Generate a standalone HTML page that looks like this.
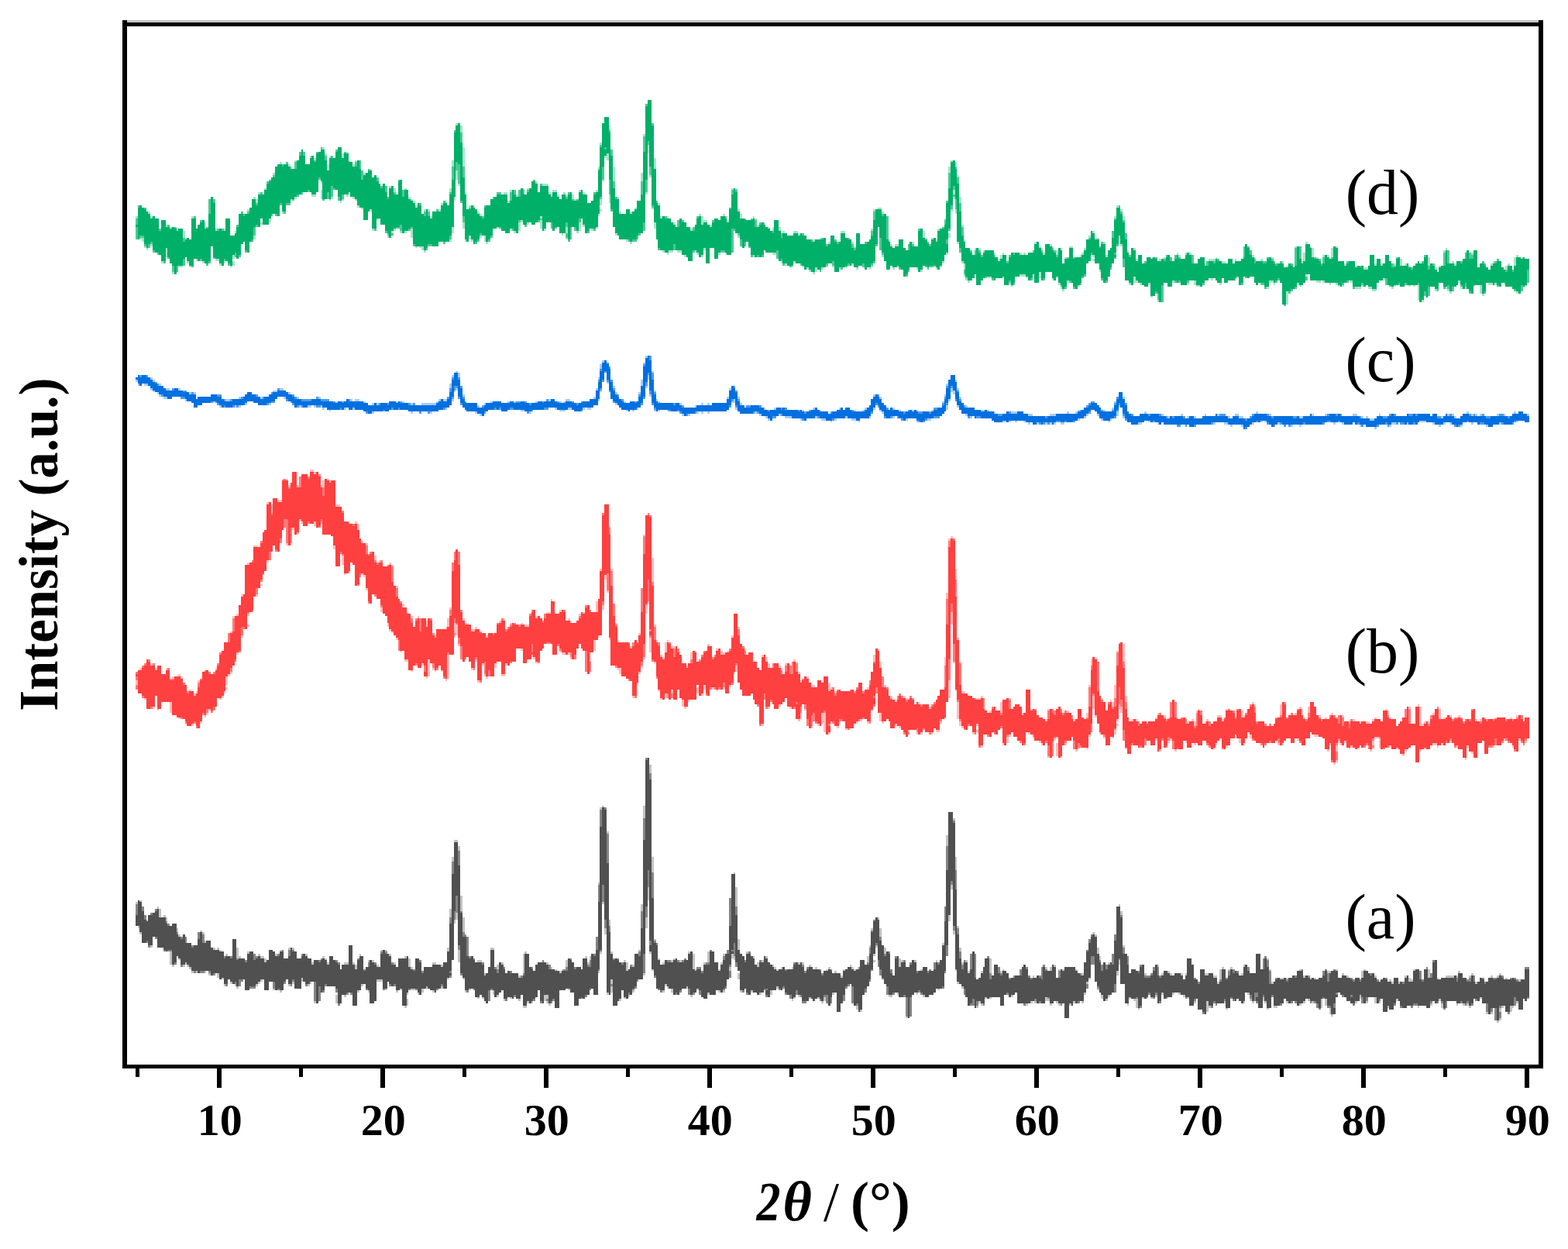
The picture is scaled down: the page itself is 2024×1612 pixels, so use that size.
<!DOCTYPE html>
<html lang="en">
<head>
<meta charset="utf-8">
<title>XRD patterns</title>
<style>
html,body{margin:0;padding:0;background:#fff;}
body{width:2024px;height:1612px;overflow:hidden;}
svg{display:block;}
text{font-family:"Liberation Serif","DejaVu Serif",serif;fill:#000;}
.tl{font-size:58px;font-weight:bold;}
.lab{font-size:82px;}
.yl{font-size:72px;font-weight:bold;}
.xl{font-size:72px;font-weight:bold;}
</style>
</head>
<body>
<svg width="2024" height="1612" viewBox="0 0 2024 1612">
<rect x="0" y="0" width="2024" height="1612" fill="#fff"/>
<g id="curves" shape-rendering="crispEdges">
<g id="curve-a">
<path fill="#C2C2C2" d="M174.79 1164.46h2.78v2.78h-2.78zM177.56 1195h2.78v2.78h-2.78zM180.34 1161.69h2.78v2.78h-2.78zM180.34 1203.33h2.78v2.78h-2.78zM188.67 1186.68h2.78v2.78h-2.78zM194.22 1219.99h2.78v2.78h-2.78zM202.55 1170.02h2.78v2.78h-2.78zM205.33 1172.79h2.78v11.11h-2.78zM210.88 1181.12h2.78v2.78h-2.78zM213.66 1183.9h2.78v5.55h-2.78zM219.21 1228.32h2.78v16.66h-2.78zM221.99 1244.98h2.78v2.78h-2.78zM227.54 1197.78h2.78v5.55h-2.78zM230.32 1206.11h2.78v2.78h-2.78zM230.32 1236.65h2.78v2.78h-2.78zM235.87 1244.98h2.78v2.78h-2.78zM238.65 1242.2h2.78v2.78h-2.78zM241.42 1244.98h2.78v2.78h-2.78zM244.2 1247.76h2.78v2.78h-2.78zM246.97 1253.31h2.78v2.78h-2.78zM252.53 1253.31h2.78v2.78h-2.78zM258.08 1200.56h2.78v2.78h-2.78zM260.86 1203.33h2.78v2.78h-2.78zM263.63 1214.44h2.78v2.78h-2.78zM263.63 1253.31h2.78v2.78h-2.78zM269.19 1256.09h2.78v2.78h-2.78zM274.74 1222.77h2.78v2.78h-2.78zM280.29 1222.77h2.78v2.78h-2.78zM280.29 1256.09h2.78v5.55h-2.78zM283.07 1225.54h2.78v2.78h-2.78zM285.84 1261.64h2.78v2.78h-2.78zM288.62 1269.97h2.78v2.78h-2.78zM291.4 1231.1h2.78v2.78h-2.78zM296.95 1267.19h2.78v2.78h-2.78zM302.5 1269.97h2.78v2.78h-2.78zM305.28 1222.77h2.78v13.88h-2.78zM305.28 1272.74h2.78v2.78h-2.78zM308.06 1233.87h2.78v2.78h-2.78zM319.16 1228.32h2.78v2.78h-2.78zM330.27 1269.97h2.78v2.78h-2.78zM333.04 1231.1h2.78v2.78h-2.78zM333.04 1267.19h2.78v2.78h-2.78zM335.82 1233.87h2.78v2.78h-2.78zM335.82 1264.41h2.78v2.78h-2.78zM338.6 1233.87h2.78v2.78h-2.78zM341.37 1236.65h2.78v5.55h-2.78zM352.48 1275.52h2.78v2.78h-2.78zM355.25 1231.1h2.78v2.78h-2.78zM360.81 1225.54h2.78v2.78h-2.78zM360.81 1278.3h2.78v2.78h-2.78zM371.91 1222.77h2.78v2.78h-2.78zM371.91 1269.97h2.78v2.78h-2.78zM377.47 1222.77h2.78v2.78h-2.78zM377.47 1267.19h2.78v2.78h-2.78zM388.57 1261.64h2.78v5.55h-2.78zM394.12 1231.1h2.78v2.78h-2.78zM396.9 1269.97h2.78v2.78h-2.78zM399.68 1267.19h2.78v2.78h-2.78zM402.45 1242.2h2.78v2.78h-2.78zM405.23 1292.18h2.78v2.78h-2.78zM416.34 1233.87h2.78v2.78h-2.78zM419.11 1236.65h2.78v2.78h-2.78zM421.89 1242.2h2.78v2.78h-2.78zM432.99 1283.85h2.78v11.11h-2.78zM444.1 1242.2h2.78v2.78h-2.78zM444.1 1283.85h2.78v2.78h-2.78zM446.88 1242.2h2.78v2.78h-2.78zM455.2 1242.2h2.78v2.78h-2.78zM457.98 1244.98h2.78v5.55h-2.78zM460.76 1278.3h2.78v2.78h-2.78zM463.53 1231.1h2.78v2.78h-2.78zM466.31 1269.97h2.78v2.78h-2.78zM474.64 1239.43h2.78v2.78h-2.78zM474.64 1278.3h2.78v2.78h-2.78zM480.19 1239.43h2.78v2.78h-2.78zM485.75 1244.98h2.78v2.78h-2.78zM485.75 1264.41h2.78v2.78h-2.78zM488.52 1264.41h2.78v2.78h-2.78zM491.3 1225.54h2.78v2.78h-2.78zM491.3 1264.41h2.78v2.78h-2.78zM496.85 1225.54h2.78v2.78h-2.78zM496.85 1275.52h2.78v2.78h-2.78zM502.4 1231.1h2.78v2.78h-2.78zM507.96 1242.2h2.78v2.78h-2.78zM510.73 1278.3h2.78v2.78h-2.78zM516.29 1275.52h2.78v2.78h-2.78zM521.84 1233.87h2.78v2.78h-2.78zM521.84 1297.73h2.78v2.78h-2.78zM524.61 1281.07h2.78v2.78h-2.78zM524.61 1289.4h2.78v8.33h-2.78zM527.39 1236.65h2.78v11.11h-2.78zM530.17 1247.76h2.78v2.78h-2.78zM530.17 1275.52h2.78v2.78h-2.78zM532.94 1275.52h2.78v2.78h-2.78zM538.5 1281.07h2.78v2.78h-2.78zM544.05 1275.52h2.78v5.55h-2.78zM549.6 1272.74h2.78v2.78h-2.78zM557.93 1242.2h2.78v2.78h-2.78zM557.93 1278.3h2.78v2.78h-2.78zM560.71 1242.2h2.78v2.78h-2.78zM569.04 1244.98h2.78v2.78h-2.78zM569.04 1272.74h2.78v2.78h-2.78zM577.37 1222.77h2.78v5.55h-2.78zM577.37 1261.64h2.78v2.78h-2.78zM580.14 1172.79h2.78v11.11h-2.78zM582.92 1106.16h2.78v5.55h-2.78zM585.7 1083.95h2.78v2.78h-2.78zM585.7 1186.68h2.78v5.55h-2.78zM588.47 1083.95h2.78v2.78h-2.78zM588.47 1178.35h2.78v8.33h-2.78zM591.25 1092.28h2.78v5.55h-2.78zM591.25 1225.54h2.78v16.66h-2.78zM594.02 1156.13h2.78v19.43h-2.78zM596.8 1183.9h2.78v19.43h-2.78zM596.8 1261.64h2.78v2.78h-2.78zM599.58 1278.3h2.78v2.78h-2.78zM605.13 1275.52h2.78v2.78h-2.78zM616.24 1239.43h2.78v2.78h-2.78zM616.24 1286.63h2.78v2.78h-2.78zM619.01 1239.43h2.78v2.78h-2.78zM621.79 1286.63h2.78v2.78h-2.78zM624.57 1256.09h2.78v2.78h-2.78zM632.89 1222.77h2.78v2.78h-2.78zM635.67 1222.77h2.78v2.78h-2.78zM635.67 1278.3h2.78v5.55h-2.78zM641.22 1244.98h2.78v5.55h-2.78zM641.22 1283.85h2.78v2.78h-2.78zM646.78 1242.2h2.78v2.78h-2.78zM649.55 1289.4h2.78v2.78h-2.78zM657.88 1286.63h2.78v2.78h-2.78zM668.99 1258.86h2.78v2.78h-2.78zM668.99 1289.4h2.78v2.78h-2.78zM674.54 1231.1h2.78v24.99h-2.78zM674.54 1297.73h2.78v2.78h-2.78zM677.32 1228.32h2.78v2.78h-2.78zM677.32 1297.73h2.78v2.78h-2.78zM680.09 1292.18h2.78v2.78h-2.78zM685.65 1292.18h2.78v2.78h-2.78zM702.3 1283.85h2.78v8.33h-2.78zM705.08 1242.2h2.78v2.78h-2.78zM705.08 1283.85h2.78v5.55h-2.78zM705.08 1292.18h2.78v2.78h-2.78zM707.86 1294.95h2.78v2.78h-2.78zM710.63 1247.76h2.78v2.78h-2.78zM716.19 1250.53h2.78v2.78h-2.78zM721.74 1253.31h2.78v2.78h-2.78zM724.52 1250.53h2.78v2.78h-2.78zM730.07 1239.43h2.78v8.33h-2.78zM732.84 1275.52h2.78v2.78h-2.78zM755.06 1233.87h2.78v2.78h-2.78zM757.83 1242.2h2.78v2.78h-2.78zM760.61 1233.87h2.78v5.55h-2.78zM771.71 1139.48h2.78v2.78h-2.78zM771.71 1253.31h2.78v2.78h-2.78zM774.49 1042.3h2.78v2.78h-2.78zM774.49 1228.32h2.78v2.78h-2.78zM777.27 1039.53h2.78v2.78h-2.78zM777.27 1164.46h2.78v2.78h-2.78zM780.04 1197.78h2.78v8.33h-2.78zM782.82 1072.84h2.78v2.78h-2.78zM782.82 1281.07h2.78v2.78h-2.78zM785.6 1186.68h2.78v8.33h-2.78zM788.37 1228.32h2.78v2.78h-2.78zM788.37 1264.41h2.78v5.55h-2.78zM788.37 1272.74h2.78v8.33h-2.78zM799.48 1289.4h2.78v2.78h-2.78zM805.03 1239.43h2.78v2.78h-2.78zM805.03 1286.63h2.78v2.78h-2.78zM807.81 1242.2h2.78v11.11h-2.78zM810.58 1283.85h2.78v2.78h-2.78zM816.14 1244.98h2.78v2.78h-2.78zM816.14 1278.3h2.78v2.78h-2.78zM824.47 1225.54h2.78v2.78h-2.78zM827.24 1167.24h2.78v8.33h-2.78zM830.02 1039.53h2.78v16.66h-2.78zM830.02 1256.09h2.78v2.78h-2.78zM832.8 1183.9h2.78v13.88h-2.78zM835.57 1145.03h2.78v16.66h-2.78zM838.35 986.77h2.78v11.11h-2.78zM838.35 1228.32h2.78v2.78h-2.78zM841.12 1106.16h2.78v19.43h-2.78zM841.12 1250.53h2.78v2.78h-2.78zM843.9 1211.66h2.78v2.78h-2.78zM849.45 1236.65h2.78v2.78h-2.78zM855.01 1242.2h2.78v2.78h-2.78zM855.01 1278.3h2.78v2.78h-2.78zM857.78 1269.97h2.78v2.78h-2.78zM860.56 1272.74h2.78v2.78h-2.78zM866.11 1239.43h2.78v2.78h-2.78zM866.11 1275.52h2.78v5.55h-2.78zM868.89 1236.65h2.78v2.78h-2.78zM877.22 1239.43h2.78v2.78h-2.78zM885.55 1272.74h2.78v2.78h-2.78zM888.32 1228.32h2.78v2.78h-2.78zM891.1 1283.85h2.78v2.78h-2.78zM893.88 1231.1h2.78v19.43h-2.78zM896.65 1250.53h2.78v2.78h-2.78zM899.43 1275.52h2.78v2.78h-2.78zM907.76 1242.2h2.78v2.78h-2.78zM913.31 1228.32h2.78v13.88h-2.78zM913.31 1281.07h2.78v2.78h-2.78zM927.19 1250.53h2.78v2.78h-2.78zM927.19 1278.3h2.78v2.78h-2.78zM929.97 1242.2h2.78v2.78h-2.78zM932.75 1231.1h2.78v2.78h-2.78zM932.75 1278.3h2.78v2.78h-2.78zM941.07 1247.76h2.78v5.55h-2.78zM943.85 1231.1h2.78v5.55h-2.78zM946.63 1125.59h2.78v2.78h-2.78zM946.63 1233.87h2.78v5.55h-2.78zM949.4 1145.03h2.78v24.99h-2.78zM952.18 1211.66h2.78v13.88h-2.78zM952.18 1256.09h2.78v8.33h-2.78zM954.96 1278.3h2.78v2.78h-2.78zM963.29 1228.32h2.78v2.78h-2.78zM968.84 1278.3h2.78v2.78h-2.78zM971.62 1233.87h2.78v2.78h-2.78zM977.17 1242.2h2.78v5.55h-2.78zM979.94 1281.07h2.78v2.78h-2.78zM982.72 1239.43h2.78v2.78h-2.78zM988.27 1233.87h2.78v2.78h-2.78zM993.83 1278.3h2.78v5.55h-2.78zM996.6 1244.98h2.78v2.78h-2.78zM999.38 1247.76h2.78v2.78h-2.78zM1002.16 1250.53h2.78v2.78h-2.78zM1002.16 1272.74h2.78v2.78h-2.78zM1007.71 1247.76h2.78v2.78h-2.78zM1021.59 1247.76h2.78v2.78h-2.78zM1021.59 1289.4h2.78v2.78h-2.78zM1024.37 1286.63h2.78v2.78h-2.78zM1029.92 1242.2h2.78v2.78h-2.78zM1029.92 1283.85h2.78v2.78h-2.78zM1035.47 1242.2h2.78v2.78h-2.78zM1043.8 1244.98h2.78v2.78h-2.78zM1043.8 1286.63h2.78v2.78h-2.78zM1052.13 1247.76h2.78v2.78h-2.78zM1054.91 1286.63h2.78v2.78h-2.78zM1060.46 1292.18h2.78v2.78h-2.78zM1063.24 1286.63h2.78v5.55h-2.78zM1066.01 1250.53h2.78v2.78h-2.78zM1068.79 1247.76h2.78v2.78h-2.78zM1074.34 1281.07h2.78v2.78h-2.78zM1077.12 1253.31h2.78v2.78h-2.78zM1085.45 1258.86h2.78v2.78h-2.78zM1088.22 1250.53h2.78v2.78h-2.78zM1096.55 1244.98h2.78v2.78h-2.78zM1099.33 1247.76h2.78v2.78h-2.78zM1102.11 1250.53h2.78v2.78h-2.78zM1104.88 1297.73h2.78v5.55h-2.78zM1110.44 1303.28h2.78v2.78h-2.78zM1118.76 1233.87h2.78v8.33h-2.78zM1121.54 1219.99h2.78v2.78h-2.78zM1124.32 1197.78h2.78v2.78h-2.78zM1127.09 1231.1h2.78v2.78h-2.78zM1127.09 1239.43h2.78v2.78h-2.78zM1129.87 1219.99h2.78v2.78h-2.78zM1132.65 1183.9h2.78v2.78h-2.78zM1135.42 1197.78h2.78v11.11h-2.78zM1140.98 1222.77h2.78v8.33h-2.78zM1146.53 1283.85h2.78v2.78h-2.78zM1149.3 1283.85h2.78v2.78h-2.78zM1157.63 1281.07h2.78v2.78h-2.78zM1160.41 1236.65h2.78v11.11h-2.78zM1163.19 1239.43h2.78v2.78h-2.78zM1168.74 1311.61h2.78v2.78h-2.78zM1179.85 1239.43h2.78v2.78h-2.78zM1182.62 1281.07h2.78v2.78h-2.78zM1188.17 1250.53h2.78v2.78h-2.78zM1190.95 1283.85h2.78v2.78h-2.78zM1207.61 1239.43h2.78v2.78h-2.78zM1210.39 1275.52h2.78v2.78h-2.78zM1215.94 1217.22h2.78v2.78h-2.78zM1221.49 1078.4h2.78v13.88h-2.78zM1224.27 1181.12h2.78v8.33h-2.78zM1227.04 1142.25h2.78v5.55h-2.78zM1229.82 1056.18h2.78v2.78h-2.78zM1229.82 1200.56h2.78v5.55h-2.78zM1232.6 1106.16h2.78v16.66h-2.78zM1232.6 1250.53h2.78v2.78h-2.78zM1235.37 1195h2.78v2.78h-2.78zM1235.37 1267.19h2.78v2.78h-2.78zM1238.15 1222.77h2.78v5.55h-2.78zM1240.93 1242.2h2.78v2.78h-2.78zM1240.93 1272.74h2.78v2.78h-2.78zM1246.48 1239.43h2.78v2.78h-2.78zM1249.26 1253.31h2.78v2.78h-2.78zM1260.36 1297.73h2.78v2.78h-2.78zM1263.14 1292.18h2.78v2.78h-2.78zM1265.91 1253.31h2.78v2.78h-2.78zM1265.91 1294.95h2.78v2.78h-2.78zM1271.47 1286.63h2.78v2.78h-2.78zM1277.02 1236.65h2.78v19.43h-2.78zM1277.02 1286.63h2.78v2.78h-2.78zM1290.9 1253.31h2.78v2.78h-2.78zM1293.68 1250.53h2.78v2.78h-2.78zM1304.78 1283.85h2.78v2.78h-2.78zM1324.22 1294.95h2.78v2.78h-2.78zM1329.77 1292.18h2.78v2.78h-2.78zM1332.55 1258.86h2.78v2.78h-2.78zM1335.32 1292.18h2.78v2.78h-2.78zM1349.21 1247.76h2.78v2.78h-2.78zM1349.21 1286.63h2.78v5.55h-2.78zM1351.98 1289.4h2.78v2.78h-2.78zM1354.76 1247.76h2.78v5.55h-2.78zM1354.76 1294.95h2.78v2.78h-2.78zM1360.31 1244.98h2.78v2.78h-2.78zM1363.09 1292.18h2.78v2.78h-2.78zM1365.86 1250.53h2.78v2.78h-2.78zM1365.86 1294.95h2.78v2.78h-2.78zM1371.42 1250.53h2.78v2.78h-2.78zM1379.75 1294.95h2.78v2.78h-2.78zM1385.3 1292.18h2.78v2.78h-2.78zM1388.08 1250.53h2.78v2.78h-2.78zM1396.4 1256.09h2.78v2.78h-2.78zM1396.4 1292.18h2.78v2.78h-2.78zM1399.18 1281.07h2.78v2.78h-2.78zM1401.96 1267.19h2.78v2.78h-2.78zM1404.73 1261.64h2.78v2.78h-2.78zM1410.29 1203.33h2.78v2.78h-2.78zM1413.06 1206.11h2.78v2.78h-2.78zM1415.84 1222.77h2.78v8.33h-2.78zM1415.84 1275.52h2.78v2.78h-2.78zM1418.62 1233.87h2.78v5.55h-2.78zM1421.39 1283.85h2.78v5.55h-2.78zM1426.94 1289.4h2.78v2.78h-2.78zM1429.72 1242.2h2.78v2.78h-2.78zM1429.72 1283.85h2.78v2.78h-2.78zM1440.83 1253.31h2.78v5.55h-2.78zM1443.6 1167.24h2.78v2.78h-2.78zM1443.6 1239.43h2.78v5.55h-2.78zM1446.38 1175.57h2.78v5.55h-2.78zM1449.16 1219.99h2.78v2.78h-2.78zM1454.71 1294.95h2.78v2.78h-2.78zM1457.49 1286.63h2.78v2.78h-2.78zM1463.04 1289.4h2.78v2.78h-2.78zM1465.81 1289.4h2.78v11.11h-2.78zM1468.59 1300.51h2.78v2.78h-2.78zM1474.14 1286.63h2.78v2.78h-2.78zM1476.92 1256.09h2.78v2.78h-2.78zM1479.7 1286.63h2.78v2.78h-2.78zM1485.25 1286.63h2.78v2.78h-2.78zM1490.8 1283.85h2.78v2.78h-2.78zM1493.58 1244.98h2.78v2.78h-2.78zM1499.13 1256.09h2.78v2.78h-2.78zM1499.13 1281.07h2.78v2.78h-2.78zM1507.46 1253.31h2.78v2.78h-2.78zM1510.24 1256.09h2.78v2.78h-2.78zM1513.01 1281.07h2.78v2.78h-2.78zM1521.34 1281.07h2.78v2.78h-2.78zM1524.12 1256.09h2.78v2.78h-2.78zM1526.9 1283.85h2.78v2.78h-2.78zM1529.67 1256.09h2.78v2.78h-2.78zM1532.45 1286.63h2.78v2.78h-2.78zM1540.78 1292.18h2.78v2.78h-2.78zM1554.66 1256.09h2.78v2.78h-2.78zM1557.44 1256.09h2.78v2.78h-2.78zM1557.44 1292.18h2.78v13.88h-2.78zM1560.21 1297.73h2.78v2.78h-2.78zM1565.76 1258.86h2.78v2.78h-2.78zM1568.54 1258.86h2.78v2.78h-2.78zM1571.32 1267.19h2.78v2.78h-2.78zM1574.09 1250.53h2.78v13.88h-2.78zM1576.87 1247.76h2.78v2.78h-2.78zM1579.65 1292.18h2.78v2.78h-2.78zM1582.42 1300.51h2.78v2.78h-2.78zM1585.2 1250.53h2.78v2.78h-2.78zM1587.98 1247.76h2.78v2.78h-2.78zM1601.86 1256.09h2.78v2.78h-2.78zM1604.63 1244.98h2.78v2.78h-2.78zM1604.63 1292.18h2.78v2.78h-2.78zM1610.19 1281.07h2.78v2.78h-2.78zM1612.96 1289.4h2.78v2.78h-2.78zM1615.74 1292.18h2.78v2.78h-2.78zM1629.62 1286.63h2.78v5.55h-2.78zM1632.4 1292.18h2.78v2.78h-2.78zM1635.17 1236.65h2.78v2.78h-2.78zM1635.17 1300.51h2.78v2.78h-2.78zM1637.95 1250.53h2.78v2.78h-2.78zM1640.73 1267.19h2.78v2.78h-2.78zM1643.5 1297.73h2.78v2.78h-2.78zM1646.28 1297.73h2.78v2.78h-2.78zM1651.83 1261.64h2.78v2.78h-2.78zM1654.61 1261.64h2.78v2.78h-2.78zM1660.16 1261.64h2.78v2.78h-2.78zM1660.16 1292.18h2.78v2.78h-2.78zM1676.82 1250.53h2.78v2.78h-2.78zM1676.82 1294.95h2.78v2.78h-2.78zM1682.37 1258.86h2.78v2.78h-2.78zM1682.37 1292.18h2.78v2.78h-2.78zM1687.93 1289.4h2.78v2.78h-2.78zM1690.7 1261.64h2.78v2.78h-2.78zM1693.48 1292.18h2.78v2.78h-2.78zM1696.26 1261.64h2.78v2.78h-2.78zM1704.58 1289.4h2.78v11.11h-2.78zM1710.14 1289.4h2.78v8.33h-2.78zM1712.91 1253.31h2.78v2.78h-2.78zM1715.69 1253.31h2.78v2.78h-2.78zM1715.69 1300.51h2.78v8.33h-2.78zM1718.47 1308.84h2.78v2.78h-2.78zM1724.02 1250.53h2.78v2.78h-2.78zM1732.35 1256.09h2.78v2.78h-2.78zM1737.9 1258.86h2.78v2.78h-2.78zM1749.01 1292.18h2.78v2.78h-2.78zM1754.56 1283.85h2.78v5.55h-2.78zM1757.34 1253.31h2.78v8.33h-2.78zM1760.11 1250.53h2.78v2.78h-2.78zM1762.89 1292.18h2.78v2.78h-2.78zM1773.99 1258.86h2.78v2.78h-2.78zM1773.99 1286.63h2.78v8.33h-2.78zM1779.55 1292.18h2.78v2.78h-2.78zM1790.65 1297.73h2.78v2.78h-2.78zM1793.43 1264.41h2.78v2.78h-2.78zM1796.21 1267.19h2.78v2.78h-2.78zM1801.76 1289.4h2.78v2.78h-2.78zM1804.54 1267.19h2.78v2.78h-2.78zM1812.86 1258.86h2.78v2.78h-2.78zM1818.42 1261.64h2.78v5.55h-2.78zM1821.19 1264.41h2.78v2.78h-2.78zM1823.97 1250.53h2.78v2.78h-2.78zM1829.52 1297.73h2.78v2.78h-2.78zM1843.4 1250.53h2.78v11.11h-2.78zM1846.18 1294.95h2.78v2.78h-2.78zM1854.51 1261.64h2.78v2.78h-2.78zM1857.29 1289.4h2.78v2.78h-2.78zM1860.06 1294.95h2.78v5.55h-2.78zM1865.62 1258.86h2.78v2.78h-2.78zM1868.39 1258.86h2.78v2.78h-2.78zM1871.17 1258.86h2.78v2.78h-2.78zM1873.95 1258.86h2.78v2.78h-2.78zM1879.5 1258.86h2.78v2.78h-2.78zM1879.5 1294.95h2.78v2.78h-2.78zM1882.27 1253.31h2.78v2.78h-2.78zM1887.83 1294.95h2.78v2.78h-2.78zM1893.38 1294.95h2.78v2.78h-2.78zM1896.16 1258.86h2.78v2.78h-2.78zM1896.16 1297.73h2.78v2.78h-2.78zM1898.93 1256.09h2.78v2.78h-2.78zM1904.49 1267.19h2.78v2.78h-2.78zM1910.04 1286.63h2.78v2.78h-2.78zM1918.37 1306.06h2.78v2.78h-2.78zM1923.92 1258.86h2.78v2.78h-2.78zM1923.92 1306.06h2.78v2.78h-2.78zM1932.25 1258.86h2.78v2.78h-2.78zM1932.25 1317.17h2.78v2.78h-2.78zM1935.03 1256.09h2.78v2.78h-2.78zM1935.03 1300.51h2.78v5.55h-2.78zM1935.03 1314.39h2.78v2.78h-2.78zM1937.8 1297.73h2.78v2.78h-2.78zM1943.36 1261.64h2.78v2.78h-2.78zM1948.91 1297.73h2.78v8.33h-2.78zM1951.68 1297.73h2.78v2.78h-2.78zM1957.24 1292.18h2.78v2.78h-2.78zM1960.01 1264.41h2.78v2.78h-2.78z"/>
<path fill="#848484" d="M174.79 1167.24h2.78v13.88h-2.78zM183.12 1170.02h2.78v5.55h-2.78zM185.89 1181.12h2.78v5.55h-2.78zM188.67 1214.44h2.78v2.78h-2.78zM191.45 1219.99h2.78v2.78h-2.78zM194.22 1178.35h2.78v2.78h-2.78zM199.78 1172.79h2.78v2.78h-2.78zM199.78 1208.89h2.78v2.78h-2.78zM210.88 1225.54h2.78v2.78h-2.78zM213.66 1189.45h2.78v2.78h-2.78zM216.43 1192.23h2.78v2.78h-2.78zM216.43 1225.54h2.78v2.78h-2.78zM219.21 1225.54h2.78v2.78h-2.78zM224.76 1242.2h2.78v2.78h-2.78zM227.54 1203.33h2.78v2.78h-2.78zM233.09 1208.89h2.78v2.78h-2.78zM233.09 1244.98h2.78v2.78h-2.78zM238.65 1208.89h2.78v8.33h-2.78zM246.97 1219.99h2.78v2.78h-2.78zM249.75 1253.31h2.78v2.78h-2.78zM255.3 1203.33h2.78v8.33h-2.78zM258.08 1253.31h2.78v2.78h-2.78zM260.86 1206.11h2.78v11.11h-2.78zM260.86 1253.31h2.78v2.78h-2.78zM269.19 1253.31h2.78v2.78h-2.78zM274.74 1256.09h2.78v2.78h-2.78zM288.62 1233.87h2.78v2.78h-2.78zM291.4 1269.97h2.78v2.78h-2.78zM296.95 1233.87h2.78v2.78h-2.78zM302.5 1267.19h2.78v2.78h-2.78zM305.28 1236.65h2.78v2.78h-2.78zM308.06 1264.41h2.78v8.33h-2.78zM310.83 1264.41h2.78v2.78h-2.78zM316.38 1239.43h2.78v2.78h-2.78zM321.94 1272.74h2.78v2.78h-2.78zM324.71 1272.74h2.78v2.78h-2.78zM327.49 1231.1h2.78v8.33h-2.78zM327.49 1272.74h2.78v2.78h-2.78zM330.27 1233.87h2.78v2.78h-2.78zM352.48 1267.19h2.78v8.33h-2.78zM358.03 1231.1h2.78v2.78h-2.78zM358.03 1275.52h2.78v2.78h-2.78zM363.58 1225.54h2.78v2.78h-2.78zM366.36 1267.19h2.78v2.78h-2.78zM371.91 1225.54h2.78v8.33h-2.78zM374.69 1269.97h2.78v2.78h-2.78zM377.47 1225.54h2.78v2.78h-2.78zM377.47 1264.41h2.78v2.78h-2.78zM388.57 1231.1h2.78v2.78h-2.78zM394.12 1269.97h2.78v2.78h-2.78zM405.23 1267.19h2.78v24.99h-2.78zM410.78 1239.43h2.78v2.78h-2.78zM410.78 1272.74h2.78v19.43h-2.78zM413.56 1236.65h2.78v2.78h-2.78zM416.34 1278.3h2.78v2.78h-2.78zM419.11 1269.97h2.78v2.78h-2.78zM432.99 1239.43h2.78v2.78h-2.78zM432.99 1275.52h2.78v5.55h-2.78zM435.77 1242.2h2.78v2.78h-2.78zM435.77 1294.95h2.78v2.78h-2.78zM446.88 1281.07h2.78v2.78h-2.78zM452.43 1281.07h2.78v2.78h-2.78zM460.76 1236.65h2.78v2.78h-2.78zM469.09 1250.53h2.78v2.78h-2.78zM471.86 1275.52h2.78v2.78h-2.78zM474.64 1242.2h2.78v5.55h-2.78zM482.97 1242.2h2.78v2.78h-2.78zM491.3 1228.32h2.78v2.78h-2.78zM494.07 1275.52h2.78v2.78h-2.78zM496.85 1228.32h2.78v2.78h-2.78zM502.4 1269.97h2.78v2.78h-2.78zM505.18 1242.2h2.78v2.78h-2.78zM507.96 1269.97h2.78v2.78h-2.78zM527.39 1275.52h2.78v2.78h-2.78zM532.94 1250.53h2.78v2.78h-2.78zM535.72 1275.52h2.78v2.78h-2.78zM541.27 1239.43h2.78v2.78h-2.78zM544.05 1253.31h2.78v2.78h-2.78zM563.48 1275.52h2.78v2.78h-2.78zM569.04 1269.97h2.78v2.78h-2.78zM580.14 1183.9h2.78v8.33h-2.78zM580.14 1253.31h2.78v2.78h-2.78zM580.14 1258.86h2.78v2.78h-2.78zM582.92 1111.71h2.78v16.66h-2.78zM585.7 1175.57h2.78v11.11h-2.78zM588.47 1156.13h2.78v22.21h-2.78zM591.25 1097.83h2.78v19.43h-2.78zM591.25 1219.99h2.78v5.55h-2.78zM594.02 1175.57h2.78v2.78h-2.78zM594.02 1256.09h2.78v2.78h-2.78zM596.8 1203.33h2.78v5.55h-2.78zM599.58 1206.11h2.78v2.78h-2.78zM602.35 1208.89h2.78v24.99h-2.78zM602.35 1278.3h2.78v2.78h-2.78zM605.13 1233.87h2.78v2.78h-2.78zM610.68 1236.65h2.78v2.78h-2.78zM610.68 1275.52h2.78v2.78h-2.78zM621.79 1242.2h2.78v2.78h-2.78zM630.12 1278.3h2.78v13.88h-2.78zM632.89 1275.52h2.78v2.78h-2.78zM638.45 1247.76h2.78v2.78h-2.78zM641.22 1250.53h2.78v5.55h-2.78zM649.55 1247.76h2.78v2.78h-2.78zM652.33 1289.4h2.78v2.78h-2.78zM657.88 1253.31h2.78v2.78h-2.78zM663.43 1283.85h2.78v2.78h-2.78zM671.76 1258.86h2.78v2.78h-2.78zM674.54 1256.09h2.78v2.78h-2.78zM685.65 1247.76h2.78v2.78h-2.78zM688.42 1289.4h2.78v2.78h-2.78zM696.75 1292.18h2.78v2.78h-2.78zM699.53 1239.43h2.78v2.78h-2.78zM705.08 1289.4h2.78v2.78h-2.78zM707.86 1244.98h2.78v5.55h-2.78zM710.63 1292.18h2.78v2.78h-2.78zM713.41 1289.4h2.78v2.78h-2.78zM727.29 1250.53h2.78v2.78h-2.78zM730.07 1247.76h2.78v5.55h-2.78zM735.62 1236.65h2.78v2.78h-2.78zM741.17 1247.76h2.78v2.78h-2.78zM749.5 1286.63h2.78v2.78h-2.78zM755.06 1283.85h2.78v2.78h-2.78zM757.83 1244.98h2.78v2.78h-2.78zM760.61 1239.43h2.78v8.33h-2.78zM760.61 1275.52h2.78v2.78h-2.78zM766.16 1231.1h2.78v2.78h-2.78zM768.94 1208.89h2.78v16.66h-2.78zM771.71 1142.25h2.78v22.21h-2.78zM771.71 1250.53h2.78v2.78h-2.78zM774.49 1045.08h2.78v22.21h-2.78zM774.49 1225.54h2.78v2.78h-2.78zM777.27 1142.25h2.78v22.21h-2.78zM780.04 1042.3h2.78v2.78h-2.78zM780.04 1186.68h2.78v11.11h-2.78zM782.82 1075.62h2.78v38.87h-2.78zM785.6 1195h2.78v8.33h-2.78zM788.37 1269.97h2.78v2.78h-2.78zM791.15 1236.65h2.78v2.78h-2.78zM796.7 1236.65h2.78v2.78h-2.78zM802.25 1242.2h2.78v2.78h-2.78zM810.58 1281.07h2.78v2.78h-2.78zM813.36 1244.98h2.78v2.78h-2.78zM816.14 1275.52h2.78v2.78h-2.78zM818.91 1272.74h2.78v2.78h-2.78zM821.69 1264.41h2.78v2.78h-2.78zM824.47 1228.32h2.78v5.55h-2.78zM827.24 1175.57h2.78v22.21h-2.78zM830.02 1056.18h2.78v27.76h-2.78zM830.02 1231.1h2.78v24.99h-2.78zM832.8 978.45h2.78v2.78h-2.78zM832.8 1170.02h2.78v13.88h-2.78zM835.57 1122.82h2.78v22.21h-2.78zM838.35 997.88h2.78v8.33h-2.78zM838.35 1214.44h2.78v5.55h-2.78zM841.12 1125.59h2.78v33.32h-2.78zM843.9 1214.44h2.78v2.78h-2.78zM843.9 1258.86h2.78v2.78h-2.78zM846.68 1217.22h2.78v2.78h-2.78zM849.45 1275.52h2.78v2.78h-2.78zM852.23 1278.3h2.78v2.78h-2.78zM860.56 1239.43h2.78v2.78h-2.78zM863.34 1239.43h2.78v2.78h-2.78zM871.66 1281.07h2.78v2.78h-2.78zM874.44 1239.43h2.78v2.78h-2.78zM877.22 1278.3h2.78v2.78h-2.78zM879.99 1239.43h2.78v2.78h-2.78zM882.77 1236.65h2.78v2.78h-2.78zM888.32 1275.52h2.78v8.33h-2.78zM893.88 1281.07h2.78v2.78h-2.78zM899.43 1247.76h2.78v2.78h-2.78zM902.21 1247.76h2.78v2.78h-2.78zM902.21 1278.3h2.78v5.55h-2.78zM904.98 1253.31h2.78v2.78h-2.78zM910.53 1242.2h2.78v2.78h-2.78zM913.31 1242.2h2.78v2.78h-2.78zM916.09 1225.54h2.78v2.78h-2.78zM932.75 1233.87h2.78v5.55h-2.78zM932.75 1275.52h2.78v2.78h-2.78zM935.52 1272.74h2.78v2.78h-2.78zM938.3 1225.54h2.78v5.55h-2.78zM941.07 1158.91h2.78v36.09h-2.78zM941.07 1244.98h2.78v2.78h-2.78zM941.07 1253.31h2.78v8.33h-2.78zM943.85 1225.54h2.78v2.78h-2.78zM946.63 1217.22h2.78v16.66h-2.78zM949.4 1170.02h2.78v11.11h-2.78zM949.4 1242.2h2.78v5.55h-2.78zM957.73 1278.3h2.78v2.78h-2.78zM960.51 1239.43h2.78v2.78h-2.78zM963.29 1281.07h2.78v2.78h-2.78zM966.06 1228.32h2.78v2.78h-2.78zM979.94 1239.43h2.78v2.78h-2.78zM985.5 1275.52h2.78v2.78h-2.78zM988.27 1275.52h2.78v2.78h-2.78zM988.27 1283.85h2.78v2.78h-2.78zM1004.93 1275.52h2.78v2.78h-2.78zM1010.48 1272.74h2.78v2.78h-2.78zM1013.26 1250.53h2.78v2.78h-2.78zM1013.26 1281.07h2.78v2.78h-2.78zM1018.81 1283.85h2.78v5.55h-2.78zM1024.37 1242.2h2.78v2.78h-2.78zM1027.14 1278.3h2.78v5.55h-2.78zM1032.7 1283.85h2.78v2.78h-2.78zM1035.47 1244.98h2.78v2.78h-2.78zM1035.47 1292.18h2.78v2.78h-2.78zM1038.25 1253.31h2.78v2.78h-2.78zM1038.25 1292.18h2.78v2.78h-2.78zM1041.03 1247.76h2.78v2.78h-2.78zM1057.68 1250.53h2.78v2.78h-2.78zM1057.68 1289.4h2.78v2.78h-2.78zM1060.46 1256.09h2.78v2.78h-2.78zM1063.24 1283.85h2.78v2.78h-2.78zM1066.01 1283.85h2.78v11.11h-2.78zM1071.57 1250.53h2.78v2.78h-2.78zM1071.57 1286.63h2.78v8.33h-2.78zM1088.22 1283.85h2.78v8.33h-2.78zM1091 1272.74h2.78v2.78h-2.78zM1093.78 1269.97h2.78v2.78h-2.78zM1099.33 1272.74h2.78v22.21h-2.78zM1104.88 1294.95h2.78v2.78h-2.78zM1107.66 1247.76h2.78v2.78h-2.78zM1115.99 1275.52h2.78v5.55h-2.78zM1118.76 1242.2h2.78v2.78h-2.78zM1121.54 1222.77h2.78v8.33h-2.78zM1121.54 1264.41h2.78v2.78h-2.78zM1124.32 1200.56h2.78v2.78h-2.78zM1124.32 1250.53h2.78v2.78h-2.78zM1127.09 1186.68h2.78v2.78h-2.78zM1129.87 1217.22h2.78v2.78h-2.78zM1132.65 1239.43h2.78v8.33h-2.78zM1135.42 1208.89h2.78v5.55h-2.78zM1135.42 1250.53h2.78v8.33h-2.78zM1138.2 1261.64h2.78v2.78h-2.78zM1140.98 1231.1h2.78v2.78h-2.78zM1143.75 1272.74h2.78v11.11h-2.78zM1146.53 1228.32h2.78v2.78h-2.78zM1149.3 1250.53h2.78v5.55h-2.78zM1152.08 1281.07h2.78v2.78h-2.78zM1154.86 1233.87h2.78v2.78h-2.78zM1165.96 1239.43h2.78v2.78h-2.78zM1165.96 1283.85h2.78v2.78h-2.78zM1168.74 1286.63h2.78v24.99h-2.78zM1174.29 1242.2h2.78v2.78h-2.78zM1174.29 1286.63h2.78v24.99h-2.78zM1182.62 1253.31h2.78v2.78h-2.78zM1185.4 1278.3h2.78v2.78h-2.78zM1188.17 1281.07h2.78v2.78h-2.78zM1196.5 1253.31h2.78v2.78h-2.78zM1199.28 1250.53h2.78v2.78h-2.78zM1204.83 1242.2h2.78v8.33h-2.78zM1210.39 1242.2h2.78v2.78h-2.78zM1215.94 1272.74h2.78v2.78h-2.78zM1218.71 1170.02h2.78v19.43h-2.78zM1218.71 1253.31h2.78v2.78h-2.78zM1221.49 1092.28h2.78v30.54h-2.78zM1221.49 1219.99h2.78v13.88h-2.78zM1227.04 1136.7h2.78v5.55h-2.78zM1229.82 1058.96h2.78v2.78h-2.78zM1229.82 1195h2.78v5.55h-2.78zM1232.6 1122.82h2.78v24.99h-2.78zM1235.37 1197.78h2.78v8.33h-2.78zM1238.15 1228.32h2.78v8.33h-2.78zM1240.93 1244.98h2.78v5.55h-2.78zM1243.7 1239.43h2.78v2.78h-2.78zM1243.7 1275.52h2.78v8.33h-2.78zM1252.03 1231.1h2.78v19.43h-2.78zM1252.03 1294.95h2.78v2.78h-2.78zM1254.81 1289.4h2.78v8.33h-2.78zM1257.58 1231.1h2.78v30.54h-2.78zM1260.36 1292.18h2.78v5.55h-2.78zM1268.69 1294.95h2.78v2.78h-2.78zM1274.24 1233.87h2.78v2.78h-2.78zM1277.02 1256.09h2.78v8.33h-2.78zM1288.12 1247.76h2.78v8.33h-2.78zM1290.9 1256.09h2.78v2.78h-2.78zM1299.23 1281.07h2.78v2.78h-2.78zM1302.01 1261.64h2.78v2.78h-2.78zM1307.56 1258.86h2.78v2.78h-2.78zM1315.89 1250.53h2.78v8.33h-2.78zM1321.44 1294.95h2.78v2.78h-2.78zM1324.22 1247.76h2.78v2.78h-2.78zM1326.99 1258.86h2.78v2.78h-2.78zM1329.77 1261.64h2.78v2.78h-2.78zM1335.32 1289.4h2.78v2.78h-2.78zM1340.88 1258.86h2.78v2.78h-2.78zM1340.88 1292.18h2.78v2.78h-2.78zM1343.65 1247.76h2.78v16.66h-2.78zM1346.43 1244.98h2.78v2.78h-2.78zM1349.21 1250.53h2.78v2.78h-2.78zM1351.98 1286.63h2.78v2.78h-2.78zM1365.86 1253.31h2.78v8.33h-2.78zM1368.64 1294.95h2.78v2.78h-2.78zM1390.85 1292.18h2.78v2.78h-2.78zM1393.63 1256.09h2.78v2.78h-2.78zM1401.96 1225.54h2.78v2.78h-2.78zM1401.96 1269.97h2.78v5.55h-2.78zM1404.73 1211.66h2.78v5.55h-2.78zM1407.51 1206.11h2.78v2.78h-2.78zM1407.51 1233.87h2.78v11.11h-2.78zM1410.29 1233.87h2.78v11.11h-2.78zM1415.84 1272.74h2.78v2.78h-2.78zM1418.62 1239.43h2.78v2.78h-2.78zM1421.39 1244.98h2.78v8.33h-2.78zM1426.94 1244.98h2.78v5.55h-2.78zM1435.27 1231.1h2.78v13.88h-2.78zM1438.05 1206.11h2.78v8.33h-2.78zM1438.05 1269.97h2.78v11.11h-2.78zM1443.6 1236.65h2.78v2.78h-2.78zM1446.38 1181.12h2.78v2.78h-2.78zM1449.16 1222.77h2.78v8.33h-2.78zM1454.71 1233.87h2.78v11.11h-2.78zM1465.81 1286.63h2.78v2.78h-2.78zM1468.59 1253.31h2.78v2.78h-2.78zM1471.37 1244.98h2.78v2.78h-2.78zM1471.37 1297.73h2.78v2.78h-2.78zM1476.92 1258.86h2.78v2.78h-2.78zM1479.7 1258.86h2.78v2.78h-2.78zM1482.47 1258.86h2.78v2.78h-2.78zM1482.47 1281.07h2.78v2.78h-2.78zM1485.25 1256.09h2.78v2.78h-2.78zM1488.03 1247.76h2.78v5.55h-2.78zM1488.03 1286.63h2.78v2.78h-2.78zM1490.8 1281.07h2.78v2.78h-2.78zM1493.58 1247.76h2.78v11.11h-2.78zM1496.35 1258.86h2.78v2.78h-2.78zM1496.35 1292.18h2.78v2.78h-2.78zM1504.68 1286.63h2.78v2.78h-2.78zM1529.67 1286.63h2.78v2.78h-2.78zM1540.78 1261.64h2.78v2.78h-2.78zM1540.78 1289.4h2.78v2.78h-2.78zM1546.33 1267.19h2.78v2.78h-2.78zM1551.88 1306.06h2.78v2.78h-2.78zM1562.99 1297.73h2.78v2.78h-2.78zM1565.76 1292.18h2.78v2.78h-2.78zM1568.54 1294.95h2.78v2.78h-2.78zM1574.09 1264.41h2.78v2.78h-2.78zM1579.65 1289.4h2.78v2.78h-2.78zM1582.42 1261.64h2.78v2.78h-2.78zM1585.2 1253.31h2.78v5.55h-2.78zM1587.98 1286.63h2.78v2.78h-2.78zM1590.75 1250.53h2.78v5.55h-2.78zM1590.75 1289.4h2.78v2.78h-2.78zM1596.31 1253.31h2.78v2.78h-2.78zM1610.19 1247.76h2.78v5.55h-2.78zM1612.96 1283.85h2.78v5.55h-2.78zM1618.52 1281.07h2.78v11.11h-2.78zM1621.29 1281.07h2.78v5.55h-2.78zM1621.29 1292.18h2.78v2.78h-2.78zM1629.62 1236.65h2.78v13.88h-2.78zM1629.62 1283.85h2.78v2.78h-2.78zM1632.4 1233.87h2.78v2.78h-2.78zM1635.17 1239.43h2.78v8.33h-2.78zM1637.95 1253.31h2.78v16.66h-2.78zM1640.73 1283.85h2.78v2.78h-2.78zM1646.28 1261.64h2.78v2.78h-2.78zM1651.83 1294.95h2.78v2.78h-2.78zM1660.16 1264.41h2.78v2.78h-2.78zM1665.72 1292.18h2.78v2.78h-2.78zM1671.27 1258.86h2.78v2.78h-2.78zM1671.27 1292.18h2.78v2.78h-2.78zM1679.6 1250.53h2.78v2.78h-2.78zM1687.93 1258.86h2.78v2.78h-2.78zM1690.7 1292.18h2.78v2.78h-2.78zM1696.26 1292.18h2.78v2.78h-2.78zM1699.03 1294.95h2.78v5.55h-2.78zM1701.81 1300.51h2.78v2.78h-2.78zM1707.36 1253.31h2.78v5.55h-2.78zM1707.36 1286.63h2.78v2.78h-2.78zM1710.14 1250.53h2.78v2.78h-2.78zM1712.91 1256.09h2.78v11.11h-2.78zM1712.91 1297.73h2.78v2.78h-2.78zM1715.69 1297.73h2.78v2.78h-2.78zM1721.24 1250.53h2.78v2.78h-2.78zM1721.24 1294.95h2.78v5.55h-2.78zM1724.02 1281.07h2.78v2.78h-2.78zM1732.35 1283.85h2.78v2.78h-2.78zM1743.45 1261.64h2.78v2.78h-2.78zM1743.45 1283.85h2.78v2.78h-2.78zM1746.23 1264.41h2.78v2.78h-2.78zM1746.23 1294.95h2.78v2.78h-2.78zM1754.56 1264.41h2.78v2.78h-2.78zM1757.34 1286.63h2.78v8.33h-2.78zM1762.89 1286.63h2.78v5.55h-2.78zM1768.44 1256.09h2.78v2.78h-2.78zM1776.77 1264.41h2.78v2.78h-2.78zM1779.55 1289.4h2.78v2.78h-2.78zM1787.88 1261.64h2.78v2.78h-2.78zM1798.98 1294.95h2.78v2.78h-2.78zM1807.31 1297.73h2.78v2.78h-2.78zM1810.09 1267.19h2.78v2.78h-2.78zM1821.19 1297.73h2.78v2.78h-2.78zM1823.97 1294.95h2.78v2.78h-2.78zM1826.75 1294.95h2.78v2.78h-2.78zM1832.3 1253.31h2.78v11.11h-2.78zM1835.08 1264.41h2.78v2.78h-2.78zM1840.63 1247.76h2.78v2.78h-2.78zM1846.18 1256.09h2.78v5.55h-2.78zM1846.18 1292.18h2.78v2.78h-2.78zM1848.96 1239.43h2.78v2.78h-2.78zM1854.51 1292.18h2.78v2.78h-2.78zM1860.06 1292.18h2.78v2.78h-2.78zM1862.84 1300.51h2.78v2.78h-2.78zM1865.62 1292.18h2.78v8.33h-2.78zM1879.5 1261.64h2.78v5.55h-2.78zM1885.05 1292.18h2.78v2.78h-2.78zM1890.6 1294.95h2.78v2.78h-2.78zM1893.38 1264.41h2.78v2.78h-2.78zM1893.38 1292.18h2.78v2.78h-2.78zM1896.16 1261.64h2.78v5.55h-2.78zM1898.93 1294.95h2.78v2.78h-2.78zM1901.71 1258.86h2.78v8.33h-2.78zM1904.49 1289.4h2.78v2.78h-2.78zM1912.81 1261.64h2.78v2.78h-2.78zM1915.59 1267.19h2.78v2.78h-2.78zM1918.37 1294.95h2.78v11.11h-2.78zM1923.92 1300.51h2.78v5.55h-2.78zM1926.7 1261.64h2.78v2.78h-2.78zM1929.47 1261.64h2.78v2.78h-2.78zM1929.47 1300.51h2.78v16.66h-2.78zM1935.03 1297.73h2.78v2.78h-2.78zM1935.03 1306.06h2.78v8.33h-2.78zM1937.8 1258.86h2.78v2.78h-2.78zM1946.13 1306.06h2.78v2.78h-2.78zM1948.91 1261.64h2.78v2.78h-2.78zM1954.46 1261.64h2.78v2.78h-2.78zM1954.46 1286.63h2.78v11.11h-2.78zM1957.24 1264.41h2.78v2.78h-2.78zM1968.34 1247.76h2.78v2.78h-2.78zM1971.12 1247.76h2.78v2.78h-2.78zM1971.12 1286.63h2.78v2.78h-2.78z"/>
<path fill="#505050" d="M174.79 1181.12h2.78v13.88h-2.78zM177.56 1161.69h2.78v33.32h-2.78zM180.34 1164.46h2.78v38.87h-2.78zM183.12 1175.57h2.78v41.65h-2.78zM185.89 1186.68h2.78v30.54h-2.78zM188.67 1189.45h2.78v24.99h-2.78zM191.45 1181.12h2.78v38.87h-2.78zM194.22 1181.12h2.78v38.87h-2.78zM197 1178.35h2.78v30.54h-2.78zM199.78 1175.57h2.78v33.32h-2.78zM202.55 1172.79h2.78v49.98h-2.78zM205.33 1183.9h2.78v38.87h-2.78zM208.11 1183.9h2.78v38.87h-2.78zM210.88 1183.9h2.78v41.65h-2.78zM213.66 1192.23h2.78v36.09h-2.78zM216.43 1195h2.78v30.54h-2.78zM219.21 1195h2.78v30.54h-2.78zM221.99 1192.23h2.78v52.75h-2.78zM224.76 1192.23h2.78v49.98h-2.78zM227.54 1206.11h2.78v27.76h-2.78zM230.32 1208.89h2.78v27.76h-2.78zM233.09 1211.66h2.78v33.32h-2.78zM235.87 1206.11h2.78v38.87h-2.78zM238.65 1217.22h2.78v24.99h-2.78zM241.42 1217.22h2.78v27.76h-2.78zM244.2 1217.22h2.78v30.54h-2.78zM246.97 1222.77h2.78v30.54h-2.78zM249.75 1219.99h2.78v33.32h-2.78zM252.53 1219.99h2.78v33.32h-2.78zM255.3 1211.66h2.78v44.42h-2.78zM258.08 1203.33h2.78v49.98h-2.78zM260.86 1217.22h2.78v36.09h-2.78zM263.63 1217.22h2.78v36.09h-2.78zM266.41 1214.44h2.78v38.87h-2.78zM269.19 1214.44h2.78v38.87h-2.78zM271.96 1222.77h2.78v36.09h-2.78zM274.74 1225.54h2.78v30.54h-2.78zM277.52 1225.54h2.78v30.54h-2.78zM280.29 1225.54h2.78v30.54h-2.78zM283.07 1228.32h2.78v36.09h-2.78zM285.84 1228.32h2.78v33.32h-2.78zM288.62 1236.65h2.78v33.32h-2.78zM291.4 1233.87h2.78v36.09h-2.78zM294.17 1233.87h2.78v30.54h-2.78zM296.95 1236.65h2.78v30.54h-2.78zM299.73 1211.66h2.78v58.3h-2.78zM302.5 1211.66h2.78v55.53h-2.78zM305.28 1239.43h2.78v33.32h-2.78zM308.06 1236.65h2.78v27.76h-2.78zM310.83 1236.65h2.78v27.76h-2.78zM313.61 1236.65h2.78v27.76h-2.78zM316.38 1242.2h2.78v36.09h-2.78zM319.16 1231.1h2.78v47.2h-2.78zM321.94 1228.32h2.78v44.42h-2.78zM324.71 1228.32h2.78v44.42h-2.78zM327.49 1239.43h2.78v33.32h-2.78zM330.27 1236.65h2.78v33.32h-2.78zM333.04 1233.87h2.78v33.32h-2.78zM335.82 1236.65h2.78v27.76h-2.78zM338.6 1236.65h2.78v27.76h-2.78zM341.37 1242.2h2.78v36.09h-2.78zM344.15 1239.43h2.78v38.87h-2.78zM346.93 1225.54h2.78v41.65h-2.78zM349.7 1225.54h2.78v41.65h-2.78zM352.48 1228.32h2.78v38.87h-2.78zM355.25 1233.87h2.78v44.42h-2.78zM358.03 1233.87h2.78v41.65h-2.78zM360.81 1228.32h2.78v49.98h-2.78zM363.58 1228.32h2.78v49.98h-2.78zM366.36 1236.65h2.78v30.54h-2.78zM369.14 1236.65h2.78v27.76h-2.78zM371.91 1233.87h2.78v36.09h-2.78zM374.69 1222.77h2.78v47.2h-2.78zM377.47 1228.32h2.78v36.09h-2.78zM380.24 1228.32h2.78v47.2h-2.78zM383.02 1236.65h2.78v38.87h-2.78zM385.79 1236.65h2.78v38.87h-2.78zM388.57 1233.87h2.78v27.76h-2.78zM391.35 1231.1h2.78v36.09h-2.78zM394.12 1233.87h2.78v36.09h-2.78zM396.9 1236.65h2.78v33.32h-2.78zM399.68 1236.65h2.78v30.54h-2.78zM402.45 1244.98h2.78v22.21h-2.78zM405.23 1239.43h2.78v27.76h-2.78zM408.01 1239.43h2.78v55.53h-2.78zM410.78 1242.2h2.78v30.54h-2.78zM413.56 1239.43h2.78v41.65h-2.78zM416.34 1236.65h2.78v41.65h-2.78zM419.11 1239.43h2.78v30.54h-2.78zM421.89 1244.98h2.78v27.76h-2.78zM424.66 1233.87h2.78v38.87h-2.78zM427.44 1233.87h2.78v38.87h-2.78zM430.22 1239.43h2.78v33.32h-2.78zM432.99 1242.2h2.78v33.32h-2.78zM435.77 1244.98h2.78v49.98h-2.78zM438.55 1250.53h2.78v44.42h-2.78zM441.32 1244.98h2.78v38.87h-2.78zM444.1 1244.98h2.78v38.87h-2.78zM446.88 1244.98h2.78v36.09h-2.78zM449.65 1219.99h2.78v61.08h-2.78zM452.43 1219.99h2.78v61.08h-2.78zM455.2 1244.98h2.78v52.75h-2.78zM457.98 1250.53h2.78v47.2h-2.78zM460.76 1239.43h2.78v38.87h-2.78zM463.53 1233.87h2.78v44.42h-2.78zM466.31 1233.87h2.78v36.09h-2.78zM469.09 1253.31h2.78v16.66h-2.78zM471.86 1247.76h2.78v27.76h-2.78zM474.64 1247.76h2.78v30.54h-2.78zM477.42 1239.43h2.78v55.53h-2.78zM480.19 1242.2h2.78v52.75h-2.78zM482.97 1244.98h2.78v47.2h-2.78zM485.75 1247.76h2.78v16.66h-2.78zM488.52 1247.76h2.78v16.66h-2.78zM491.3 1231.1h2.78v33.32h-2.78zM494.07 1225.54h2.78v49.98h-2.78zM496.85 1231.1h2.78v44.42h-2.78zM499.63 1231.1h2.78v36.09h-2.78zM502.4 1233.87h2.78v36.09h-2.78zM505.18 1244.98h2.78v27.76h-2.78zM507.96 1244.98h2.78v24.99h-2.78zM510.73 1247.76h2.78v30.54h-2.78zM513.51 1236.65h2.78v41.65h-2.78zM516.29 1236.65h2.78v38.87h-2.78zM519.06 1236.65h2.78v61.08h-2.78zM521.84 1236.65h2.78v61.08h-2.78zM524.61 1233.87h2.78v47.2h-2.78zM527.39 1247.76h2.78v27.76h-2.78zM530.17 1250.53h2.78v24.99h-2.78zM532.94 1253.31h2.78v22.21h-2.78zM535.72 1236.65h2.78v38.87h-2.78zM538.5 1236.65h2.78v44.42h-2.78zM541.27 1242.2h2.78v41.65h-2.78zM544.05 1256.09h2.78v19.43h-2.78zM546.83 1247.76h2.78v27.76h-2.78zM549.6 1247.76h2.78v24.99h-2.78zM552.38 1247.76h2.78v27.76h-2.78zM555.16 1247.76h2.78v30.54h-2.78zM557.93 1244.98h2.78v33.32h-2.78zM560.71 1244.98h2.78v36.09h-2.78zM563.48 1244.98h2.78v30.54h-2.78zM566.26 1244.98h2.78v30.54h-2.78zM569.04 1247.76h2.78v22.21h-2.78zM571.81 1242.2h2.78v33.32h-2.78zM574.59 1242.2h2.78v33.32h-2.78zM577.37 1228.32h2.78v33.32h-2.78zM580.14 1192.23h2.78v61.08h-2.78zM580.14 1256.09h2.78v2.78h-2.78zM582.92 1128.37h2.78v111.06h-2.78zM585.7 1086.72h2.78v88.84h-2.78zM588.47 1086.72h2.78v69.41h-2.78zM591.25 1117.27h2.78v102.73h-2.78zM594.02 1178.35h2.78v77.74h-2.78zM596.8 1208.89h2.78v52.75h-2.78zM599.58 1208.89h2.78v69.41h-2.78zM602.35 1233.87h2.78v44.42h-2.78zM605.13 1236.65h2.78v38.87h-2.78zM607.91 1233.87h2.78v41.65h-2.78zM610.68 1239.43h2.78v36.09h-2.78zM613.46 1242.2h2.78v44.42h-2.78zM616.24 1242.2h2.78v44.42h-2.78zM619.01 1242.2h2.78v41.65h-2.78zM621.79 1244.98h2.78v41.65h-2.78zM624.57 1258.86h2.78v33.32h-2.78zM627.34 1256.09h2.78v38.87h-2.78zM630.12 1247.76h2.78v30.54h-2.78zM632.89 1225.54h2.78v49.98h-2.78zM635.67 1225.54h2.78v52.75h-2.78zM638.45 1250.53h2.78v36.09h-2.78zM641.22 1256.09h2.78v27.76h-2.78zM644 1242.2h2.78v38.87h-2.78zM646.78 1244.98h2.78v33.32h-2.78zM649.55 1250.53h2.78v38.87h-2.78zM652.33 1256.09h2.78v33.32h-2.78zM655.11 1253.31h2.78v33.32h-2.78zM657.88 1256.09h2.78v30.54h-2.78zM660.66 1256.09h2.78v33.32h-2.78zM663.43 1256.09h2.78v27.76h-2.78zM666.21 1256.09h2.78v33.32h-2.78zM668.99 1261.64h2.78v27.76h-2.78zM671.76 1261.64h2.78v22.21h-2.78zM674.54 1258.86h2.78v38.87h-2.78zM677.32 1231.1h2.78v66.63h-2.78zM680.09 1231.1h2.78v61.08h-2.78zM682.87 1247.76h2.78v47.2h-2.78zM685.65 1250.53h2.78v41.65h-2.78zM688.42 1253.31h2.78v36.09h-2.78zM691.2 1244.98h2.78v41.65h-2.78zM693.98 1242.2h2.78v36.09h-2.78zM696.75 1242.2h2.78v49.98h-2.78zM699.53 1242.2h2.78v52.75h-2.78zM702.3 1242.2h2.78v41.65h-2.78zM705.08 1244.98h2.78v38.87h-2.78zM707.86 1250.53h2.78v44.42h-2.78zM710.63 1250.53h2.78v41.65h-2.78zM713.41 1250.53h2.78v38.87h-2.78zM716.19 1253.31h2.78v47.2h-2.78zM718.96 1253.31h2.78v47.2h-2.78zM721.74 1256.09h2.78v22.21h-2.78zM724.52 1253.31h2.78v24.99h-2.78zM727.29 1253.31h2.78v24.99h-2.78zM730.07 1253.31h2.78v22.21h-2.78zM732.84 1236.65h2.78v38.87h-2.78zM735.62 1239.43h2.78v41.65h-2.78zM738.4 1242.2h2.78v38.87h-2.78zM741.17 1250.53h2.78v47.2h-2.78zM743.95 1247.76h2.78v49.98h-2.78zM746.73 1247.76h2.78v41.65h-2.78zM749.5 1250.53h2.78v36.09h-2.78zM752.28 1236.65h2.78v52.75h-2.78zM755.06 1236.65h2.78v47.2h-2.78zM757.83 1247.76h2.78v36.09h-2.78zM760.61 1247.76h2.78v27.76h-2.78zM763.39 1231.1h2.78v44.42h-2.78zM766.16 1233.87h2.78v49.98h-2.78zM768.94 1225.54h2.78v58.3h-2.78zM771.71 1164.46h2.78v86.07h-2.78zM774.49 1067.29h2.78v158.25h-2.78zM777.27 1042.3h2.78v99.95h-2.78zM780.04 1045.08h2.78v141.6h-2.78zM782.82 1114.49h2.78v166.58h-2.78zM785.6 1203.33h2.78v80.52h-2.78zM788.37 1231.1h2.78v33.32h-2.78zM791.15 1239.43h2.78v58.3h-2.78zM793.93 1236.65h2.78v61.08h-2.78zM796.7 1239.43h2.78v52.75h-2.78zM799.48 1242.2h2.78v47.2h-2.78zM802.25 1244.98h2.78v33.32h-2.78zM805.03 1242.2h2.78v44.42h-2.78zM807.81 1253.31h2.78v36.09h-2.78zM810.58 1250.53h2.78v30.54h-2.78zM813.36 1247.76h2.78v36.09h-2.78zM816.14 1247.76h2.78v27.76h-2.78zM818.91 1231.1h2.78v41.65h-2.78zM821.69 1231.1h2.78v33.32h-2.78zM824.47 1233.87h2.78v30.54h-2.78zM827.24 1197.78h2.78v66.63h-2.78zM830.02 1083.95h2.78v147.15h-2.78zM832.8 981.22h2.78v188.8h-2.78zM835.57 978.45h2.78v144.37h-2.78zM838.35 1006.21h2.78v208.23h-2.78zM838.35 1219.99h2.78v8.33h-2.78zM841.12 1158.91h2.78v91.62h-2.78zM843.9 1217.22h2.78v41.65h-2.78zM846.68 1219.99h2.78v55.53h-2.78zM849.45 1239.43h2.78v36.09h-2.78zM852.23 1244.98h2.78v33.32h-2.78zM855.01 1244.98h2.78v33.32h-2.78zM857.78 1239.43h2.78v30.54h-2.78zM860.56 1242.2h2.78v30.54h-2.78zM863.34 1242.2h2.78v33.32h-2.78zM866.11 1242.2h2.78v33.32h-2.78zM868.89 1239.43h2.78v44.42h-2.78zM871.66 1236.65h2.78v44.42h-2.78zM874.44 1242.2h2.78v41.65h-2.78zM877.22 1242.2h2.78v36.09h-2.78zM879.99 1242.2h2.78v33.32h-2.78zM882.77 1239.43h2.78v36.09h-2.78zM885.55 1239.43h2.78v33.32h-2.78zM888.32 1231.1h2.78v44.42h-2.78zM891.1 1228.32h2.78v55.53h-2.78zM893.88 1250.53h2.78v30.54h-2.78zM896.65 1253.31h2.78v27.76h-2.78zM899.43 1250.53h2.78v24.99h-2.78zM902.21 1250.53h2.78v27.76h-2.78zM904.98 1256.09h2.78v30.54h-2.78zM907.76 1244.98h2.78v44.42h-2.78zM910.53 1244.98h2.78v44.42h-2.78zM913.31 1244.98h2.78v36.09h-2.78zM916.09 1228.32h2.78v55.53h-2.78zM918.86 1228.32h2.78v55.53h-2.78zM921.64 1242.2h2.78v41.65h-2.78zM924.42 1242.2h2.78v36.09h-2.78zM927.19 1253.31h2.78v24.99h-2.78zM929.97 1244.98h2.78v36.09h-2.78zM932.75 1239.43h2.78v36.09h-2.78zM935.52 1231.1h2.78v41.65h-2.78zM938.3 1231.1h2.78v33.32h-2.78zM941.07 1195h2.78v49.98h-2.78zM943.85 1128.37h2.78v97.17h-2.78zM943.85 1228.32h2.78v2.78h-2.78zM946.63 1128.37h2.78v88.84h-2.78zM949.4 1181.12h2.78v61.08h-2.78zM952.18 1225.54h2.78v27.76h-2.78zM954.96 1231.1h2.78v47.2h-2.78zM957.73 1233.87h2.78v44.42h-2.78zM960.51 1242.2h2.78v33.32h-2.78zM963.29 1231.1h2.78v49.98h-2.78zM966.06 1231.1h2.78v52.75h-2.78zM968.84 1233.87h2.78v44.42h-2.78zM971.62 1236.65h2.78v44.42h-2.78zM974.39 1244.98h2.78v36.09h-2.78zM977.17 1247.76h2.78v36.09h-2.78zM979.94 1242.2h2.78v38.87h-2.78zM982.72 1242.2h2.78v38.87h-2.78zM985.5 1233.87h2.78v41.65h-2.78zM988.27 1236.65h2.78v38.87h-2.78zM988.27 1278.3h2.78v5.55h-2.78zM991.05 1242.2h2.78v44.42h-2.78zM993.83 1244.98h2.78v33.32h-2.78zM996.6 1247.76h2.78v30.54h-2.78zM999.38 1250.53h2.78v27.76h-2.78zM1002.16 1253.31h2.78v19.43h-2.78zM1004.93 1250.53h2.78v24.99h-2.78zM1007.71 1250.53h2.78v27.76h-2.78zM1010.48 1247.76h2.78v24.99h-2.78zM1013.26 1253.31h2.78v27.76h-2.78zM1016.04 1250.53h2.78v33.32h-2.78zM1018.81 1250.53h2.78v33.32h-2.78zM1021.59 1250.53h2.78v38.87h-2.78zM1024.37 1244.98h2.78v41.65h-2.78zM1027.14 1242.2h2.78v36.09h-2.78zM1029.92 1244.98h2.78v38.87h-2.78zM1032.7 1242.2h2.78v41.65h-2.78zM1035.47 1247.76h2.78v44.42h-2.78zM1038.25 1256.09h2.78v36.09h-2.78zM1041.03 1250.53h2.78v41.65h-2.78zM1043.8 1247.76h2.78v38.87h-2.78zM1046.58 1247.76h2.78v41.65h-2.78zM1049.35 1250.53h2.78v41.65h-2.78zM1052.13 1250.53h2.78v38.87h-2.78zM1054.91 1250.53h2.78v36.09h-2.78zM1057.68 1253.31h2.78v36.09h-2.78zM1060.46 1258.86h2.78v33.32h-2.78zM1063.24 1253.31h2.78v30.54h-2.78zM1066.01 1253.31h2.78v30.54h-2.78zM1068.79 1250.53h2.78v47.2h-2.78zM1071.57 1253.31h2.78v33.32h-2.78zM1074.34 1256.09h2.78v24.99h-2.78zM1077.12 1256.09h2.78v24.99h-2.78zM1079.89 1256.09h2.78v49.98h-2.78zM1082.67 1256.09h2.78v49.98h-2.78zM1085.45 1261.64h2.78v33.32h-2.78zM1088.22 1253.31h2.78v30.54h-2.78zM1091 1250.53h2.78v22.21h-2.78zM1093.78 1247.76h2.78v22.21h-2.78zM1096.55 1247.76h2.78v22.21h-2.78zM1099.33 1250.53h2.78v22.21h-2.78zM1102.11 1253.31h2.78v44.42h-2.78zM1104.88 1250.53h2.78v44.42h-2.78zM1107.66 1250.53h2.78v55.53h-2.78zM1110.44 1239.43h2.78v63.86h-2.78zM1113.21 1239.43h2.78v44.42h-2.78zM1115.99 1244.98h2.78v30.54h-2.78zM1118.76 1244.98h2.78v27.76h-2.78zM1121.54 1231.1h2.78v33.32h-2.78zM1124.32 1203.33h2.78v47.2h-2.78zM1127.09 1189.45h2.78v41.65h-2.78zM1129.87 1183.9h2.78v33.32h-2.78zM1132.65 1186.68h2.78v52.75h-2.78zM1135.42 1214.44h2.78v36.09h-2.78zM1138.2 1219.99h2.78v41.65h-2.78zM1140.98 1233.87h2.78v36.09h-2.78zM1143.75 1228.32h2.78v44.42h-2.78zM1146.53 1231.1h2.78v52.75h-2.78zM1149.3 1256.09h2.78v27.76h-2.78zM1152.08 1258.86h2.78v22.21h-2.78zM1154.86 1236.65h2.78v44.42h-2.78zM1157.63 1233.87h2.78v47.2h-2.78zM1160.41 1247.76h2.78v38.87h-2.78zM1163.19 1242.2h2.78v44.42h-2.78zM1165.96 1242.2h2.78v41.65h-2.78zM1168.74 1247.76h2.78v38.87h-2.78zM1171.52 1247.76h2.78v66.63h-2.78zM1174.29 1244.98h2.78v41.65h-2.78zM1177.07 1239.43h2.78v44.42h-2.78zM1179.85 1242.2h2.78v38.87h-2.78zM1182.62 1256.09h2.78v24.99h-2.78zM1185.4 1253.31h2.78v24.99h-2.78zM1188.17 1253.31h2.78v27.76h-2.78zM1190.95 1247.76h2.78v36.09h-2.78zM1193.73 1247.76h2.78v38.87h-2.78zM1196.5 1256.09h2.78v30.54h-2.78zM1199.28 1253.31h2.78v30.54h-2.78zM1202.06 1253.31h2.78v30.54h-2.78zM1204.83 1250.53h2.78v30.54h-2.78zM1207.61 1242.2h2.78v33.32h-2.78zM1210.39 1244.98h2.78v30.54h-2.78zM1213.16 1239.43h2.78v36.09h-2.78zM1215.94 1219.99h2.78v52.75h-2.78zM1218.71 1189.45h2.78v63.86h-2.78zM1221.49 1122.82h2.78v97.17h-2.78zM1224.27 1047.86h2.78v133.27h-2.78zM1227.04 1047.86h2.78v88.84h-2.78zM1229.82 1061.74h2.78v133.27h-2.78zM1232.6 1147.81h2.78v102.73h-2.78zM1235.37 1206.11h2.78v61.08h-2.78zM1238.15 1236.65h2.78v33.32h-2.78zM1240.93 1250.53h2.78v22.21h-2.78zM1243.7 1242.2h2.78v33.32h-2.78zM1246.48 1242.2h2.78v44.42h-2.78zM1249.26 1256.09h2.78v41.65h-2.78zM1252.03 1250.53h2.78v44.42h-2.78zM1254.81 1228.32h2.78v61.08h-2.78zM1257.58 1261.64h2.78v38.87h-2.78zM1260.36 1264.41h2.78v27.76h-2.78zM1263.14 1261.64h2.78v30.54h-2.78zM1265.91 1256.09h2.78v38.87h-2.78zM1268.69 1247.76h2.78v47.2h-2.78zM1271.47 1236.65h2.78v49.98h-2.78zM1274.24 1236.65h2.78v52.75h-2.78zM1277.02 1264.41h2.78v22.21h-2.78zM1279.8 1258.86h2.78v27.76h-2.78zM1282.57 1244.98h2.78v41.65h-2.78zM1285.35 1244.98h2.78v41.65h-2.78zM1288.12 1256.09h2.78v30.54h-2.78zM1290.9 1258.86h2.78v38.87h-2.78zM1293.68 1253.31h2.78v44.42h-2.78zM1296.45 1253.31h2.78v30.54h-2.78zM1299.23 1256.09h2.78v24.99h-2.78zM1302.01 1264.41h2.78v22.21h-2.78zM1304.78 1261.64h2.78v22.21h-2.78zM1307.56 1261.64h2.78v22.21h-2.78zM1310.34 1258.86h2.78v22.21h-2.78zM1313.11 1258.86h2.78v36.09h-2.78zM1315.89 1258.86h2.78v36.09h-2.78zM1318.67 1247.76h2.78v47.2h-2.78zM1321.44 1244.98h2.78v49.98h-2.78zM1324.22 1250.53h2.78v44.42h-2.78zM1326.99 1261.64h2.78v33.32h-2.78zM1329.77 1264.41h2.78v27.76h-2.78zM1332.55 1261.64h2.78v30.54h-2.78zM1335.32 1261.64h2.78v27.76h-2.78zM1338.1 1258.86h2.78v36.09h-2.78zM1340.88 1261.64h2.78v30.54h-2.78zM1343.65 1264.41h2.78v30.54h-2.78zM1346.43 1247.76h2.78v47.2h-2.78zM1349.21 1253.31h2.78v33.32h-2.78zM1351.98 1253.31h2.78v33.32h-2.78zM1354.76 1253.31h2.78v41.65h-2.78zM1357.53 1244.98h2.78v49.98h-2.78zM1360.31 1247.76h2.78v44.42h-2.78zM1363.09 1261.64h2.78v30.54h-2.78zM1365.86 1261.64h2.78v33.32h-2.78zM1368.64 1250.53h2.78v44.42h-2.78zM1371.42 1253.31h2.78v41.65h-2.78zM1374.19 1247.76h2.78v66.63h-2.78zM1376.97 1247.76h2.78v66.63h-2.78zM1379.75 1247.76h2.78v47.2h-2.78zM1382.52 1247.76h2.78v49.98h-2.78zM1385.3 1247.76h2.78v44.42h-2.78zM1388.08 1253.31h2.78v41.65h-2.78zM1390.85 1256.09h2.78v36.09h-2.78zM1393.63 1258.86h2.78v33.32h-2.78zM1396.4 1258.86h2.78v33.32h-2.78zM1399.18 1242.2h2.78v38.87h-2.78zM1401.96 1228.32h2.78v38.87h-2.78zM1404.73 1217.22h2.78v44.42h-2.78zM1407.51 1208.89h2.78v24.99h-2.78zM1410.29 1206.11h2.78v27.76h-2.78zM1413.06 1208.89h2.78v58.3h-2.78zM1415.84 1231.1h2.78v41.65h-2.78zM1418.62 1242.2h2.78v38.87h-2.78zM1421.39 1253.31h2.78v30.54h-2.78zM1424.17 1242.2h2.78v49.98h-2.78zM1426.94 1250.53h2.78v38.87h-2.78zM1429.72 1244.98h2.78v38.87h-2.78zM1432.5 1242.2h2.78v41.65h-2.78zM1435.27 1244.98h2.78v36.09h-2.78zM1438.05 1214.44h2.78v55.53h-2.78zM1440.83 1170.02h2.78v83.29h-2.78zM1443.6 1170.02h2.78v66.63h-2.78zM1446.38 1183.9h2.78v86.07h-2.78zM1449.16 1231.1h2.78v38.87h-2.78zM1451.93 1231.1h2.78v63.86h-2.78zM1454.71 1244.98h2.78v49.98h-2.78zM1457.49 1256.09h2.78v30.54h-2.78zM1460.26 1250.53h2.78v38.87h-2.78zM1463.04 1250.53h2.78v38.87h-2.78zM1465.81 1253.31h2.78v33.32h-2.78zM1468.59 1256.09h2.78v44.42h-2.78zM1471.37 1247.76h2.78v49.98h-2.78zM1474.14 1244.98h2.78v41.65h-2.78zM1476.92 1261.64h2.78v27.76h-2.78zM1479.7 1261.64h2.78v24.99h-2.78zM1482.47 1261.64h2.78v19.43h-2.78zM1485.25 1258.86h2.78v27.76h-2.78zM1488.03 1253.31h2.78v33.32h-2.78zM1490.8 1244.98h2.78v36.09h-2.78zM1493.58 1258.86h2.78v36.09h-2.78zM1496.35 1261.64h2.78v30.54h-2.78zM1499.13 1258.86h2.78v22.21h-2.78zM1501.91 1253.31h2.78v36.09h-2.78zM1504.68 1253.31h2.78v33.32h-2.78zM1507.46 1256.09h2.78v30.54h-2.78zM1510.24 1258.86h2.78v27.76h-2.78zM1513.01 1258.86h2.78v22.21h-2.78zM1515.79 1256.09h2.78v24.99h-2.78zM1518.57 1256.09h2.78v24.99h-2.78zM1521.34 1256.09h2.78v24.99h-2.78zM1524.12 1258.86h2.78v24.99h-2.78zM1526.9 1264.41h2.78v19.43h-2.78zM1529.67 1258.86h2.78v27.76h-2.78zM1532.45 1236.65h2.78v49.98h-2.78zM1535.22 1236.65h2.78v61.08h-2.78zM1538 1244.98h2.78v52.75h-2.78zM1540.78 1264.41h2.78v24.99h-2.78zM1543.55 1264.41h2.78v24.99h-2.78zM1546.33 1269.97h2.78v33.32h-2.78zM1549.11 1250.53h2.78v52.75h-2.78zM1551.88 1250.53h2.78v55.53h-2.78zM1554.66 1258.86h2.78v49.98h-2.78zM1557.44 1258.86h2.78v33.32h-2.78zM1560.21 1256.09h2.78v41.65h-2.78zM1562.99 1256.09h2.78v41.65h-2.78zM1565.76 1261.64h2.78v30.54h-2.78zM1568.54 1261.64h2.78v33.32h-2.78zM1571.32 1269.97h2.78v24.99h-2.78zM1574.09 1267.19h2.78v27.76h-2.78zM1576.87 1250.53h2.78v44.42h-2.78zM1579.65 1250.53h2.78v38.87h-2.78zM1582.42 1264.41h2.78v36.09h-2.78zM1585.2 1258.86h2.78v41.65h-2.78zM1587.98 1250.53h2.78v36.09h-2.78zM1590.75 1256.09h2.78v33.32h-2.78zM1593.53 1253.31h2.78v38.87h-2.78zM1596.31 1256.09h2.78v33.32h-2.78zM1599.08 1258.86h2.78v33.32h-2.78zM1601.86 1258.86h2.78v36.09h-2.78zM1604.63 1247.76h2.78v44.42h-2.78zM1607.41 1244.98h2.78v36.09h-2.78zM1610.19 1253.31h2.78v27.76h-2.78zM1612.96 1256.09h2.78v27.76h-2.78zM1615.74 1256.09h2.78v36.09h-2.78zM1618.52 1256.09h2.78v24.99h-2.78zM1621.29 1231.1h2.78v49.98h-2.78zM1621.29 1286.63h2.78v5.55h-2.78zM1624.07 1231.1h2.78v69.41h-2.78zM1626.85 1250.53h2.78v49.98h-2.78zM1629.62 1250.53h2.78v33.32h-2.78zM1632.4 1236.65h2.78v55.53h-2.78zM1635.17 1247.76h2.78v52.75h-2.78zM1637.95 1269.97h2.78v30.54h-2.78zM1640.73 1269.97h2.78v13.88h-2.78zM1643.5 1267.19h2.78v30.54h-2.78zM1646.28 1264.41h2.78v33.32h-2.78zM1649.06 1261.64h2.78v36.09h-2.78zM1651.83 1264.41h2.78v30.54h-2.78zM1654.61 1264.41h2.78v30.54h-2.78zM1657.39 1261.64h2.78v27.76h-2.78zM1660.16 1267.19h2.78v24.99h-2.78zM1662.94 1261.64h2.78v33.32h-2.78zM1665.72 1261.64h2.78v30.54h-2.78zM1668.49 1258.86h2.78v33.32h-2.78zM1671.27 1261.64h2.78v30.54h-2.78zM1674.04 1253.31h2.78v44.42h-2.78zM1676.82 1253.31h2.78v41.65h-2.78zM1679.6 1253.31h2.78v41.65h-2.78zM1682.37 1261.64h2.78v30.54h-2.78zM1685.15 1258.86h2.78v30.54h-2.78zM1687.93 1261.64h2.78v27.76h-2.78zM1690.7 1264.41h2.78v27.76h-2.78zM1693.48 1261.64h2.78v30.54h-2.78zM1696.26 1264.41h2.78v27.76h-2.78zM1699.03 1264.41h2.78v30.54h-2.78zM1701.81 1261.64h2.78v38.87h-2.78zM1704.58 1261.64h2.78v27.76h-2.78zM1707.36 1258.86h2.78v27.76h-2.78zM1710.14 1253.31h2.78v36.09h-2.78zM1712.91 1267.19h2.78v30.54h-2.78zM1715.69 1256.09h2.78v41.65h-2.78zM1718.47 1253.31h2.78v55.53h-2.78zM1721.24 1253.31h2.78v41.65h-2.78zM1721.24 1300.51h2.78v8.33h-2.78zM1724.02 1253.31h2.78v27.76h-2.78zM1724.02 1283.85h2.78v2.78h-2.78zM1726.8 1261.64h2.78v19.43h-2.78zM1729.57 1261.64h2.78v22.21h-2.78zM1732.35 1258.86h2.78v24.99h-2.78zM1735.13 1258.86h2.78v27.76h-2.78zM1737.9 1261.64h2.78v30.54h-2.78zM1740.68 1261.64h2.78v30.54h-2.78zM1743.45 1264.41h2.78v19.43h-2.78zM1743.45 1286.63h2.78v8.33h-2.78zM1746.23 1267.19h2.78v27.76h-2.78zM1749.01 1261.64h2.78v30.54h-2.78zM1751.78 1261.64h2.78v30.54h-2.78zM1754.56 1267.19h2.78v16.66h-2.78zM1757.34 1261.64h2.78v24.99h-2.78zM1760.11 1253.31h2.78v41.65h-2.78zM1762.89 1253.31h2.78v33.32h-2.78zM1765.67 1256.09h2.78v30.54h-2.78zM1768.44 1258.86h2.78v27.76h-2.78zM1771.22 1256.09h2.78v30.54h-2.78zM1773.99 1261.64h2.78v24.99h-2.78zM1776.77 1267.19h2.78v27.76h-2.78zM1779.55 1267.19h2.78v22.21h-2.78zM1782.32 1264.41h2.78v24.99h-2.78zM1785.1 1261.64h2.78v44.42h-2.78zM1787.88 1264.41h2.78v41.65h-2.78zM1790.65 1267.19h2.78v30.54h-2.78zM1793.43 1267.19h2.78v36.09h-2.78zM1796.21 1269.97h2.78v33.32h-2.78zM1798.98 1261.64h2.78v33.32h-2.78zM1801.76 1261.64h2.78v27.76h-2.78zM1804.54 1269.97h2.78v22.21h-2.78zM1807.31 1267.19h2.78v30.54h-2.78zM1810.09 1269.97h2.78v30.54h-2.78zM1812.86 1261.64h2.78v38.87h-2.78zM1815.64 1258.86h2.78v38.87h-2.78zM1818.42 1267.19h2.78v30.54h-2.78zM1821.19 1267.19h2.78v30.54h-2.78zM1823.97 1253.31h2.78v41.65h-2.78zM1826.75 1250.53h2.78v44.42h-2.78zM1829.52 1250.53h2.78v47.2h-2.78zM1832.3 1264.41h2.78v33.32h-2.78zM1835.08 1267.19h2.78v30.54h-2.78zM1837.85 1250.53h2.78v47.2h-2.78zM1840.63 1250.53h2.78v49.98h-2.78zM1843.4 1261.64h2.78v38.87h-2.78zM1846.18 1261.64h2.78v30.54h-2.78zM1848.96 1242.2h2.78v49.98h-2.78zM1851.73 1239.43h2.78v55.53h-2.78zM1854.51 1264.41h2.78v27.76h-2.78zM1857.29 1264.41h2.78v24.99h-2.78zM1860.06 1261.64h2.78v30.54h-2.78zM1862.84 1261.64h2.78v38.87h-2.78zM1865.62 1261.64h2.78v30.54h-2.78zM1868.39 1261.64h2.78v30.54h-2.78zM1871.17 1261.64h2.78v30.54h-2.78zM1873.95 1261.64h2.78v30.54h-2.78zM1876.72 1258.86h2.78v33.32h-2.78zM1879.5 1267.19h2.78v27.76h-2.78zM1882.27 1256.09h2.78v38.87h-2.78zM1885.05 1256.09h2.78v36.09h-2.78zM1887.83 1261.64h2.78v33.32h-2.78zM1890.6 1261.64h2.78v33.32h-2.78zM1893.38 1267.19h2.78v24.99h-2.78zM1896.16 1267.19h2.78v30.54h-2.78zM1898.93 1258.86h2.78v36.09h-2.78zM1901.71 1267.19h2.78v22.21h-2.78zM1904.49 1269.97h2.78v19.43h-2.78zM1907.26 1267.19h2.78v24.99h-2.78zM1910.04 1261.64h2.78v24.99h-2.78zM1912.81 1264.41h2.78v30.54h-2.78zM1915.59 1269.97h2.78v24.99h-2.78zM1918.37 1267.19h2.78v27.76h-2.78zM1921.14 1261.64h2.78v47.2h-2.78zM1923.92 1261.64h2.78v38.87h-2.78zM1926.7 1264.41h2.78v36.09h-2.78zM1929.47 1264.41h2.78v36.09h-2.78zM1932.25 1261.64h2.78v55.53h-2.78zM1935.03 1258.86h2.78v38.87h-2.78zM1937.8 1261.64h2.78v36.09h-2.78zM1940.58 1264.41h2.78v33.32h-2.78zM1943.36 1264.41h2.78v41.65h-2.78zM1946.13 1264.41h2.78v41.65h-2.78zM1948.91 1264.41h2.78v33.32h-2.78zM1951.68 1261.64h2.78v36.09h-2.78zM1954.46 1264.41h2.78v22.21h-2.78zM1957.24 1267.19h2.78v24.99h-2.78zM1960.01 1267.19h2.78v36.09h-2.78zM1962.79 1264.41h2.78v38.87h-2.78zM1965.57 1264.41h2.78v24.99h-2.78zM1968.34 1250.53h2.78v41.65h-2.78zM1971.12 1250.53h2.78v36.09h-2.78z"/>
</g>
<g id="curve-b">
<path fill="#FFBCBC" d="M174.79 878.49h2.78v5.55h-2.78zM180.34 861.84h2.78v2.78h-2.78zM185.89 900.71h2.78v2.78h-2.78zM194.22 856.28h2.78v2.78h-2.78zM197 911.81h2.78v2.78h-2.78zM199.78 861.84h2.78v2.78h-2.78zM202.55 914.59h2.78v2.78h-2.78zM213.66 861.84h2.78v2.78h-2.78zM219.21 906.26h2.78v13.88h-2.78zM221.99 872.94h2.78v2.78h-2.78zM230.32 870.17h2.78v2.78h-2.78zM230.32 925.69h2.78v2.78h-2.78zM233.09 872.94h2.78v2.78h-2.78zM244.2 889.6h2.78v2.78h-2.78zM246.97 934.02h2.78v2.78h-2.78zM249.75 895.15h2.78v2.78h-2.78zM252.53 892.38h2.78v2.78h-2.78zM255.3 878.49h2.78v2.78h-2.78zM258.08 931.25h2.78v2.78h-2.78zM263.63 922.92h2.78v2.78h-2.78zM266.41 920.14h2.78v2.78h-2.78zM269.19 914.59h2.78v2.78h-2.78zM277.52 861.84h2.78v2.78h-2.78zM283.07 900.71h2.78v2.78h-2.78zM285.84 897.93h2.78v2.78h-2.78zM288.62 892.38h2.78v2.78h-2.78zM291.4 872.94h2.78v11.11h-2.78zM291.4 886.82h2.78v2.78h-2.78zM294.17 870.17h2.78v2.78h-2.78zM296.95 814.64h2.78v2.78h-2.78zM296.95 867.39h2.78v2.78h-2.78zM299.73 795.2h2.78v2.78h-2.78zM305.28 792.43h2.78v2.78h-2.78zM305.28 842.4h2.78v2.78h-2.78zM310.83 767.44h2.78v2.78h-2.78zM310.83 820.19h2.78v2.78h-2.78zM319.16 725.79h2.78v2.78h-2.78zM319.16 792.43h2.78v2.78h-2.78zM319.16 806.31h2.78v2.78h-2.78zM327.49 703.58h2.78v2.78h-2.78zM330.27 703.58h2.78v2.78h-2.78zM330.27 767.44h2.78v2.78h-2.78zM335.82 753.56h2.78v2.78h-2.78zM344.15 648.05h2.78v2.78h-2.78zM344.15 723.02h2.78v2.78h-2.78zM349.7 650.83h2.78v11.11h-2.78zM358.03 645.28h2.78v2.78h-2.78zM360.81 645.28h2.78v2.78h-2.78zM363.58 617.51h2.78v2.78h-2.78zM369.14 617.51h2.78v2.78h-2.78zM369.14 700.81h2.78v2.78h-2.78zM371.91 625.84h2.78v2.78h-2.78zM374.69 700.81h2.78v2.78h-2.78zM377.47 681.37h2.78v2.78h-2.78zM383.02 625.84h2.78v2.78h-2.78zM383.02 686.92h2.78v2.78h-2.78zM385.79 670.26h2.78v2.78h-2.78zM388.57 673.04h2.78v2.78h-2.78zM399.68 606.41h2.78v2.78h-2.78zM402.45 606.41h2.78v2.78h-2.78zM405.23 609.18h2.78v2.78h-2.78zM405.23 673.04h2.78v5.55h-2.78zM413.56 625.84h2.78v2.78h-2.78zM413.56 673.04h2.78v2.78h-2.78zM416.34 620.29h2.78v8.33h-2.78zM421.89 617.51h2.78v2.78h-2.78zM424.66 620.29h2.78v2.78h-2.78zM430.22 703.58h2.78v5.55h-2.78zM432.99 650.83h2.78v2.78h-2.78zM435.77 650.83h2.78v2.78h-2.78zM441.32 717.46h2.78v11.11h-2.78zM444.1 739.67h2.78v2.78h-2.78zM449.65 673.04h2.78v2.78h-2.78zM449.65 736.9h2.78v2.78h-2.78zM457.98 673.04h2.78v2.78h-2.78zM460.76 675.82h2.78v8.33h-2.78zM466.31 698.03h2.78v2.78h-2.78zM466.31 739.67h2.78v2.78h-2.78zM469.09 742.45h2.78v2.78h-2.78zM471.86 700.81h2.78v2.78h-2.78zM471.86 759.11h2.78v2.78h-2.78zM482.97 717.46h2.78v5.55h-2.78zM488.52 723.02h2.78v2.78h-2.78zM491.3 784.1h2.78v5.55h-2.78zM499.63 803.53h2.78v5.55h-2.78zM502.4 725.79h2.78v2.78h-2.78zM502.4 811.86h2.78v2.78h-2.78zM505.18 728.57h2.78v2.78h-2.78zM505.18 814.64h2.78v2.78h-2.78zM510.73 756.33h2.78v2.78h-2.78zM510.73 822.97h2.78v2.78h-2.78zM516.29 839.63h2.78v2.78h-2.78zM519.06 778.54h2.78v5.55h-2.78zM521.84 850.73h2.78v2.78h-2.78zM524.61 789.65h2.78v2.78h-2.78zM524.61 850.73h2.78v2.78h-2.78zM530.17 795.2h2.78v2.78h-2.78zM530.17 864.61h2.78v2.78h-2.78zM538.5 795.2h2.78v2.78h-2.78zM544.05 856.28h2.78v2.78h-2.78zM549.6 800.76h2.78v8.33h-2.78zM549.6 872.94h2.78v2.78h-2.78zM552.38 850.73h2.78v22.21h-2.78zM557.93 861.84h2.78v2.78h-2.78zM560.71 820.19h2.78v2.78h-2.78zM560.71 864.61h2.78v2.78h-2.78zM569.04 864.61h2.78v2.78h-2.78zM574.59 809.08h2.78v2.78h-2.78zM574.59 875.72h2.78v2.78h-2.78zM577.37 797.98h2.78v11.11h-2.78zM577.37 845.18h2.78v30.54h-2.78zM580.14 784.1h2.78v2.78h-2.78zM585.7 803.53h2.78v13.88h-2.78zM585.7 820.19h2.78v2.78h-2.78zM588.47 806.31h2.78v13.88h-2.78zM591.25 831.3h2.78v2.78h-2.78zM596.8 797.98h2.78v2.78h-2.78zM599.58 803.53h2.78v2.78h-2.78zM602.35 803.53h2.78v2.78h-2.78zM607.91 811.86h2.78v2.78h-2.78zM607.91 861.84h2.78v2.78h-2.78zM610.68 811.86h2.78v2.78h-2.78zM613.46 809.08h2.78v2.78h-2.78zM613.46 850.73h2.78v2.78h-2.78zM616.24 878.49h2.78v2.78h-2.78zM621.79 856.28h2.78v2.78h-2.78zM624.57 870.17h2.78v2.78h-2.78zM627.34 820.19h2.78v2.78h-2.78zM627.34 872.94h2.78v2.78h-2.78zM638.45 856.28h2.78v5.55h-2.78zM644 800.76h2.78v2.78h-2.78zM646.78 870.17h2.78v2.78h-2.78zM649.55 797.98h2.78v2.78h-2.78zM649.55 870.17h2.78v2.78h-2.78zM652.33 856.28h2.78v2.78h-2.78zM657.88 803.53h2.78v2.78h-2.78zM671.76 803.53h2.78v2.78h-2.78zM671.76 836.85h2.78v2.78h-2.78zM677.32 806.31h2.78v2.78h-2.78zM680.09 806.31h2.78v2.78h-2.78zM685.65 845.18h2.78v2.78h-2.78zM688.42 847.95h2.78v2.78h-2.78zM691.2 795.2h2.78v2.78h-2.78zM691.2 853.51h2.78v2.78h-2.78zM705.08 789.65h2.78v2.78h-2.78zM707.86 789.65h2.78v2.78h-2.78zM710.63 772.99h2.78v2.78h-2.78zM721.74 786.87h2.78v2.78h-2.78zM721.74 839.63h2.78v2.78h-2.78zM724.52 842.4h2.78v2.78h-2.78zM727.29 842.4h2.78v2.78h-2.78zM732.84 797.98h2.78v2.78h-2.78zM732.84 842.4h2.78v2.78h-2.78zM735.62 800.76h2.78v2.78h-2.78zM735.62 847.95h2.78v2.78h-2.78zM746.73 792.43h2.78v2.78h-2.78zM752.28 789.65h2.78v2.78h-2.78zM760.61 842.4h2.78v11.11h-2.78zM766.16 825.74h2.78v13.88h-2.78zM768.94 775.77h2.78v13.88h-2.78zM771.71 820.19h2.78v2.78h-2.78zM774.49 734.12h2.78v2.78h-2.78zM777.27 781.32h2.78v5.55h-2.78zM780.04 742.45h2.78v5.55h-2.78zM782.82 761.89h2.78v2.78h-2.78zM785.6 678.59h2.78v2.78h-2.78zM785.6 822.97h2.78v2.78h-2.78zM788.37 734.12h2.78v2.78h-2.78zM793.93 803.53h2.78v2.78h-2.78zM796.7 825.74h2.78v2.78h-2.78zM796.7 861.84h2.78v2.78h-2.78zM799.48 861.84h2.78v8.33h-2.78zM813.36 834.07h2.78v2.78h-2.78zM816.14 897.93h2.78v2.78h-2.78zM821.69 881.27h2.78v2.78h-2.78zM824.47 817.41h2.78v2.78h-2.78zM824.47 867.39h2.78v2.78h-2.78zM827.24 859.06h2.78v2.78h-2.78zM830.02 689.7h2.78v2.78h-2.78zM830.02 847.95h2.78v2.78h-2.78zM832.8 781.32h2.78v11.11h-2.78zM835.57 775.77h2.78v2.78h-2.78zM838.35 822.97h2.78v19.43h-2.78zM841.12 720.24h2.78v30.54h-2.78zM843.9 806.31h2.78v2.78h-2.78zM843.9 853.51h2.78v2.78h-2.78zM846.68 825.74h2.78v2.78h-2.78zM849.45 889.6h2.78v2.78h-2.78zM852.23 845.18h2.78v2.78h-2.78zM852.23 900.71h2.78v2.78h-2.78zM855.01 847.95h2.78v2.78h-2.78zM857.78 828.52h2.78v13.88h-2.78zM857.78 895.15h2.78v5.55h-2.78zM860.56 825.74h2.78v2.78h-2.78zM866.11 834.07h2.78v2.78h-2.78zM866.11 889.6h2.78v5.55h-2.78zM868.89 834.07h2.78v2.78h-2.78zM879.99 903.48h2.78v8.33h-2.78zM882.77 911.81h2.78v2.78h-2.78zM885.55 859.06h2.78v2.78h-2.78zM888.32 903.48h2.78v2.78h-2.78zM891.1 842.4h2.78v8.33h-2.78zM896.65 839.63h2.78v2.78h-2.78zM899.43 886.82h2.78v8.33h-2.78zM904.98 895.15h2.78v2.78h-2.78zM907.76 884.05h2.78v5.55h-2.78zM913.31 831.3h2.78v2.78h-2.78zM918.86 886.82h2.78v2.78h-2.78zM924.42 836.85h2.78v2.78h-2.78zM924.42 889.6h2.78v2.78h-2.78zM929.97 839.63h2.78v5.55h-2.78zM932.75 842.4h2.78v2.78h-2.78zM932.75 886.82h2.78v2.78h-2.78zM938.3 839.63h2.78v2.78h-2.78zM941.07 884.05h2.78v2.78h-2.78zM943.85 820.19h2.78v2.78h-2.78zM946.63 867.39h2.78v2.78h-2.78zM949.4 859.06h2.78v8.33h-2.78zM952.18 809.08h2.78v2.78h-2.78zM960.51 836.85h2.78v2.78h-2.78zM982.72 845.18h2.78v2.78h-2.78zM982.72 934.02h2.78v2.78h-2.78zM988.27 847.95h2.78v5.55h-2.78zM991.05 856.28h2.78v5.55h-2.78zM991.05 911.81h2.78v2.78h-2.78zM1004.93 859.06h2.78v2.78h-2.78zM1004.93 909.04h2.78v2.78h-2.78zM1007.71 861.84h2.78v2.78h-2.78zM1013.26 856.28h2.78v2.78h-2.78zM1018.81 911.81h2.78v2.78h-2.78zM1024.37 850.73h2.78v2.78h-2.78zM1027.14 853.51h2.78v2.78h-2.78zM1029.92 867.39h2.78v2.78h-2.78zM1029.92 928.47h2.78v2.78h-2.78zM1032.7 878.49h2.78v2.78h-2.78zM1032.7 920.14h2.78v8.33h-2.78zM1038.25 914.59h2.78v2.78h-2.78zM1041.03 872.94h2.78v2.78h-2.78zM1046.58 884.05h2.78v2.78h-2.78zM1046.58 936.8h2.78v2.78h-2.78zM1049.35 884.05h2.78v2.78h-2.78zM1054.91 934.02h2.78v2.78h-2.78zM1060.46 920.14h2.78v13.88h-2.78zM1063.24 920.14h2.78v24.99h-2.78zM1068.79 881.27h2.78v11.11h-2.78zM1068.79 945.13h2.78v2.78h-2.78zM1071.57 886.82h2.78v2.78h-2.78zM1071.57 931.25h2.78v2.78h-2.78zM1077.12 892.38h2.78v2.78h-2.78zM1079.89 936.8h2.78v2.78h-2.78zM1082.67 931.25h2.78v2.78h-2.78zM1091 939.58h2.78v2.78h-2.78zM1104.88 931.25h2.78v2.78h-2.78zM1110.44 928.47h2.78v2.78h-2.78zM1118.76 886.82h2.78v2.78h-2.78zM1118.76 931.25h2.78v2.78h-2.78zM1127.09 845.18h2.78v8.33h-2.78zM1132.65 836.85h2.78v2.78h-2.78zM1135.42 853.51h2.78v8.33h-2.78zM1135.42 920.14h2.78v11.11h-2.78zM1138.2 931.25h2.78v2.78h-2.78zM1140.98 884.05h2.78v2.78h-2.78zM1149.3 897.93h2.78v2.78h-2.78zM1154.86 903.48h2.78v2.78h-2.78zM1154.86 934.02h2.78v2.78h-2.78zM1160.41 936.8h2.78v2.78h-2.78zM1165.96 897.93h2.78v2.78h-2.78zM1168.74 900.71h2.78v2.78h-2.78zM1171.52 900.71h2.78v2.78h-2.78zM1171.52 942.35h2.78v2.78h-2.78zM1182.62 945.13h2.78v2.78h-2.78zM1185.4 906.26h2.78v2.78h-2.78zM1188.17 945.13h2.78v2.78h-2.78zM1199.28 911.81h2.78v2.78h-2.78zM1202.06 945.13h2.78v2.78h-2.78zM1207.61 942.35h2.78v2.78h-2.78zM1210.39 942.35h2.78v2.78h-2.78zM1213.16 931.25h2.78v2.78h-2.78zM1218.71 847.95h2.78v11.11h-2.78zM1218.71 925.69h2.78v2.78h-2.78zM1221.49 764.66h2.78v8.33h-2.78zM1224.27 695.25h2.78v2.78h-2.78zM1224.27 878.49h2.78v22.21h-2.78zM1227.04 692.48h2.78v2.78h-2.78zM1227.04 789.65h2.78v16.66h-2.78zM1229.82 853.51h2.78v2.78h-2.78zM1232.6 734.12h2.78v13.88h-2.78zM1232.6 889.6h2.78v2.78h-2.78zM1235.37 822.97h2.78v2.78h-2.78zM1235.37 906.26h2.78v22.21h-2.78zM1238.15 853.51h2.78v2.78h-2.78zM1238.15 931.25h2.78v5.55h-2.78zM1240.93 892.38h2.78v2.78h-2.78zM1240.93 936.8h2.78v2.78h-2.78zM1243.7 892.38h2.78v2.78h-2.78zM1254.81 945.13h2.78v2.78h-2.78zM1260.36 900.71h2.78v2.78h-2.78zM1260.36 934.02h2.78v2.78h-2.78zM1260.36 942.35h2.78v2.78h-2.78zM1263.14 900.71h2.78v2.78h-2.78zM1265.91 897.93h2.78v2.78h-2.78zM1265.91 961.79h2.78v2.78h-2.78zM1277.02 917.36h2.78v2.78h-2.78zM1290.9 906.26h2.78v13.88h-2.78zM1293.68 959.01h2.78v2.78h-2.78zM1299.23 950.68h2.78v8.33h-2.78zM1302.01 900.71h2.78v2.78h-2.78zM1302.01 947.9h2.78v2.78h-2.78zM1318.67 920.14h2.78v2.78h-2.78zM1326.99 945.13h2.78v2.78h-2.78zM1329.77 914.59h2.78v2.78h-2.78zM1332.55 950.68h2.78v2.78h-2.78zM1340.88 956.23h2.78v2.78h-2.78zM1343.65 959.01h2.78v2.78h-2.78zM1349.21 928.47h2.78v2.78h-2.78zM1351.98 914.59h2.78v2.78h-2.78zM1351.98 975.67h2.78v2.78h-2.78zM1360.31 953.46h2.78v2.78h-2.78zM1363.09 950.68h2.78v2.78h-2.78zM1363.09 959.01h2.78v16.66h-2.78zM1368.64 975.67h2.78v2.78h-2.78zM1374.19 959.01h2.78v2.78h-2.78zM1376.97 917.36h2.78v2.78h-2.78zM1385.3 928.47h2.78v2.78h-2.78zM1388.08 967.34h2.78v2.78h-2.78zM1390.85 964.56h2.78v2.78h-2.78zM1401.96 920.14h2.78v5.55h-2.78zM1401.96 964.56h2.78v2.78h-2.78zM1404.73 884.05h2.78v2.78h-2.78zM1404.73 947.9h2.78v2.78h-2.78zM1407.51 850.73h2.78v8.33h-2.78zM1410.29 897.93h2.78v16.66h-2.78zM1413.06 847.95h2.78v2.78h-2.78zM1413.06 922.92h2.78v2.78h-2.78zM1418.62 945.13h2.78v2.78h-2.78zM1421.39 900.71h2.78v2.78h-2.78zM1424.17 950.68h2.78v2.78h-2.78zM1432.5 903.48h2.78v2.78h-2.78zM1435.27 906.26h2.78v5.55h-2.78zM1435.27 950.68h2.78v2.78h-2.78zM1438.05 884.05h2.78v16.66h-2.78zM1438.05 942.35h2.78v5.55h-2.78zM1440.83 839.63h2.78v2.78h-2.78zM1440.83 928.47h2.78v2.78h-2.78zM1440.83 934.02h2.78v2.78h-2.78zM1443.6 828.52h2.78v2.78h-2.78zM1443.6 909.04h2.78v5.55h-2.78zM1446.38 911.81h2.78v8.33h-2.78zM1449.16 831.3h2.78v22.21h-2.78zM1451.93 897.93h2.78v8.33h-2.78zM1451.93 964.56h2.78v2.78h-2.78zM1460.26 928.47h2.78v2.78h-2.78zM1465.81 928.47h2.78v2.78h-2.78zM1479.7 931.25h2.78v2.78h-2.78zM1490.8 925.69h2.78v2.78h-2.78zM1490.8 953.46h2.78v2.78h-2.78zM1493.58 920.14h2.78v2.78h-2.78zM1496.35 967.34h2.78v2.78h-2.78zM1501.91 922.92h2.78v2.78h-2.78zM1507.46 925.69h2.78v2.78h-2.78zM1507.46 956.23h2.78v2.78h-2.78zM1510.24 953.46h2.78v2.78h-2.78zM1515.79 967.34h2.78v2.78h-2.78zM1518.57 925.69h2.78v2.78h-2.78zM1529.67 925.69h2.78v2.78h-2.78zM1529.67 956.23h2.78v2.78h-2.78zM1532.45 931.25h2.78v2.78h-2.78zM1538 928.47h2.78v2.78h-2.78zM1540.78 931.25h2.78v5.55h-2.78zM1540.78 959.01h2.78v2.78h-2.78zM1543.55 917.36h2.78v2.78h-2.78zM1546.33 914.59h2.78v2.78h-2.78zM1554.66 931.25h2.78v2.78h-2.78zM1557.44 928.47h2.78v2.78h-2.78zM1565.76 964.56h2.78v2.78h-2.78zM1568.54 959.01h2.78v2.78h-2.78zM1571.32 922.92h2.78v2.78h-2.78zM1574.09 922.92h2.78v2.78h-2.78zM1576.87 928.47h2.78v2.78h-2.78zM1582.42 914.59h2.78v2.78h-2.78zM1582.42 961.79h2.78v2.78h-2.78zM1599.08 953.46h2.78v5.55h-2.78zM1601.86 917.36h2.78v8.33h-2.78zM1604.63 922.92h2.78v2.78h-2.78zM1604.63 959.01h2.78v2.78h-2.78zM1612.96 947.9h2.78v5.55h-2.78zM1615.74 906.26h2.78v2.78h-2.78zM1618.52 909.04h2.78v2.78h-2.78zM1649.06 959.01h2.78v2.78h-2.78zM1651.83 909.04h2.78v13.88h-2.78zM1654.61 959.01h2.78v2.78h-2.78zM1671.27 920.14h2.78v2.78h-2.78zM1674.04 953.46h2.78v2.78h-2.78zM1676.82 911.81h2.78v2.78h-2.78zM1679.6 914.59h2.78v8.33h-2.78zM1682.37 925.69h2.78v2.78h-2.78zM1687.93 911.81h2.78v8.33h-2.78zM1696.26 947.9h2.78v2.78h-2.78zM1699.03 947.9h2.78v2.78h-2.78zM1701.81 922.92h2.78v2.78h-2.78zM1710.14 925.69h2.78v2.78h-2.78zM1712.91 967.34h2.78v2.78h-2.78zM1715.69 959.01h2.78v2.78h-2.78zM1718.47 920.14h2.78v2.78h-2.78zM1721.24 984h2.78v2.78h-2.78zM1724.02 961.79h2.78v8.33h-2.78zM1724.02 981.22h2.78v2.78h-2.78zM1726.8 956.23h2.78v2.78h-2.78zM1729.57 959.01h2.78v2.78h-2.78zM1732.35 922.92h2.78v2.78h-2.78zM1735.13 956.23h2.78v2.78h-2.78zM1740.68 931.25h2.78v2.78h-2.78zM1740.68 964.56h2.78v2.78h-2.78zM1743.45 961.79h2.78v2.78h-2.78zM1746.23 928.47h2.78v2.78h-2.78zM1751.78 964.56h2.78v2.78h-2.78zM1754.56 931.25h2.78v2.78h-2.78zM1762.89 931.25h2.78v2.78h-2.78zM1765.67 931.25h2.78v2.78h-2.78zM1768.44 967.34h2.78v2.78h-2.78zM1771.22 928.47h2.78v2.78h-2.78zM1771.22 956.23h2.78v5.55h-2.78zM1771.22 964.56h2.78v2.78h-2.78zM1773.99 925.69h2.78v2.78h-2.78zM1773.99 950.68h2.78v2.78h-2.78zM1776.77 950.68h2.78v2.78h-2.78zM1779.55 953.46h2.78v11.11h-2.78zM1787.88 914.59h2.78v2.78h-2.78zM1790.65 917.36h2.78v5.55h-2.78zM1793.43 925.69h2.78v2.78h-2.78zM1793.43 961.79h2.78v2.78h-2.78zM1801.76 964.56h2.78v2.78h-2.78zM1810.09 972.89h2.78v2.78h-2.78zM1812.86 967.34h2.78v2.78h-2.78zM1818.42 911.81h2.78v2.78h-2.78zM1829.52 909.04h2.78v2.78h-2.78zM1832.3 911.81h2.78v24.99h-2.78zM1832.3 967.34h2.78v2.78h-2.78zM1835.08 934.02h2.78v2.78h-2.78zM1837.85 931.25h2.78v2.78h-2.78zM1837.85 964.56h2.78v2.78h-2.78zM1843.4 931.25h2.78v2.78h-2.78zM1848.96 920.14h2.78v2.78h-2.78zM1848.96 959.01h2.78v2.78h-2.78zM1851.73 959.01h2.78v2.78h-2.78zM1854.51 961.79h2.78v2.78h-2.78zM1857.29 914.59h2.78v13.88h-2.78zM1860.06 959.01h2.78v2.78h-2.78zM1862.84 925.69h2.78v2.78h-2.78zM1871.17 922.92h2.78v2.78h-2.78zM1871.17 956.23h2.78v2.78h-2.78zM1879.5 961.79h2.78v2.78h-2.78zM1882.27 922.92h2.78v2.78h-2.78zM1890.6 978.45h2.78v2.78h-2.78zM1893.38 961.79h2.78v2.78h-2.78zM1898.93 970.12h2.78v2.78h-2.78zM1904.49 928.47h2.78v2.78h-2.78zM1910.04 928.47h2.78v2.78h-2.78zM1915.59 925.69h2.78v2.78h-2.78zM1926.7 961.79h2.78v2.78h-2.78zM1929.47 925.69h2.78v2.78h-2.78zM1940.58 953.46h2.78v2.78h-2.78zM1948.91 925.69h2.78v2.78h-2.78zM1951.68 961.79h2.78v2.78h-2.78zM1957.24 922.92h2.78v2.78h-2.78zM1960.01 953.46h2.78v2.78h-2.78zM1968.34 956.23h2.78v2.78h-2.78z"/>
<path fill="#FF7979" d="M174.79 867.39h2.78v2.78h-2.78zM174.79 872.94h2.78v5.55h-2.78zM174.79 884.05h2.78v5.55h-2.78zM183.12 859.06h2.78v2.78h-2.78zM183.12 897.93h2.78v2.78h-2.78zM185.89 856.28h2.78v2.78h-2.78zM191.45 850.73h2.78v2.78h-2.78zM194.22 911.81h2.78v2.78h-2.78zM197 856.28h2.78v2.78h-2.78zM216.43 861.84h2.78v2.78h-2.78zM219.21 875.72h2.78v2.78h-2.78zM221.99 875.72h2.78v2.78h-2.78zM233.09 925.69h2.78v2.78h-2.78zM235.87 881.27h2.78v2.78h-2.78zM238.65 931.25h2.78v2.78h-2.78zM241.42 892.38h2.78v2.78h-2.78zM249.75 931.25h2.78v2.78h-2.78zM252.53 936.8h2.78v2.78h-2.78zM255.3 881.27h2.78v5.55h-2.78zM258.08 875.72h2.78v2.78h-2.78zM260.86 920.14h2.78v2.78h-2.78zM263.63 864.61h2.78v2.78h-2.78zM266.41 914.59h2.78v5.55h-2.78zM269.19 867.39h2.78v2.78h-2.78zM271.96 917.36h2.78v2.78h-2.78zM274.74 867.39h2.78v2.78h-2.78zM274.74 911.81h2.78v5.55h-2.78zM280.29 856.28h2.78v2.78h-2.78zM283.07 842.4h2.78v2.78h-2.78zM294.17 817.41h2.78v11.11h-2.78zM296.95 861.84h2.78v5.55h-2.78zM299.73 797.98h2.78v16.66h-2.78zM302.5 850.73h2.78v2.78h-2.78zM308.06 839.63h2.78v2.78h-2.78zM310.83 809.08h2.78v11.11h-2.78zM313.61 809.08h2.78v2.78h-2.78zM319.16 789.65h2.78v2.78h-2.78zM324.71 723.02h2.78v2.78h-2.78zM324.71 786.87h2.78v2.78h-2.78zM330.27 759.11h2.78v8.33h-2.78zM335.82 698.03h2.78v2.78h-2.78zM335.82 748h2.78v2.78h-2.78zM338.6 739.67h2.78v2.78h-2.78zM346.93 711.91h2.78v11.11h-2.78zM349.7 661.94h2.78v2.78h-2.78zM355.25 709.13h2.78v2.78h-2.78zM360.81 695.25h2.78v5.55h-2.78zM366.36 617.51h2.78v2.78h-2.78zM366.36 670.26h2.78v11.11h-2.78zM369.14 670.26h2.78v30.54h-2.78zM371.91 628.62h2.78v2.78h-2.78zM374.69 681.37h2.78v19.43h-2.78zM385.79 614.74h2.78v13.88h-2.78zM396.9 614.74h2.78v2.78h-2.78zM396.9 673.04h2.78v2.78h-2.78zM410.78 611.96h2.78v2.78h-2.78zM410.78 678.59h2.78v2.78h-2.78zM413.56 670.26h2.78v2.78h-2.78zM416.34 628.62h2.78v11.11h-2.78zM438.55 711.91h2.78v2.78h-2.78zM441.32 659.16h2.78v2.78h-2.78zM441.32 714.69h2.78v2.78h-2.78zM455.2 675.82h2.78v2.78h-2.78zM460.76 753.56h2.78v2.78h-2.78zM463.53 739.67h2.78v5.55h-2.78zM471.86 703.58h2.78v11.11h-2.78zM474.64 714.69h2.78v2.78h-2.78zM474.64 775.77h2.78v2.78h-2.78zM477.42 711.91h2.78v2.78h-2.78zM482.97 723.02h2.78v2.78h-2.78zM482.97 767.44h2.78v2.78h-2.78zM485.75 725.79h2.78v2.78h-2.78zM491.3 723.02h2.78v2.78h-2.78zM491.3 781.32h2.78v2.78h-2.78zM499.63 728.57h2.78v2.78h-2.78zM505.18 731.35h2.78v19.43h-2.78zM510.73 759.11h2.78v11.11h-2.78zM513.51 825.74h2.78v13.88h-2.78zM516.29 775.77h2.78v2.78h-2.78zM530.17 797.98h2.78v5.55h-2.78zM535.72 797.98h2.78v2.78h-2.78zM535.72 856.28h2.78v2.78h-2.78zM541.27 797.98h2.78v16.66h-2.78zM546.83 859.06h2.78v8.33h-2.78zM555.16 797.98h2.78v2.78h-2.78zM557.93 817.41h2.78v2.78h-2.78zM557.93 856.28h2.78v5.55h-2.78zM563.48 861.84h2.78v2.78h-2.78zM571.81 872.94h2.78v2.78h-2.78zM577.37 842.4h2.78v2.78h-2.78zM580.14 786.87h2.78v8.33h-2.78zM582.92 725.79h2.78v11.11h-2.78zM585.7 711.91h2.78v11.11h-2.78zM585.7 797.98h2.78v5.55h-2.78zM585.7 817.41h2.78v2.78h-2.78zM588.47 803.53h2.78v2.78h-2.78zM591.25 711.91h2.78v16.66h-2.78zM591.25 822.97h2.78v8.33h-2.78zM594.02 786.87h2.78v2.78h-2.78zM594.02 834.07h2.78v16.66h-2.78zM599.58 847.95h2.78v2.78h-2.78zM610.68 861.84h2.78v2.78h-2.78zM613.46 847.95h2.78v2.78h-2.78zM619.01 814.64h2.78v2.78h-2.78zM619.01 878.49h2.78v2.78h-2.78zM624.57 853.51h2.78v16.66h-2.78zM630.12 864.61h2.78v8.33h-2.78zM635.67 817.41h2.78v2.78h-2.78zM641.22 803.53h2.78v2.78h-2.78zM646.78 797.98h2.78v2.78h-2.78zM652.33 811.86h2.78v2.78h-2.78zM655.11 809.08h2.78v2.78h-2.78zM657.88 806.31h2.78v2.78h-2.78zM657.88 853.51h2.78v2.78h-2.78zM663.43 803.53h2.78v2.78h-2.78zM668.99 806.31h2.78v2.78h-2.78zM682.87 792.43h2.78v2.78h-2.78zM685.65 786.87h2.78v2.78h-2.78zM685.65 831.3h2.78v11.11h-2.78zM693.98 853.51h2.78v2.78h-2.78zM699.53 800.76h2.78v2.78h-2.78zM702.3 792.43h2.78v5.55h-2.78zM705.08 828.52h2.78v2.78h-2.78zM707.86 828.52h2.78v2.78h-2.78zM718.96 831.3h2.78v2.78h-2.78zM721.74 836.85h2.78v2.78h-2.78zM727.29 786.87h2.78v2.78h-2.78zM735.62 842.4h2.78v5.55h-2.78zM741.17 845.18h2.78v5.55h-2.78zM746.73 795.2h2.78v2.78h-2.78zM755.06 781.32h2.78v2.78h-2.78zM755.06 839.63h2.78v27.76h-2.78zM760.61 786.87h2.78v2.78h-2.78zM760.61 853.51h2.78v13.88h-2.78zM777.27 661.94h2.78v2.78h-2.78zM777.27 775.77h2.78v5.55h-2.78zM782.82 739.67h2.78v22.21h-2.78zM785.6 681.37h2.78v8.33h-2.78zM788.37 736.9h2.78v19.43h-2.78zM791.15 778.54h2.78v16.66h-2.78zM793.93 806.31h2.78v2.78h-2.78zM793.93 859.06h2.78v2.78h-2.78zM810.58 828.52h2.78v2.78h-2.78zM810.58 875.72h2.78v2.78h-2.78zM816.14 828.52h2.78v5.55h-2.78zM818.91 897.93h2.78v2.78h-2.78zM821.69 828.52h2.78v2.78h-2.78zM827.24 759.11h2.78v30.54h-2.78zM827.24 853.51h2.78v5.55h-2.78zM830.02 692.48h2.78v22.21h-2.78zM830.02 831.3h2.78v16.66h-2.78zM832.8 778.54h2.78v2.78h-2.78zM835.57 661.94h2.78v2.78h-2.78zM835.57 748h2.78v27.76h-2.78zM838.35 664.71h2.78v2.78h-2.78zM838.35 811.86h2.78v2.78h-2.78zM838.35 820.19h2.78v2.78h-2.78zM841.12 750.78h2.78v5.55h-2.78zM841.12 850.73h2.78v2.78h-2.78zM843.9 809.08h2.78v16.66h-2.78zM846.68 872.94h2.78v2.78h-2.78zM849.45 828.52h2.78v5.55h-2.78zM860.56 895.15h2.78v5.55h-2.78zM863.34 828.52h2.78v2.78h-2.78zM866.11 895.15h2.78v5.55h-2.78zM868.89 836.85h2.78v11.11h-2.78zM874.44 836.85h2.78v5.55h-2.78zM891.1 850.73h2.78v5.55h-2.78zM902.21 850.73h2.78v2.78h-2.78zM904.98 845.18h2.78v2.78h-2.78zM907.76 839.63h2.78v2.78h-2.78zM910.53 895.15h2.78v2.78h-2.78zM916.09 886.82h2.78v2.78h-2.78zM918.86 847.95h2.78v2.78h-2.78zM921.64 845.18h2.78v2.78h-2.78zM921.64 886.82h2.78v2.78h-2.78zM927.19 886.82h2.78v2.78h-2.78zM932.75 881.27h2.78v5.55h-2.78zM941.07 836.85h2.78v2.78h-2.78zM943.85 881.27h2.78v2.78h-2.78zM949.4 856.28h2.78v2.78h-2.78zM952.18 811.86h2.78v8.33h-2.78zM957.73 834.07h2.78v2.78h-2.78zM960.51 839.63h2.78v5.55h-2.78zM977.17 909.04h2.78v2.78h-2.78zM979.94 934.02h2.78v2.78h-2.78zM985.5 895.15h2.78v8.33h-2.78zM988.27 911.81h2.78v2.78h-2.78zM993.83 903.48h2.78v2.78h-2.78zM996.6 856.28h2.78v5.55h-2.78zM1007.71 864.61h2.78v5.55h-2.78zM1013.26 859.06h2.78v8.33h-2.78zM1018.81 859.06h2.78v11.11h-2.78zM1021.59 853.51h2.78v16.66h-2.78zM1024.37 911.81h2.78v2.78h-2.78zM1027.14 856.28h2.78v11.11h-2.78zM1027.14 906.26h2.78v2.78h-2.78zM1032.7 911.81h2.78v8.33h-2.78zM1035.47 875.72h2.78v2.78h-2.78zM1038.25 909.04h2.78v5.55h-2.78zM1041.03 928.47h2.78v8.33h-2.78zM1046.58 922.92h2.78v13.88h-2.78zM1049.35 920.14h2.78v11.11h-2.78zM1052.13 931.25h2.78v2.78h-2.78zM1063.24 917.36h2.78v2.78h-2.78zM1068.79 934.02h2.78v2.78h-2.78zM1074.34 886.82h2.78v2.78h-2.78zM1074.34 931.25h2.78v2.78h-2.78zM1077.12 895.15h2.78v2.78h-2.78zM1079.89 889.6h2.78v2.78h-2.78zM1082.67 928.47h2.78v2.78h-2.78zM1085.45 928.47h2.78v2.78h-2.78zM1093.78 939.58h2.78v2.78h-2.78zM1096.55 889.6h2.78v2.78h-2.78zM1102.11 892.38h2.78v2.78h-2.78zM1104.88 886.82h2.78v2.78h-2.78zM1107.66 928.47h2.78v2.78h-2.78zM1113.21 892.38h2.78v2.78h-2.78zM1113.21 925.69h2.78v2.78h-2.78zM1121.54 878.49h2.78v5.55h-2.78zM1121.54 931.25h2.78v2.78h-2.78zM1124.32 914.59h2.78v2.78h-2.78zM1127.09 853.51h2.78v2.78h-2.78zM1127.09 897.93h2.78v2.78h-2.78zM1127.09 909.04h2.78v2.78h-2.78zM1129.87 886.82h2.78v8.33h-2.78zM1138.2 872.94h2.78v13.88h-2.78zM1143.75 886.82h2.78v2.78h-2.78zM1149.3 900.71h2.78v2.78h-2.78zM1157.63 897.93h2.78v5.55h-2.78zM1160.41 895.15h2.78v2.78h-2.78zM1163.19 897.93h2.78v2.78h-2.78zM1165.96 945.13h2.78v2.78h-2.78zM1168.74 903.48h2.78v2.78h-2.78zM1171.52 945.13h2.78v2.78h-2.78zM1174.29 897.93h2.78v2.78h-2.78zM1177.07 900.71h2.78v2.78h-2.78zM1182.62 939.58h2.78v5.55h-2.78zM1188.17 909.04h2.78v2.78h-2.78zM1190.95 939.58h2.78v2.78h-2.78zM1199.28 945.13h2.78v2.78h-2.78zM1202.06 909.04h2.78v2.78h-2.78zM1204.83 906.26h2.78v2.78h-2.78zM1213.16 928.47h2.78v2.78h-2.78zM1218.71 859.06h2.78v27.76h-2.78zM1221.49 772.99h2.78v33.32h-2.78zM1224.27 698.03h2.78v8.33h-2.78zM1224.27 850.73h2.78v27.76h-2.78zM1227.04 778.54h2.78v11.11h-2.78zM1229.82 695.25h2.78v2.78h-2.78zM1229.82 831.3h2.78v22.21h-2.78zM1232.6 748h2.78v22.21h-2.78zM1235.37 903.48h2.78v2.78h-2.78zM1238.15 856.28h2.78v27.76h-2.78zM1238.15 928.47h2.78v2.78h-2.78zM1243.7 939.58h2.78v2.78h-2.78zM1249.26 934.02h2.78v2.78h-2.78zM1257.58 900.71h2.78v2.78h-2.78zM1257.58 945.13h2.78v2.78h-2.78zM1263.14 961.79h2.78v2.78h-2.78zM1268.69 900.71h2.78v13.88h-2.78zM1274.24 947.9h2.78v2.78h-2.78zM1279.8 911.81h2.78v2.78h-2.78zM1282.57 945.13h2.78v2.78h-2.78zM1290.9 920.14h2.78v2.78h-2.78zM1290.9 936.8h2.78v2.78h-2.78zM1299.23 947.9h2.78v2.78h-2.78zM1302.01 903.48h2.78v11.11h-2.78zM1315.89 956.23h2.78v2.78h-2.78zM1321.44 959.01h2.78v2.78h-2.78zM1332.55 947.9h2.78v2.78h-2.78zM1335.32 914.59h2.78v2.78h-2.78zM1349.21 956.23h2.78v2.78h-2.78zM1351.98 917.36h2.78v11.11h-2.78zM1351.98 961.79h2.78v13.88h-2.78zM1357.53 914.59h2.78v5.55h-2.78zM1357.53 956.23h2.78v19.43h-2.78zM1360.31 917.36h2.78v5.55h-2.78zM1360.31 950.68h2.78v2.78h-2.78zM1368.64 914.59h2.78v5.55h-2.78zM1371.42 920.14h2.78v2.78h-2.78zM1374.19 917.36h2.78v2.78h-2.78zM1374.19 956.23h2.78v2.78h-2.78zM1382.52 922.92h2.78v5.55h-2.78zM1385.3 956.23h2.78v11.11h-2.78zM1390.85 959.01h2.78v5.55h-2.78zM1393.63 961.79h2.78v2.78h-2.78zM1401.96 925.69h2.78v2.78h-2.78zM1404.73 886.82h2.78v24.99h-2.78zM1407.51 859.06h2.78v5.55h-2.78zM1407.51 934.02h2.78v11.11h-2.78zM1410.29 895.15h2.78v2.78h-2.78zM1415.84 853.51h2.78v38.87h-2.78zM1421.39 903.48h2.78v2.78h-2.78zM1424.17 947.9h2.78v2.78h-2.78zM1429.72 906.26h2.78v2.78h-2.78zM1435.27 911.81h2.78v2.78h-2.78zM1438.05 900.71h2.78v11.11h-2.78zM1438.05 939.58h2.78v2.78h-2.78zM1440.83 842.4h2.78v16.66h-2.78zM1443.6 886.82h2.78v22.21h-2.78zM1446.38 903.48h2.78v8.33h-2.78zM1449.16 853.51h2.78v8.33h-2.78zM1449.16 942.35h2.78v13.88h-2.78zM1451.93 906.26h2.78v8.33h-2.78zM1460.26 959.01h2.78v2.78h-2.78zM1468.59 931.25h2.78v5.55h-2.78zM1471.37 961.79h2.78v2.78h-2.78zM1476.92 953.46h2.78v8.33h-2.78zM1496.35 920.14h2.78v2.78h-2.78zM1499.13 953.46h2.78v2.78h-2.78zM1501.91 925.69h2.78v2.78h-2.78zM1504.68 928.47h2.78v2.78h-2.78zM1504.68 961.79h2.78v2.78h-2.78zM1507.46 950.68h2.78v5.55h-2.78zM1510.24 906.26h2.78v19.43h-2.78zM1513.01 956.23h2.78v11.11h-2.78zM1515.79 906.26h2.78v19.43h-2.78zM1518.57 964.56h2.78v2.78h-2.78zM1524.12 925.69h2.78v2.78h-2.78zM1529.67 928.47h2.78v5.55h-2.78zM1540.78 936.8h2.78v2.78h-2.78zM1543.55 920.14h2.78v16.66h-2.78zM1549.11 917.36h2.78v5.55h-2.78zM1557.44 959.01h2.78v2.78h-2.78zM1560.21 931.25h2.78v5.55h-2.78zM1560.21 961.79h2.78v2.78h-2.78zM1576.87 964.56h2.78v2.78h-2.78zM1579.65 925.69h2.78v2.78h-2.78zM1585.2 914.59h2.78v2.78h-2.78zM1590.75 917.36h2.78v2.78h-2.78zM1593.53 925.69h2.78v2.78h-2.78zM1596.31 914.59h2.78v2.78h-2.78zM1607.41 920.14h2.78v2.78h-2.78zM1612.96 909.04h2.78v2.78h-2.78zM1615.74 953.46h2.78v2.78h-2.78zM1618.52 911.81h2.78v8.33h-2.78zM1621.29 931.25h2.78v2.78h-2.78zM1626.85 959.01h2.78v2.78h-2.78zM1632.4 934.02h2.78v2.78h-2.78zM1632.4 959.01h2.78v2.78h-2.78zM1637.95 934.02h2.78v2.78h-2.78zM1637.95 956.23h2.78v2.78h-2.78zM1646.28 925.69h2.78v2.78h-2.78zM1649.06 953.46h2.78v5.55h-2.78zM1651.83 922.92h2.78v2.78h-2.78zM1657.39 906.26h2.78v2.78h-2.78zM1660.16 925.69h2.78v2.78h-2.78zM1665.72 920.14h2.78v2.78h-2.78zM1674.04 914.59h2.78v2.78h-2.78zM1676.82 956.23h2.78v2.78h-2.78zM1685.15 928.47h2.78v2.78h-2.78zM1687.93 920.14h2.78v5.55h-2.78zM1701.81 925.69h2.78v2.78h-2.78zM1704.58 928.47h2.78v2.78h-2.78zM1715.69 922.92h2.78v2.78h-2.78zM1718.47 981.22h2.78v2.78h-2.78zM1721.24 922.92h2.78v2.78h-2.78zM1724.02 925.69h2.78v2.78h-2.78zM1724.02 959.01h2.78v2.78h-2.78zM1724.02 970.12h2.78v11.11h-2.78zM1726.8 922.92h2.78v11.11h-2.78zM1726.8 953.46h2.78v2.78h-2.78zM1732.35 925.69h2.78v11.11h-2.78zM1740.68 934.02h2.78v5.55h-2.78zM1743.45 928.47h2.78v2.78h-2.78zM1760.11 961.79h2.78v2.78h-2.78zM1762.89 959.01h2.78v2.78h-2.78zM1765.67 961.79h2.78v5.55h-2.78zM1771.22 953.46h2.78v2.78h-2.78zM1771.22 961.79h2.78v2.78h-2.78zM1779.55 950.68h2.78v2.78h-2.78zM1785.1 964.56h2.78v2.78h-2.78zM1790.65 922.92h2.78v2.78h-2.78zM1790.65 961.79h2.78v2.78h-2.78zM1812.86 914.59h2.78v11.11h-2.78zM1818.42 914.59h2.78v19.43h-2.78zM1843.4 934.02h2.78v2.78h-2.78zM1846.18 922.92h2.78v5.55h-2.78zM1854.51 911.81h2.78v2.78h-2.78zM1865.62 956.23h2.78v2.78h-2.78zM1871.17 953.46h2.78v2.78h-2.78zM1873.95 928.47h2.78v2.78h-2.78zM1876.72 925.69h2.78v2.78h-2.78zM1876.72 961.79h2.78v2.78h-2.78zM1879.5 925.69h2.78v2.78h-2.78zM1885.05 925.69h2.78v2.78h-2.78zM1887.83 931.25h2.78v2.78h-2.78zM1890.6 928.47h2.78v2.78h-2.78zM1896.16 928.47h2.78v2.78h-2.78zM1898.93 914.59h2.78v2.78h-2.78zM1910.04 931.25h2.78v2.78h-2.78zM1918.37 928.47h2.78v2.78h-2.78zM1921.14 961.79h2.78v2.78h-2.78zM1923.92 961.79h2.78v2.78h-2.78zM1926.7 928.47h2.78v2.78h-2.78zM1929.47 953.46h2.78v8.33h-2.78zM1937.8 956.23h2.78v2.78h-2.78zM1943.36 928.47h2.78v2.78h-2.78zM1943.36 953.46h2.78v2.78h-2.78zM1946.13 956.23h2.78v2.78h-2.78zM1951.68 928.47h2.78v2.78h-2.78zM1954.46 967.34h2.78v2.78h-2.78zM1957.24 925.69h2.78v2.78h-2.78zM1962.79 922.92h2.78v5.55h-2.78zM1962.79 956.23h2.78v2.78h-2.78zM1965.57 959.01h2.78v2.78h-2.78zM1968.34 953.46h2.78v2.78h-2.78z"/>
<path fill="#FF4040" d="M174.79 870.17h2.78v2.78h-2.78zM177.56 864.61h2.78v30.54h-2.78zM180.34 864.61h2.78v30.54h-2.78zM183.12 861.84h2.78v36.09h-2.78zM185.89 859.06h2.78v41.65h-2.78zM188.67 850.73h2.78v63.86h-2.78zM191.45 853.51h2.78v61.08h-2.78zM194.22 859.06h2.78v52.75h-2.78zM197 859.06h2.78v52.75h-2.78zM199.78 864.61h2.78v33.32h-2.78zM202.55 859.06h2.78v55.53h-2.78zM205.33 859.06h2.78v55.53h-2.78zM208.11 870.17h2.78v36.09h-2.78zM210.88 870.17h2.78v36.09h-2.78zM213.66 864.61h2.78v41.65h-2.78zM216.43 864.61h2.78v41.65h-2.78zM219.21 878.49h2.78v27.76h-2.78zM221.99 878.49h2.78v44.42h-2.78zM224.76 872.94h2.78v49.98h-2.78zM227.54 872.94h2.78v52.75h-2.78zM230.32 872.94h2.78v52.75h-2.78zM233.09 875.72h2.78v49.98h-2.78zM235.87 884.05h2.78v44.42h-2.78zM238.65 884.05h2.78v47.2h-2.78zM241.42 895.15h2.78v41.65h-2.78zM244.2 892.38h2.78v44.42h-2.78zM246.97 892.38h2.78v41.65h-2.78zM249.75 897.93h2.78v33.32h-2.78zM252.53 895.15h2.78v41.65h-2.78zM255.3 886.82h2.78v52.75h-2.78zM258.08 878.49h2.78v52.75h-2.78zM260.86 867.39h2.78v52.75h-2.78zM263.63 867.39h2.78v55.53h-2.78zM266.41 864.61h2.78v49.98h-2.78zM269.19 870.17h2.78v44.42h-2.78zM271.96 870.17h2.78v47.2h-2.78zM274.74 870.17h2.78v41.65h-2.78zM277.52 864.61h2.78v47.2h-2.78zM280.29 859.06h2.78v41.65h-2.78zM283.07 845.18h2.78v55.53h-2.78zM285.84 839.63h2.78v58.3h-2.78zM288.62 828.52h2.78v63.86h-2.78zM291.4 828.52h2.78v44.42h-2.78zM294.17 828.52h2.78v41.65h-2.78zM296.95 817.41h2.78v44.42h-2.78zM299.73 814.64h2.78v44.42h-2.78zM302.5 795.2h2.78v55.53h-2.78zM305.28 795.2h2.78v47.2h-2.78zM308.06 781.32h2.78v58.3h-2.78zM310.83 770.22h2.78v38.87h-2.78zM313.61 767.44h2.78v41.65h-2.78zM316.38 728.57h2.78v83.29h-2.78zM319.16 728.57h2.78v61.08h-2.78zM321.94 725.79h2.78v63.86h-2.78zM324.71 725.79h2.78v61.08h-2.78zM327.49 706.36h2.78v63.86h-2.78zM330.27 706.36h2.78v52.75h-2.78zM333.04 706.36h2.78v52.75h-2.78zM335.82 700.81h2.78v47.2h-2.78zM338.6 686.92h2.78v52.75h-2.78zM341.37 684.15h2.78v52.75h-2.78zM344.15 650.83h2.78v72.19h-2.78zM346.93 648.05h2.78v63.86h-2.78zM349.7 664.71h2.78v47.2h-2.78zM352.48 642.5h2.78v61.08h-2.78zM355.25 642.5h2.78v66.63h-2.78zM358.03 648.05h2.78v63.86h-2.78zM360.81 648.05h2.78v47.2h-2.78zM363.58 620.29h2.78v63.86h-2.78zM366.36 620.29h2.78v49.98h-2.78zM369.14 620.29h2.78v49.98h-2.78zM371.91 631.4h2.78v72.19h-2.78zM374.69 623.07h2.78v58.3h-2.78zM377.47 609.18h2.78v72.19h-2.78zM380.24 609.18h2.78v80.52h-2.78zM383.02 628.62h2.78v58.3h-2.78zM385.79 628.62h2.78v41.65h-2.78zM388.57 611.96h2.78v61.08h-2.78zM391.35 611.96h2.78v66.63h-2.78zM394.12 611.96h2.78v66.63h-2.78zM396.9 617.51h2.78v55.53h-2.78zM399.68 609.18h2.78v66.63h-2.78zM402.45 609.18h2.78v66.63h-2.78zM405.23 611.96h2.78v61.08h-2.78zM408.01 609.18h2.78v72.19h-2.78zM410.78 614.74h2.78v63.86h-2.78zM413.56 628.62h2.78v41.65h-2.78zM416.34 639.72h2.78v49.98h-2.78zM419.11 617.51h2.78v72.19h-2.78zM421.89 620.29h2.78v69.41h-2.78zM424.66 623.07h2.78v66.63h-2.78zM427.44 620.29h2.78v72.19h-2.78zM430.22 620.29h2.78v83.29h-2.78zM432.99 653.61h2.78v77.74h-2.78zM435.77 653.61h2.78v77.74h-2.78zM438.55 653.61h2.78v58.3h-2.78zM441.32 661.94h2.78v52.75h-2.78zM444.1 673.04h2.78v66.63h-2.78zM446.88 673.04h2.78v66.63h-2.78zM449.65 675.82h2.78v61.08h-2.78zM452.43 675.82h2.78v49.98h-2.78zM455.2 678.59h2.78v49.98h-2.78zM457.98 675.82h2.78v80.52h-2.78zM460.76 684.15h2.78v69.41h-2.78zM463.53 695.25h2.78v44.42h-2.78zM466.31 700.81h2.78v38.87h-2.78zM469.09 700.81h2.78v41.65h-2.78zM471.86 714.69h2.78v44.42h-2.78zM474.64 717.46h2.78v58.3h-2.78zM477.42 714.69h2.78v63.86h-2.78zM480.19 711.91h2.78v55.53h-2.78zM482.97 725.79h2.78v41.65h-2.78zM485.75 728.57h2.78v44.42h-2.78zM488.52 725.79h2.78v47.2h-2.78zM491.3 725.79h2.78v55.53h-2.78zM494.07 731.35h2.78v61.08h-2.78zM496.85 731.35h2.78v63.86h-2.78zM499.63 731.35h2.78v72.19h-2.78zM502.4 728.57h2.78v83.29h-2.78zM505.18 750.78h2.78v63.86h-2.78zM507.96 756.33h2.78v63.86h-2.78zM510.73 770.22h2.78v52.75h-2.78zM513.51 772.99h2.78v52.75h-2.78zM516.29 778.54h2.78v61.08h-2.78zM519.06 784.1h2.78v55.53h-2.78zM521.84 784.1h2.78v66.63h-2.78zM524.61 792.43h2.78v58.3h-2.78zM527.39 792.43h2.78v72.19h-2.78zM530.17 803.53h2.78v61.08h-2.78zM532.94 809.08h2.78v49.98h-2.78zM535.72 800.76h2.78v55.53h-2.78zM538.5 797.98h2.78v63.86h-2.78zM541.27 814.64h2.78v47.2h-2.78zM544.05 797.98h2.78v58.3h-2.78zM546.83 797.98h2.78v61.08h-2.78zM546.83 867.39h2.78v5.55h-2.78zM549.6 809.08h2.78v63.86h-2.78zM552.38 797.98h2.78v52.75h-2.78zM555.16 800.76h2.78v55.53h-2.78zM557.93 820.19h2.78v36.09h-2.78zM560.71 822.97h2.78v41.65h-2.78zM563.48 811.86h2.78v49.98h-2.78zM566.26 811.86h2.78v47.2h-2.78zM569.04 811.86h2.78v52.75h-2.78zM571.81 811.86h2.78v61.08h-2.78zM574.59 811.86h2.78v63.86h-2.78zM577.37 809.08h2.78v33.32h-2.78zM580.14 795.2h2.78v49.98h-2.78zM582.92 736.9h2.78v108.28h-2.78zM585.7 723.02h2.78v74.96h-2.78zM588.47 709.13h2.78v94.4h-2.78zM591.25 728.57h2.78v94.4h-2.78zM594.02 789.65h2.78v44.42h-2.78zM596.8 800.76h2.78v52.75h-2.78zM599.58 806.31h2.78v41.65h-2.78zM602.35 806.31h2.78v41.65h-2.78zM605.13 806.31h2.78v47.2h-2.78zM607.91 814.64h2.78v47.2h-2.78zM610.68 814.64h2.78v47.2h-2.78zM613.46 811.86h2.78v36.09h-2.78zM616.24 811.86h2.78v66.63h-2.78zM619.01 817.41h2.78v61.08h-2.78zM621.79 817.41h2.78v38.87h-2.78zM624.57 817.41h2.78v36.09h-2.78zM627.34 822.97h2.78v49.98h-2.78zM630.12 817.41h2.78v47.2h-2.78zM632.89 817.41h2.78v55.53h-2.78zM635.67 820.19h2.78v52.75h-2.78zM638.45 817.41h2.78v38.87h-2.78zM641.22 806.31h2.78v47.2h-2.78zM644 803.53h2.78v49.98h-2.78zM646.78 800.76h2.78v69.41h-2.78zM649.55 800.76h2.78v69.41h-2.78zM652.33 814.64h2.78v41.65h-2.78zM655.11 811.86h2.78v47.2h-2.78zM657.88 809.08h2.78v44.42h-2.78zM660.66 803.53h2.78v49.98h-2.78zM663.43 806.31h2.78v47.2h-2.78zM666.21 806.31h2.78v30.54h-2.78zM668.99 809.08h2.78v27.76h-2.78zM671.76 806.31h2.78v30.54h-2.78zM674.54 806.31h2.78v49.98h-2.78zM677.32 809.08h2.78v47.2h-2.78zM680.09 809.08h2.78v41.65h-2.78zM682.87 795.2h2.78v55.53h-2.78zM685.65 789.65h2.78v41.65h-2.78zM685.65 842.4h2.78v2.78h-2.78zM688.42 786.87h2.78v61.08h-2.78zM691.2 797.98h2.78v55.53h-2.78zM693.98 795.2h2.78v58.3h-2.78zM696.75 797.98h2.78v41.65h-2.78zM699.53 803.53h2.78v33.32h-2.78zM702.3 797.98h2.78v33.32h-2.78zM705.08 792.43h2.78v36.09h-2.78zM707.86 792.43h2.78v36.09h-2.78zM710.63 775.77h2.78v55.53h-2.78zM713.41 775.77h2.78v69.41h-2.78zM716.19 792.43h2.78v52.75h-2.78zM718.96 792.43h2.78v38.87h-2.78zM721.74 789.65h2.78v47.2h-2.78zM724.52 786.87h2.78v55.53h-2.78zM727.29 789.65h2.78v52.75h-2.78zM730.07 800.76h2.78v44.42h-2.78zM732.84 800.76h2.78v41.65h-2.78zM735.62 803.53h2.78v38.87h-2.78zM738.4 803.53h2.78v47.2h-2.78zM741.17 803.53h2.78v41.65h-2.78zM743.95 800.76h2.78v36.09h-2.78zM746.73 797.98h2.78v33.32h-2.78zM749.5 789.65h2.78v47.2h-2.78zM752.28 792.43h2.78v47.2h-2.78zM755.06 784.1h2.78v55.53h-2.78zM757.83 781.32h2.78v88.84h-2.78zM760.61 789.65h2.78v52.75h-2.78zM763.39 789.65h2.78v52.75h-2.78zM766.16 789.65h2.78v36.09h-2.78zM768.94 789.65h2.78v36.09h-2.78zM771.71 772.99h2.78v47.2h-2.78zM774.49 736.9h2.78v83.29h-2.78zM777.27 664.71h2.78v111.06h-2.78zM780.04 650.83h2.78v91.62h-2.78zM782.82 650.83h2.78v88.84h-2.78zM785.6 689.7h2.78v133.27h-2.78zM788.37 756.33h2.78v102.73h-2.78zM791.15 795.2h2.78v63.86h-2.78zM793.93 809.08h2.78v49.98h-2.78zM796.7 828.52h2.78v33.32h-2.78zM799.48 828.52h2.78v33.32h-2.78zM802.25 828.52h2.78v44.42h-2.78zM805.03 828.52h2.78v44.42h-2.78zM807.81 828.52h2.78v47.2h-2.78zM810.58 831.3h2.78v44.42h-2.78zM813.36 836.85h2.78v41.65h-2.78zM816.14 834.07h2.78v63.86h-2.78zM818.91 825.74h2.78v72.19h-2.78zM821.69 831.3h2.78v49.98h-2.78zM824.47 820.19h2.78v47.2h-2.78zM827.24 789.65h2.78v63.86h-2.78zM830.02 714.69h2.78v116.61h-2.78zM832.8 664.71h2.78v113.83h-2.78zM835.57 664.71h2.78v83.29h-2.78zM838.35 667.49h2.78v144.37h-2.78zM838.35 814.64h2.78v5.55h-2.78zM841.12 756.33h2.78v94.4h-2.78zM843.9 825.74h2.78v27.76h-2.78zM846.68 828.52h2.78v44.42h-2.78zM849.45 834.07h2.78v55.53h-2.78zM852.23 847.95h2.78v52.75h-2.78zM855.01 850.73h2.78v52.75h-2.78zM857.78 842.4h2.78v52.75h-2.78zM860.56 828.52h2.78v66.63h-2.78zM863.34 831.3h2.78v72.19h-2.78zM866.11 836.85h2.78v52.75h-2.78zM868.89 847.95h2.78v55.53h-2.78zM871.66 834.07h2.78v69.41h-2.78zM874.44 842.4h2.78v47.2h-2.78zM877.22 845.18h2.78v55.53h-2.78zM879.99 856.28h2.78v47.2h-2.78zM882.77 856.28h2.78v55.53h-2.78zM885.55 861.84h2.78v49.98h-2.78zM888.32 856.28h2.78v47.2h-2.78zM891.1 856.28h2.78v47.2h-2.78zM893.88 839.63h2.78v63.86h-2.78zM896.65 842.4h2.78v61.08h-2.78zM899.43 853.51h2.78v30.54h-2.78zM902.21 853.51h2.78v44.42h-2.78zM904.98 847.95h2.78v47.2h-2.78zM907.76 842.4h2.78v41.65h-2.78zM910.53 839.63h2.78v55.53h-2.78zM913.31 834.07h2.78v63.86h-2.78zM916.09 834.07h2.78v52.75h-2.78zM918.86 850.73h2.78v36.09h-2.78zM921.64 847.95h2.78v38.87h-2.78zM924.42 839.63h2.78v49.98h-2.78zM927.19 836.85h2.78v49.98h-2.78zM929.97 845.18h2.78v44.42h-2.78zM932.75 845.18h2.78v36.09h-2.78zM935.52 842.4h2.78v52.75h-2.78zM938.3 842.4h2.78v52.75h-2.78zM941.07 839.63h2.78v44.42h-2.78zM943.85 822.97h2.78v58.3h-2.78zM946.63 792.43h2.78v74.96h-2.78zM949.4 792.43h2.78v63.86h-2.78zM952.18 820.19h2.78v61.08h-2.78zM954.96 831.3h2.78v58.3h-2.78zM957.73 836.85h2.78v61.08h-2.78zM960.51 845.18h2.78v52.75h-2.78zM963.29 845.18h2.78v52.75h-2.78zM966.06 842.4h2.78v55.53h-2.78zM968.84 842.4h2.78v52.75h-2.78zM971.62 853.51h2.78v49.98h-2.78zM974.39 853.51h2.78v55.53h-2.78zM977.17 861.84h2.78v47.2h-2.78zM979.94 864.61h2.78v69.41h-2.78zM982.72 847.95h2.78v86.07h-2.78zM985.5 845.18h2.78v49.98h-2.78zM988.27 853.51h2.78v58.3h-2.78zM991.05 861.84h2.78v49.98h-2.78zM993.83 861.84h2.78v41.65h-2.78zM996.6 861.84h2.78v47.2h-2.78zM999.38 856.28h2.78v58.3h-2.78zM1002.16 856.28h2.78v58.3h-2.78zM1004.93 861.84h2.78v47.2h-2.78zM1007.71 870.17h2.78v38.87h-2.78zM1010.48 870.17h2.78v36.09h-2.78zM1013.26 867.39h2.78v33.32h-2.78zM1016.04 856.28h2.78v55.53h-2.78zM1018.81 870.17h2.78v41.65h-2.78zM1021.59 870.17h2.78v44.42h-2.78zM1024.37 853.51h2.78v58.3h-2.78zM1027.14 867.39h2.78v38.87h-2.78zM1027.14 909.04h2.78v19.43h-2.78zM1029.92 870.17h2.78v58.3h-2.78zM1032.7 881.27h2.78v30.54h-2.78zM1035.47 878.49h2.78v30.54h-2.78zM1038.25 872.94h2.78v36.09h-2.78zM1041.03 875.72h2.78v52.75h-2.78zM1043.8 881.27h2.78v58.3h-2.78zM1046.58 886.82h2.78v36.09h-2.78zM1049.35 886.82h2.78v33.32h-2.78zM1052.13 886.82h2.78v44.42h-2.78zM1054.91 878.49h2.78v55.53h-2.78zM1057.68 878.49h2.78v58.3h-2.78zM1060.46 881.27h2.78v38.87h-2.78zM1063.24 872.94h2.78v44.42h-2.78zM1066.01 872.94h2.78v74.96h-2.78zM1068.79 892.38h2.78v41.65h-2.78zM1068.79 936.8h2.78v8.33h-2.78zM1071.57 889.6h2.78v41.65h-2.78zM1074.34 889.6h2.78v41.65h-2.78zM1077.12 897.93h2.78v38.87h-2.78zM1079.89 892.38h2.78v44.42h-2.78zM1082.67 889.6h2.78v38.87h-2.78zM1085.45 892.38h2.78v36.09h-2.78zM1088.22 892.38h2.78v38.87h-2.78zM1091 892.38h2.78v47.2h-2.78zM1093.78 892.38h2.78v47.2h-2.78zM1096.55 892.38h2.78v47.2h-2.78zM1099.33 889.6h2.78v49.98h-2.78zM1102.11 895.15h2.78v38.87h-2.78zM1104.88 889.6h2.78v41.65h-2.78zM1107.66 881.27h2.78v47.2h-2.78zM1110.44 881.27h2.78v47.2h-2.78zM1113.21 895.15h2.78v30.54h-2.78zM1115.99 889.6h2.78v38.87h-2.78zM1118.76 889.6h2.78v41.65h-2.78zM1121.54 884.05h2.78v47.2h-2.78zM1124.32 867.39h2.78v47.2h-2.78zM1127.09 856.28h2.78v41.65h-2.78zM1127.09 900.71h2.78v8.33h-2.78zM1129.87 836.85h2.78v49.98h-2.78zM1132.65 839.63h2.78v80.52h-2.78zM1135.42 861.84h2.78v58.3h-2.78zM1138.2 886.82h2.78v44.42h-2.78zM1140.98 886.82h2.78v44.42h-2.78zM1143.75 889.6h2.78v38.87h-2.78zM1146.53 897.93h2.78v33.32h-2.78zM1149.3 903.48h2.78v36.09h-2.78zM1152.08 903.48h2.78v36.09h-2.78zM1154.86 906.26h2.78v27.76h-2.78zM1157.63 903.48h2.78v33.32h-2.78zM1160.41 897.93h2.78v38.87h-2.78zM1163.19 900.71h2.78v41.65h-2.78zM1165.96 900.71h2.78v44.42h-2.78zM1168.74 906.26h2.78v44.42h-2.78zM1171.52 903.48h2.78v38.87h-2.78zM1174.29 900.71h2.78v41.65h-2.78zM1177.07 903.48h2.78v38.87h-2.78zM1179.85 909.04h2.78v33.32h-2.78zM1182.62 906.26h2.78v33.32h-2.78zM1185.4 909.04h2.78v38.87h-2.78zM1188.17 911.81h2.78v33.32h-2.78zM1190.95 909.04h2.78v30.54h-2.78zM1193.73 909.04h2.78v36.09h-2.78zM1196.5 909.04h2.78v36.09h-2.78zM1199.28 914.59h2.78v30.54h-2.78zM1202.06 911.81h2.78v33.32h-2.78zM1204.83 909.04h2.78v30.54h-2.78zM1207.61 903.48h2.78v38.87h-2.78zM1210.39 897.93h2.78v44.42h-2.78zM1213.16 889.6h2.78v38.87h-2.78zM1215.94 889.6h2.78v38.87h-2.78zM1218.71 886.82h2.78v38.87h-2.78zM1221.49 806.31h2.78v99.95h-2.78zM1224.27 706.36h2.78v144.37h-2.78zM1227.04 695.25h2.78v83.29h-2.78zM1229.82 698.03h2.78v133.27h-2.78zM1232.6 770.22h2.78v119.39h-2.78zM1235.37 825.74h2.78v77.74h-2.78zM1238.15 884.05h2.78v44.42h-2.78zM1240.93 895.15h2.78v41.65h-2.78zM1243.7 895.15h2.78v44.42h-2.78zM1246.48 895.15h2.78v47.2h-2.78zM1249.26 897.93h2.78v36.09h-2.78zM1252.03 897.93h2.78v38.87h-2.78zM1254.81 900.71h2.78v44.42h-2.78zM1257.58 903.48h2.78v41.65h-2.78zM1260.36 903.48h2.78v30.54h-2.78zM1263.14 903.48h2.78v58.3h-2.78zM1265.91 900.71h2.78v61.08h-2.78zM1268.69 914.59h2.78v33.32h-2.78zM1271.47 917.36h2.78v30.54h-2.78zM1274.24 920.14h2.78v27.76h-2.78zM1277.02 920.14h2.78v30.54h-2.78zM1279.8 914.59h2.78v30.54h-2.78zM1282.57 911.81h2.78v33.32h-2.78zM1285.35 917.36h2.78v30.54h-2.78zM1288.12 917.36h2.78v24.99h-2.78zM1290.9 922.92h2.78v13.88h-2.78zM1293.68 903.48h2.78v55.53h-2.78zM1296.45 903.48h2.78v58.3h-2.78zM1299.23 900.71h2.78v47.2h-2.78zM1302.01 914.59h2.78v33.32h-2.78zM1304.78 914.59h2.78v30.54h-2.78zM1307.56 911.81h2.78v38.87h-2.78zM1310.34 909.04h2.78v41.65h-2.78zM1313.11 909.04h2.78v47.2h-2.78zM1315.89 911.81h2.78v44.42h-2.78zM1318.67 922.92h2.78v38.87h-2.78zM1321.44 920.14h2.78v38.87h-2.78zM1324.22 889.6h2.78v55.53h-2.78zM1326.99 889.6h2.78v55.53h-2.78zM1329.77 917.36h2.78v30.54h-2.78zM1332.55 914.59h2.78v33.32h-2.78zM1335.32 917.36h2.78v38.87h-2.78zM1338.1 922.92h2.78v33.32h-2.78zM1340.88 925.69h2.78v30.54h-2.78zM1343.65 925.69h2.78v33.32h-2.78zM1346.43 928.47h2.78v33.32h-2.78zM1349.21 931.25h2.78v24.99h-2.78zM1351.98 928.47h2.78v33.32h-2.78zM1354.76 914.59h2.78v63.86h-2.78zM1357.53 920.14h2.78v36.09h-2.78zM1360.31 922.92h2.78v27.76h-2.78zM1363.09 914.59h2.78v36.09h-2.78zM1365.86 911.81h2.78v66.63h-2.78zM1368.64 920.14h2.78v55.53h-2.78zM1371.42 922.92h2.78v38.87h-2.78zM1374.19 920.14h2.78v36.09h-2.78zM1376.97 920.14h2.78v36.09h-2.78zM1379.75 920.14h2.78v36.09h-2.78zM1382.52 928.47h2.78v22.21h-2.78zM1385.3 931.25h2.78v24.99h-2.78zM1388.08 928.47h2.78v38.87h-2.78zM1390.85 914.59h2.78v44.42h-2.78zM1393.63 914.59h2.78v47.2h-2.78zM1396.4 925.69h2.78v38.87h-2.78zM1399.18 928.47h2.78v36.09h-2.78zM1401.96 928.47h2.78v36.09h-2.78zM1404.73 911.81h2.78v36.09h-2.78zM1407.51 864.61h2.78v69.41h-2.78zM1410.29 847.95h2.78v47.2h-2.78zM1413.06 850.73h2.78v72.19h-2.78zM1415.84 892.38h2.78v41.65h-2.78zM1418.62 897.93h2.78v47.2h-2.78zM1421.39 906.26h2.78v41.65h-2.78zM1424.17 906.26h2.78v41.65h-2.78zM1426.94 917.36h2.78v44.42h-2.78zM1429.72 909.04h2.78v52.75h-2.78zM1432.5 906.26h2.78v44.42h-2.78zM1435.27 914.59h2.78v36.09h-2.78zM1438.05 911.81h2.78v27.76h-2.78zM1440.83 859.06h2.78v69.41h-2.78zM1443.6 831.3h2.78v55.53h-2.78zM1446.38 828.52h2.78v74.96h-2.78zM1449.16 861.84h2.78v80.52h-2.78zM1451.93 914.59h2.78v49.98h-2.78zM1454.71 925.69h2.78v47.2h-2.78zM1457.49 931.25h2.78v41.65h-2.78zM1460.26 931.25h2.78v27.76h-2.78zM1463.04 928.47h2.78v33.32h-2.78zM1465.81 931.25h2.78v30.54h-2.78zM1468.59 936.8h2.78v27.76h-2.78zM1471.37 934.02h2.78v27.76h-2.78zM1474.14 931.25h2.78v33.32h-2.78zM1476.92 931.25h2.78v22.21h-2.78zM1479.7 934.02h2.78v22.21h-2.78zM1482.47 931.25h2.78v24.99h-2.78zM1485.25 931.25h2.78v30.54h-2.78zM1488.03 931.25h2.78v30.54h-2.78zM1490.8 928.47h2.78v24.99h-2.78zM1493.58 922.92h2.78v47.2h-2.78zM1496.35 922.92h2.78v44.42h-2.78zM1499.13 922.92h2.78v30.54h-2.78zM1501.91 928.47h2.78v36.09h-2.78zM1504.68 931.25h2.78v30.54h-2.78zM1507.46 928.47h2.78v22.21h-2.78zM1510.24 925.69h2.78v27.76h-2.78zM1513.01 903.48h2.78v52.75h-2.78zM1515.79 925.69h2.78v41.65h-2.78zM1518.57 928.47h2.78v36.09h-2.78zM1521.34 928.47h2.78v38.87h-2.78zM1524.12 928.47h2.78v38.87h-2.78zM1526.9 925.69h2.78v30.54h-2.78zM1529.67 934.02h2.78v22.21h-2.78zM1532.45 934.02h2.78v30.54h-2.78zM1535.22 931.25h2.78v33.32h-2.78zM1538 931.25h2.78v27.76h-2.78zM1540.78 939.58h2.78v19.43h-2.78zM1543.55 936.8h2.78v22.21h-2.78zM1546.33 917.36h2.78v44.42h-2.78zM1549.11 922.92h2.78v38.87h-2.78zM1551.88 934.02h2.78v22.21h-2.78zM1554.66 934.02h2.78v22.21h-2.78zM1557.44 931.25h2.78v27.76h-2.78zM1560.21 936.8h2.78v24.99h-2.78zM1562.99 934.02h2.78v33.32h-2.78zM1565.76 931.25h2.78v33.32h-2.78zM1568.54 931.25h2.78v27.76h-2.78zM1571.32 925.69h2.78v30.54h-2.78zM1574.09 925.69h2.78v27.76h-2.78zM1576.87 931.25h2.78v33.32h-2.78zM1579.65 928.47h2.78v38.87h-2.78zM1582.42 917.36h2.78v44.42h-2.78zM1585.2 917.36h2.78v44.42h-2.78zM1587.98 917.36h2.78v36.09h-2.78zM1590.75 920.14h2.78v33.32h-2.78zM1593.53 928.47h2.78v19.43h-2.78zM1596.31 917.36h2.78v36.09h-2.78zM1599.08 914.59h2.78v38.87h-2.78zM1601.86 925.69h2.78v36.09h-2.78zM1604.63 925.69h2.78v33.32h-2.78zM1607.41 922.92h2.78v30.54h-2.78zM1610.19 914.59h2.78v30.54h-2.78zM1612.96 911.81h2.78v36.09h-2.78zM1615.74 909.04h2.78v44.42h-2.78zM1618.52 920.14h2.78v36.09h-2.78zM1621.29 934.02h2.78v24.99h-2.78zM1624.07 931.25h2.78v27.76h-2.78zM1626.85 931.25h2.78v27.76h-2.78zM1629.62 931.25h2.78v33.32h-2.78zM1632.4 936.8h2.78v22.21h-2.78zM1635.17 936.8h2.78v22.21h-2.78zM1637.95 936.8h2.78v19.43h-2.78zM1640.73 936.8h2.78v22.21h-2.78zM1643.5 934.02h2.78v24.99h-2.78zM1646.28 928.47h2.78v27.76h-2.78zM1649.06 925.69h2.78v27.76h-2.78zM1651.83 925.69h2.78v36.09h-2.78zM1654.61 906.26h2.78v52.75h-2.78zM1657.39 909.04h2.78v47.2h-2.78zM1660.16 928.47h2.78v24.99h-2.78zM1662.94 922.92h2.78v30.54h-2.78zM1665.72 922.92h2.78v36.09h-2.78zM1668.49 922.92h2.78v36.09h-2.78zM1671.27 922.92h2.78v30.54h-2.78zM1674.04 917.36h2.78v36.09h-2.78zM1676.82 914.59h2.78v41.65h-2.78zM1679.6 922.92h2.78v38.87h-2.78zM1682.37 928.47h2.78v33.32h-2.78zM1685.15 931.25h2.78v22.21h-2.78zM1687.93 925.69h2.78v27.76h-2.78zM1690.7 906.26h2.78v38.87h-2.78zM1693.48 906.26h2.78v41.65h-2.78zM1696.26 911.81h2.78v36.09h-2.78zM1699.03 922.92h2.78v24.99h-2.78zM1701.81 928.47h2.78v22.21h-2.78zM1704.58 931.25h2.78v19.43h-2.78zM1707.36 928.47h2.78v24.99h-2.78zM1710.14 928.47h2.78v38.87h-2.78zM1712.91 928.47h2.78v38.87h-2.78zM1715.69 925.69h2.78v33.32h-2.78zM1718.47 922.92h2.78v58.3h-2.78zM1721.24 925.69h2.78v58.3h-2.78zM1724.02 928.47h2.78v30.54h-2.78zM1726.8 934.02h2.78v19.43h-2.78zM1729.57 922.92h2.78v36.09h-2.78zM1732.35 936.8h2.78v24.99h-2.78zM1735.13 931.25h2.78v24.99h-2.78zM1737.9 931.25h2.78v33.32h-2.78zM1740.68 939.58h2.78v24.99h-2.78zM1743.45 931.25h2.78v30.54h-2.78zM1746.23 931.25h2.78v33.32h-2.78zM1749.01 931.25h2.78v36.09h-2.78zM1751.78 931.25h2.78v33.32h-2.78zM1754.56 934.02h2.78v27.76h-2.78zM1757.34 931.25h2.78v33.32h-2.78zM1760.11 931.25h2.78v30.54h-2.78zM1762.89 934.02h2.78v24.99h-2.78zM1765.67 934.02h2.78v27.76h-2.78zM1768.44 934.02h2.78v33.32h-2.78zM1771.22 931.25h2.78v22.21h-2.78zM1773.99 928.47h2.78v22.21h-2.78zM1776.77 928.47h2.78v22.21h-2.78zM1779.55 928.47h2.78v22.21h-2.78zM1782.32 931.25h2.78v36.09h-2.78zM1785.1 917.36h2.78v47.2h-2.78zM1787.88 917.36h2.78v47.2h-2.78zM1790.65 925.69h2.78v36.09h-2.78zM1793.43 928.47h2.78v33.32h-2.78zM1796.21 928.47h2.78v38.87h-2.78zM1798.98 928.47h2.78v38.87h-2.78zM1801.76 936.8h2.78v27.76h-2.78zM1804.54 934.02h2.78v33.32h-2.78zM1807.31 931.25h2.78v41.65h-2.78zM1810.09 925.69h2.78v47.2h-2.78zM1812.86 925.69h2.78v41.65h-2.78zM1815.64 911.81h2.78v55.53h-2.78zM1818.42 934.02h2.78v30.54h-2.78zM1821.19 934.02h2.78v27.76h-2.78zM1823.97 934.02h2.78v27.76h-2.78zM1826.75 911.81h2.78v72.19h-2.78zM1829.52 911.81h2.78v72.19h-2.78zM1832.3 936.8h2.78v30.54h-2.78zM1835.08 936.8h2.78v30.54h-2.78zM1837.85 934.02h2.78v30.54h-2.78zM1840.63 931.25h2.78v36.09h-2.78zM1843.4 936.8h2.78v30.54h-2.78zM1846.18 928.47h2.78v33.32h-2.78zM1848.96 922.92h2.78v36.09h-2.78zM1851.73 914.59h2.78v44.42h-2.78zM1854.51 914.59h2.78v47.2h-2.78zM1857.29 928.47h2.78v33.32h-2.78zM1860.06 928.47h2.78v30.54h-2.78zM1862.84 928.47h2.78v33.32h-2.78zM1865.62 925.69h2.78v30.54h-2.78zM1868.39 922.92h2.78v36.09h-2.78zM1871.17 925.69h2.78v27.76h-2.78zM1873.95 931.25h2.78v27.76h-2.78zM1876.72 928.47h2.78v33.32h-2.78zM1879.5 928.47h2.78v33.32h-2.78zM1882.27 925.69h2.78v41.65h-2.78zM1885.05 928.47h2.78v38.87h-2.78zM1887.83 934.02h2.78v44.42h-2.78zM1890.6 931.25h2.78v47.2h-2.78zM1893.38 928.47h2.78v33.32h-2.78zM1896.16 931.25h2.78v38.87h-2.78zM1898.93 917.36h2.78v52.75h-2.78zM1901.71 914.59h2.78v63.86h-2.78zM1904.49 931.25h2.78v47.2h-2.78zM1907.26 931.25h2.78v27.76h-2.78zM1910.04 934.02h2.78v24.99h-2.78zM1912.81 925.69h2.78v30.54h-2.78zM1915.59 928.47h2.78v44.42h-2.78zM1918.37 931.25h2.78v41.65h-2.78zM1921.14 928.47h2.78v33.32h-2.78zM1923.92 928.47h2.78v33.32h-2.78zM1926.7 931.25h2.78v30.54h-2.78zM1929.47 928.47h2.78v24.99h-2.78zM1932.25 925.69h2.78v36.09h-2.78zM1935.03 925.69h2.78v36.09h-2.78zM1937.8 925.69h2.78v30.54h-2.78zM1940.58 925.69h2.78v27.76h-2.78zM1943.36 931.25h2.78v22.21h-2.78zM1946.13 928.47h2.78v27.76h-2.78zM1948.91 928.47h2.78v30.54h-2.78zM1951.68 931.25h2.78v30.54h-2.78zM1954.46 928.47h2.78v38.87h-2.78zM1957.24 928.47h2.78v41.65h-2.78zM1960.01 922.92h2.78v30.54h-2.78zM1962.79 928.47h2.78v27.76h-2.78zM1965.57 931.25h2.78v27.76h-2.78zM1968.34 925.69h2.78v27.76h-2.78zM1971.12 925.69h2.78v27.76h-2.78z"/>
</g>
<g id="curve-c">
<path fill="#A6CDF4" d="M174.79 489.8h2.78v2.78h-2.78zM177.56 495.35h2.78v2.78h-2.78zM185.89 495.35h2.78v2.78h-2.78zM188.67 495.35h2.78v2.78h-2.78zM194.22 487.02h2.78v2.78h-2.78zM194.22 500.9h2.78v2.78h-2.78zM197 489.8h2.78v2.78h-2.78zM197 503.68h2.78v2.78h-2.78zM202.55 506.46h2.78v2.78h-2.78zM205.33 495.35h2.78v2.78h-2.78zM205.33 509.23h2.78v2.78h-2.78zM210.88 512.01h2.78v2.78h-2.78zM213.66 500.9h2.78v2.78h-2.78zM213.66 512.01h2.78v2.78h-2.78zM216.43 500.9h2.78v2.78h-2.78zM230.32 500.9h2.78v2.78h-2.78zM238.65 514.79h2.78v2.78h-2.78zM244.2 506.46h2.78v2.78h-2.78zM249.75 506.46h2.78v2.78h-2.78zM274.74 517.56h2.78v2.78h-2.78zM283.07 523.12h2.78v2.78h-2.78zM291.4 514.79h2.78v2.78h-2.78zM294.17 514.79h2.78v2.78h-2.78zM302.5 523.12h2.78v2.78h-2.78zM308.06 512.01h2.78v2.78h-2.78zM308.06 523.12h2.78v2.78h-2.78zM316.38 520.34h2.78v2.78h-2.78zM335.82 512.01h2.78v2.78h-2.78zM346.93 520.34h2.78v2.78h-2.78zM352.48 503.68h2.78v2.78h-2.78zM355.25 503.68h2.78v2.78h-2.78zM360.81 500.9h2.78v2.78h-2.78zM363.58 500.9h2.78v2.78h-2.78zM366.36 512.01h2.78v2.78h-2.78zM371.91 506.46h2.78v2.78h-2.78zM383.02 512.01h2.78v2.78h-2.78zM385.79 523.12h2.78v2.78h-2.78zM396.9 523.12h2.78v2.78h-2.78zM399.68 523.12h2.78v2.78h-2.78zM405.23 523.12h2.78v2.78h-2.78zM410.78 512.01h2.78v2.78h-2.78zM413.56 523.12h2.78v2.78h-2.78zM416.34 525.89h2.78v2.78h-2.78zM424.66 528.67h2.78v2.78h-2.78zM432.99 517.56h2.78v2.78h-2.78zM444.1 525.89h2.78v2.78h-2.78zM452.43 514.79h2.78v2.78h-2.78zM455.2 525.89h2.78v2.78h-2.78zM457.98 514.79h2.78v2.78h-2.78zM460.76 514.79h2.78v2.78h-2.78zM469.09 517.56h2.78v2.78h-2.78zM480.19 520.34h2.78v2.78h-2.78zM480.19 531.44h2.78v2.78h-2.78zM485.75 520.34h2.78v2.78h-2.78zM510.73 517.56h2.78v2.78h-2.78zM519.06 517.56h2.78v2.78h-2.78zM530.17 520.34h2.78v2.78h-2.78zM530.17 531.44h2.78v2.78h-2.78zM544.05 520.34h2.78v2.78h-2.78zM546.83 520.34h2.78v2.78h-2.78zM549.6 520.34h2.78v2.78h-2.78zM552.38 520.34h2.78v2.78h-2.78zM555.16 520.34h2.78v2.78h-2.78zM555.16 531.44h2.78v2.78h-2.78zM557.93 520.34h2.78v2.78h-2.78zM560.71 520.34h2.78v2.78h-2.78zM563.48 517.56h2.78v2.78h-2.78zM566.26 514.79h2.78v2.78h-2.78zM571.81 514.79h2.78v2.78h-2.78zM574.59 514.79h2.78v2.78h-2.78zM574.59 525.89h2.78v2.78h-2.78zM580.14 495.35h2.78v5.55h-2.78zM582.92 484.25h2.78v2.78h-2.78zM582.92 514.79h2.78v2.78h-2.78zM585.7 503.68h2.78v2.78h-2.78zM588.47 478.69h2.78v2.78h-2.78zM588.47 500.9h2.78v2.78h-2.78zM591.25 481.47h2.78v5.55h-2.78zM596.8 509.23h2.78v2.78h-2.78zM613.46 531.44h2.78v2.78h-2.78zM616.24 523.12h2.78v2.78h-2.78zM619.01 534.22h2.78v2.78h-2.78zM624.57 520.34h2.78v2.78h-2.78zM632.89 517.56h2.78v2.78h-2.78zM655.11 517.56h2.78v2.78h-2.78zM663.43 517.56h2.78v2.78h-2.78zM671.76 528.67h2.78v2.78h-2.78zM674.54 528.67h2.78v2.78h-2.78zM682.87 531.44h2.78v2.78h-2.78zM691.2 517.56h2.78v2.78h-2.78zM707.86 514.79h2.78v2.78h-2.78zM716.19 525.89h2.78v2.78h-2.78zM721.74 517.56h2.78v2.78h-2.78zM721.74 528.67h2.78v2.78h-2.78zM724.52 528.67h2.78v2.78h-2.78zM727.29 517.56h2.78v2.78h-2.78zM727.29 528.67h2.78v2.78h-2.78zM730.07 514.79h2.78v2.78h-2.78zM732.84 514.79h2.78v2.78h-2.78zM732.84 525.89h2.78v2.78h-2.78zM735.62 525.89h2.78v2.78h-2.78zM752.28 525.89h2.78v2.78h-2.78zM757.83 525.89h2.78v2.78h-2.78zM760.61 525.89h2.78v2.78h-2.78zM766.16 512.01h2.78v2.78h-2.78zM768.94 500.9h2.78v2.78h-2.78zM771.71 487.02h2.78v2.78h-2.78zM771.71 514.79h2.78v2.78h-2.78zM774.49 470.36h2.78v5.55h-2.78zM774.49 503.68h2.78v2.78h-2.78zM777.27 464.81h2.78v2.78h-2.78zM782.82 492.58h2.78v2.78h-2.78zM791.15 498.13h2.78v2.78h-2.78zM793.93 506.46h2.78v2.78h-2.78zM793.93 520.34h2.78v2.78h-2.78zM805.03 517.56h2.78v2.78h-2.78zM807.81 528.67h2.78v2.78h-2.78zM816.14 528.67h2.78v2.78h-2.78zM821.69 525.89h2.78v2.78h-2.78zM824.47 506.46h2.78v2.78h-2.78zM827.24 489.8h2.78v8.33h-2.78zM830.02 467.59h2.78v2.78h-2.78zM832.8 459.26h2.78v2.78h-2.78zM832.8 498.13h2.78v2.78h-2.78zM835.57 484.25h2.78v5.55h-2.78zM838.35 509.23h2.78v2.78h-2.78zM841.12 478.69h2.78v2.78h-2.78zM843.9 503.68h2.78v2.78h-2.78zM843.9 528.67h2.78v2.78h-2.78zM846.68 514.79h2.78v2.78h-2.78zM849.45 517.56h2.78v2.78h-2.78zM849.45 528.67h2.78v2.78h-2.78zM860.56 528.67h2.78v2.78h-2.78zM877.22 520.34h2.78v2.78h-2.78zM879.99 534.22h2.78v2.78h-2.78zM888.32 534.22h2.78v2.78h-2.78zM896.65 523.12h2.78v2.78h-2.78zM899.43 531.44h2.78v2.78h-2.78zM904.98 520.34h2.78v2.78h-2.78zM904.98 531.44h2.78v2.78h-2.78zM913.31 520.34h2.78v2.78h-2.78zM913.31 531.44h2.78v2.78h-2.78zM938.3 512.01h2.78v2.78h-2.78zM941.07 500.9h2.78v2.78h-2.78zM943.85 517.56h2.78v2.78h-2.78zM946.63 514.79h2.78v5.55h-2.78zM949.4 525.89h2.78v2.78h-2.78zM952.18 512.01h2.78v2.78h-2.78zM954.96 520.34h2.78v2.78h-2.78zM974.39 531.44h2.78v2.78h-2.78zM979.94 534.22h2.78v2.78h-2.78zM985.5 525.89h2.78v2.78h-2.78zM988.27 537h2.78v2.78h-2.78zM991.05 539.77h2.78v2.78h-2.78zM999.38 525.89h2.78v2.78h-2.78zM1004.93 534.22h2.78v2.78h-2.78zM1013.26 537h2.78v2.78h-2.78zM1016.04 537h2.78v2.78h-2.78zM1018.81 537h2.78v2.78h-2.78zM1032.7 539.77h2.78v2.78h-2.78zM1035.47 528.67h2.78v2.78h-2.78zM1049.35 525.89h2.78v2.78h-2.78zM1052.13 537h2.78v2.78h-2.78zM1057.68 528.67h2.78v2.78h-2.78zM1060.46 539.77h2.78v2.78h-2.78zM1063.24 539.77h2.78v2.78h-2.78zM1071.57 542.55h2.78v2.78h-2.78zM1077.12 539.77h2.78v2.78h-2.78zM1082.67 525.89h2.78v2.78h-2.78zM1091 537h2.78v2.78h-2.78zM1099.33 539.77h2.78v2.78h-2.78zM1102.11 528.67h2.78v2.78h-2.78zM1102.11 539.77h2.78v2.78h-2.78zM1107.66 542.55h2.78v2.78h-2.78zM1113.21 528.67h2.78v2.78h-2.78zM1115.99 525.89h2.78v2.78h-2.78zM1121.54 537h2.78v2.78h-2.78zM1127.09 509.23h2.78v2.78h-2.78zM1127.09 525.89h2.78v2.78h-2.78zM1135.42 512.01h2.78v2.78h-2.78zM1135.42 528.67h2.78v2.78h-2.78zM1138.2 531.44h2.78v2.78h-2.78zM1152.08 525.89h2.78v2.78h-2.78zM1152.08 537h2.78v2.78h-2.78zM1160.41 528.67h2.78v2.78h-2.78zM1168.74 539.77h2.78v2.78h-2.78zM1177.07 528.67h2.78v2.78h-2.78zM1182.62 528.67h2.78v2.78h-2.78zM1182.62 542.55h2.78v2.78h-2.78zM1196.5 539.77h2.78v2.78h-2.78zM1199.28 539.77h2.78v2.78h-2.78zM1202.06 528.67h2.78v2.78h-2.78zM1215.94 517.56h2.78v2.78h-2.78zM1218.71 509.23h2.78v2.78h-2.78zM1221.49 495.35h2.78v2.78h-2.78zM1221.49 523.12h2.78v5.55h-2.78zM1224.27 514.79h2.78v2.78h-2.78zM1227.04 500.9h2.78v5.55h-2.78zM1229.82 503.68h2.78v5.55h-2.78zM1232.6 489.8h2.78v2.78h-2.78zM1235.37 500.9h2.78v2.78h-2.78zM1235.37 523.12h2.78v2.78h-2.78zM1238.15 512.01h2.78v2.78h-2.78zM1246.48 523.12h2.78v2.78h-2.78zM1246.48 534.22h2.78v2.78h-2.78zM1252.03 537h2.78v2.78h-2.78zM1265.91 528.67h2.78v2.78h-2.78zM1268.69 528.67h2.78v2.78h-2.78zM1274.24 528.67h2.78v2.78h-2.78zM1282.57 531.44h2.78v2.78h-2.78zM1293.68 542.55h2.78v2.78h-2.78zM1296.45 542.55h2.78v2.78h-2.78zM1302.01 542.55h2.78v2.78h-2.78zM1304.78 531.44h2.78v2.78h-2.78zM1307.56 531.44h2.78v2.78h-2.78zM1310.34 531.44h2.78v2.78h-2.78zM1310.34 542.55h2.78v2.78h-2.78zM1321.44 542.55h2.78v2.78h-2.78zM1326.99 534.22h2.78v2.78h-2.78zM1326.99 545.33h2.78v2.78h-2.78zM1329.77 534.22h2.78v2.78h-2.78zM1338.1 545.33h2.78v2.78h-2.78zM1349.21 545.33h2.78v2.78h-2.78zM1354.76 534.22h2.78v2.78h-2.78zM1354.76 545.33h2.78v2.78h-2.78zM1357.53 534.22h2.78v2.78h-2.78zM1360.31 534.22h2.78v2.78h-2.78zM1360.31 545.33h2.78v2.78h-2.78zM1368.64 545.33h2.78v2.78h-2.78zM1371.42 545.33h2.78v2.78h-2.78zM1376.97 531.44h2.78v2.78h-2.78zM1388.08 531.44h2.78v2.78h-2.78zM1390.85 528.67h2.78v2.78h-2.78zM1390.85 539.77h2.78v2.78h-2.78zM1399.18 537h2.78v2.78h-2.78zM1401.96 534.22h2.78v2.78h-2.78zM1415.84 534.22h2.78v2.78h-2.78zM1421.39 539.77h2.78v2.78h-2.78zM1424.17 528.67h2.78v2.78h-2.78zM1429.72 542.55h2.78v2.78h-2.78zM1432.5 539.77h2.78v2.78h-2.78zM1435.27 525.89h2.78v2.78h-2.78zM1438.05 517.56h2.78v2.78h-2.78zM1440.83 531.44h2.78v5.55h-2.78zM1443.6 523.12h2.78v2.78h-2.78zM1449.16 512.01h2.78v2.78h-2.78zM1449.16 537h2.78v2.78h-2.78zM1468.59 545.33h2.78v2.78h-2.78zM1471.37 545.33h2.78v2.78h-2.78zM1476.92 531.44h2.78v2.78h-2.78zM1482.47 542.55h2.78v2.78h-2.78zM1493.58 545.33h2.78v2.78h-2.78zM1499.13 534.22h2.78v2.78h-2.78zM1507.46 537h2.78v2.78h-2.78zM1524.12 534.22h2.78v2.78h-2.78zM1532.45 537h2.78v2.78h-2.78zM1540.78 537h2.78v2.78h-2.78zM1554.66 534.22h2.78v2.78h-2.78zM1565.76 545.33h2.78v2.78h-2.78zM1571.32 534.22h2.78v2.78h-2.78zM1579.65 545.33h2.78v2.78h-2.78zM1582.42 545.33h2.78v2.78h-2.78zM1585.2 537h2.78v2.78h-2.78zM1587.98 548.1h2.78v2.78h-2.78zM1593.53 534.22h2.78v2.78h-2.78zM1596.31 534.22h2.78v2.78h-2.78zM1599.08 537h2.78v2.78h-2.78zM1601.86 537h2.78v2.78h-2.78zM1601.86 548.1h2.78v2.78h-2.78zM1615.74 545.33h2.78v2.78h-2.78zM1621.29 531.44h2.78v2.78h-2.78zM1626.85 542.55h2.78v2.78h-2.78zM1632.4 542.55h2.78v2.78h-2.78zM1637.95 534.22h2.78v2.78h-2.78zM1649.06 545.33h2.78v2.78h-2.78zM1665.72 548.1h2.78v2.78h-2.78zM1676.82 537h2.78v2.78h-2.78zM1676.82 548.1h2.78v2.78h-2.78zM1679.6 537h2.78v2.78h-2.78zM1693.48 534.22h2.78v2.78h-2.78zM1710.14 534.22h2.78v2.78h-2.78zM1721.24 545.33h2.78v2.78h-2.78zM1732.35 545.33h2.78v2.78h-2.78zM1746.23 534.22h2.78v2.78h-2.78zM1749.01 534.22h2.78v2.78h-2.78zM1754.56 548.1h2.78v2.78h-2.78zM1757.34 537h2.78v2.78h-2.78zM1762.89 537h2.78v2.78h-2.78zM1768.44 539.77h2.78v2.78h-2.78zM1771.22 539.77h2.78v2.78h-2.78zM1773.99 550.88h2.78v2.78h-2.78zM1779.55 534.22h2.78v2.78h-2.78zM1793.43 548.1h2.78v2.78h-2.78zM1796.21 545.33h2.78v2.78h-2.78zM1798.98 545.33h2.78v2.78h-2.78zM1815.64 545.33h2.78v2.78h-2.78zM1832.3 542.55h2.78v2.78h-2.78zM1835.08 542.55h2.78v2.78h-2.78zM1837.85 542.55h2.78v2.78h-2.78zM1848.96 545.33h2.78v2.78h-2.78zM1857.29 548.1h2.78v2.78h-2.78zM1860.06 537h2.78v2.78h-2.78zM1862.84 545.33h2.78v2.78h-2.78zM1868.39 534.22h2.78v2.78h-2.78zM1871.17 545.33h2.78v2.78h-2.78zM1873.95 534.22h2.78v2.78h-2.78zM1876.72 537h2.78v2.78h-2.78zM1885.05 548.1h2.78v2.78h-2.78zM1893.38 531.44h2.78v2.78h-2.78zM1898.93 534.22h2.78v2.78h-2.78zM1898.93 545.33h2.78v2.78h-2.78zM1904.49 534.22h2.78v2.78h-2.78zM1910.04 534.22h2.78v2.78h-2.78zM1918.37 548.1h2.78v2.78h-2.78zM1932.25 534.22h2.78v2.78h-2.78zM1935.03 545.33h2.78v2.78h-2.78zM1940.58 534.22h2.78v2.78h-2.78zM1954.46 531.44h2.78v2.78h-2.78zM1957.24 542.55h2.78v2.78h-2.78zM1971.12 534.22h2.78v2.78h-2.78z"/>
<path fill="#4C9BE9" d="M180.34 484.25h2.78v2.78h-2.78zM188.67 484.25h2.78v2.78h-2.78zM199.78 492.58h2.78v2.78h-2.78zM202.55 495.35h2.78v2.78h-2.78zM208.11 509.23h2.78v2.78h-2.78zM221.99 500.9h2.78v2.78h-2.78zM233.09 512.01h2.78v2.78h-2.78zM235.87 503.68h2.78v2.78h-2.78zM235.87 512.01h2.78v2.78h-2.78zM238.65 503.68h2.78v2.78h-2.78zM246.97 506.46h2.78v2.78h-2.78zM271.96 517.56h2.78v2.78h-2.78zM277.52 517.56h2.78v2.78h-2.78zM280.29 509.23h2.78v2.78h-2.78zM280.29 520.34h2.78v2.78h-2.78zM283.07 509.23h2.78v2.78h-2.78zM288.62 514.79h2.78v2.78h-2.78zM288.62 523.12h2.78v2.78h-2.78zM296.95 514.79h2.78v2.78h-2.78zM299.73 523.12h2.78v2.78h-2.78zM305.28 523.12h2.78v2.78h-2.78zM310.83 512.01h2.78v2.78h-2.78zM330.27 509.23h2.78v2.78h-2.78zM338.6 512.01h2.78v2.78h-2.78zM344.15 520.34h2.78v2.78h-2.78zM349.7 506.46h2.78v2.78h-2.78zM349.7 517.56h2.78v2.78h-2.78zM352.48 517.56h2.78v2.78h-2.78zM358.03 500.9h2.78v2.78h-2.78zM369.14 514.79h2.78v2.78h-2.78zM374.69 517.56h2.78v2.78h-2.78zM377.47 509.23h2.78v2.78h-2.78zM377.47 520.34h2.78v2.78h-2.78zM380.24 512.01h2.78v2.78h-2.78zM383.02 523.12h2.78v2.78h-2.78zM388.57 514.79h2.78v2.78h-2.78zM388.57 523.12h2.78v2.78h-2.78zM391.35 514.79h2.78v2.78h-2.78zM394.12 514.79h2.78v2.78h-2.78zM396.9 514.79h2.78v2.78h-2.78zM399.68 514.79h2.78v2.78h-2.78zM408.01 512.01h2.78v2.78h-2.78zM408.01 523.12h2.78v2.78h-2.78zM410.78 523.12h2.78v2.78h-2.78zM413.56 514.79h2.78v2.78h-2.78zM416.34 514.79h2.78v2.78h-2.78zM419.11 514.79h2.78v2.78h-2.78zM421.89 514.79h2.78v2.78h-2.78zM430.22 517.56h2.78v2.78h-2.78zM438.55 525.89h2.78v2.78h-2.78zM441.32 517.56h2.78v2.78h-2.78zM449.65 514.79h2.78v2.78h-2.78zM471.86 531.44h2.78v2.78h-2.78zM488.52 520.34h2.78v2.78h-2.78zM494.07 528.67h2.78v2.78h-2.78zM499.63 520.34h2.78v2.78h-2.78zM505.18 525.89h2.78v2.78h-2.78zM513.51 525.89h2.78v2.78h-2.78zM516.29 517.56h2.78v2.78h-2.78zM527.39 520.34h2.78v2.78h-2.78zM532.94 520.34h2.78v2.78h-2.78zM541.27 531.44h2.78v2.78h-2.78zM552.38 531.44h2.78v2.78h-2.78zM571.81 525.89h2.78v2.78h-2.78zM577.37 512.01h2.78v2.78h-2.78zM580.14 500.9h2.78v5.55h-2.78zM582.92 487.02h2.78v2.78h-2.78zM582.92 512.01h2.78v2.78h-2.78zM585.7 498.13h2.78v5.55h-2.78zM588.47 498.13h2.78v2.78h-2.78zM591.25 487.02h2.78v2.78h-2.78zM591.25 512.01h2.78v2.78h-2.78zM594.02 498.13h2.78v2.78h-2.78zM594.02 520.34h2.78v2.78h-2.78zM596.8 512.01h2.78v2.78h-2.78zM599.58 517.56h2.78v2.78h-2.78zM621.79 523.12h2.78v2.78h-2.78zM624.57 531.44h2.78v2.78h-2.78zM638.45 525.89h2.78v2.78h-2.78zM644 525.89h2.78v2.78h-2.78zM657.88 525.89h2.78v2.78h-2.78zM660.66 525.89h2.78v2.78h-2.78zM666.21 517.56h2.78v2.78h-2.78zM668.99 517.56h2.78v2.78h-2.78zM677.32 517.56h2.78v2.78h-2.78zM680.09 531.44h2.78v2.78h-2.78zM682.87 520.34h2.78v2.78h-2.78zM685.65 528.67h2.78v2.78h-2.78zM699.53 517.56h2.78v2.78h-2.78zM702.3 525.89h2.78v2.78h-2.78zM705.08 514.79h2.78v2.78h-2.78zM705.08 525.89h2.78v2.78h-2.78zM718.96 517.56h2.78v2.78h-2.78zM738.4 517.56h2.78v2.78h-2.78zM743.95 520.34h2.78v2.78h-2.78zM749.5 517.56h2.78v2.78h-2.78zM749.5 528.67h2.78v2.78h-2.78zM771.71 489.8h2.78v2.78h-2.78zM774.49 475.92h2.78v2.78h-2.78zM774.49 500.9h2.78v2.78h-2.78zM777.27 489.8h2.78v2.78h-2.78zM780.04 478.69h2.78v2.78h-2.78zM782.82 467.59h2.78v2.78h-2.78zM782.82 489.8h2.78v2.78h-2.78zM785.6 473.14h2.78v2.78h-2.78zM785.6 503.68h2.78v2.78h-2.78zM788.37 489.8h2.78v2.78h-2.78zM791.15 500.9h2.78v2.78h-2.78zM791.15 517.56h2.78v2.78h-2.78zM796.7 509.23h2.78v2.78h-2.78zM802.25 514.79h2.78v2.78h-2.78zM818.91 517.56h2.78v2.78h-2.78zM824.47 509.23h2.78v2.78h-2.78zM827.24 520.34h2.78v2.78h-2.78zM830.02 470.36h2.78v2.78h-2.78zM830.02 512.01h2.78v2.78h-2.78zM832.8 492.58h2.78v5.55h-2.78zM835.57 481.47h2.78v2.78h-2.78zM838.35 459.26h2.78v5.55h-2.78zM838.35 503.68h2.78v5.55h-2.78zM841.12 481.47h2.78v8.33h-2.78zM841.12 520.34h2.78v2.78h-2.78zM843.9 506.46h2.78v2.78h-2.78zM843.9 525.89h2.78v2.78h-2.78zM863.34 528.67h2.78v2.78h-2.78zM868.89 520.34h2.78v2.78h-2.78zM874.44 528.67h2.78v2.78h-2.78zM877.22 531.44h2.78v2.78h-2.78zM879.99 523.12h2.78v2.78h-2.78zM885.55 534.22h2.78v2.78h-2.78zM896.65 531.44h2.78v2.78h-2.78zM941.07 523.12h2.78v2.78h-2.78zM943.85 514.79h2.78v2.78h-2.78zM946.63 498.13h2.78v2.78h-2.78zM949.4 503.68h2.78v2.78h-2.78zM949.4 523.12h2.78v2.78h-2.78zM952.18 514.79h2.78v2.78h-2.78zM963.29 523.12h2.78v2.78h-2.78zM966.06 523.12h2.78v2.78h-2.78zM971.62 531.44h2.78v2.78h-2.78zM977.17 531.44h2.78v2.78h-2.78zM979.94 523.12h2.78v2.78h-2.78zM991.05 528.67h2.78v2.78h-2.78zM996.6 537h2.78v2.78h-2.78zM999.38 537h2.78v2.78h-2.78zM1007.71 525.89h2.78v2.78h-2.78zM1007.71 534.22h2.78v2.78h-2.78zM1013.26 525.89h2.78v2.78h-2.78zM1029.92 528.67h2.78v2.78h-2.78zM1035.47 539.77h2.78v2.78h-2.78zM1038.25 531.44h2.78v2.78h-2.78zM1043.8 528.67h2.78v2.78h-2.78zM1054.91 537h2.78v2.78h-2.78zM1071.57 531.44h2.78v2.78h-2.78zM1074.34 539.77h2.78v2.78h-2.78zM1099.33 528.67h2.78v2.78h-2.78zM1124.32 531.44h2.78v2.78h-2.78zM1129.87 520.34h2.78v2.78h-2.78zM1132.65 509.23h2.78v2.78h-2.78zM1132.65 523.12h2.78v2.78h-2.78zM1140.98 537h2.78v2.78h-2.78zM1143.75 525.89h2.78v2.78h-2.78zM1149.3 537h2.78v2.78h-2.78zM1157.63 537h2.78v2.78h-2.78zM1163.19 539.77h2.78v2.78h-2.78zM1165.96 531.44h2.78v2.78h-2.78zM1171.52 528.67h2.78v2.78h-2.78zM1185.4 531.44h2.78v2.78h-2.78zM1185.4 542.55h2.78v2.78h-2.78zM1188.17 531.44h2.78v2.78h-2.78zM1190.95 542.55h2.78v2.78h-2.78zM1193.73 539.77h2.78v2.78h-2.78zM1199.28 531.44h2.78v2.78h-2.78zM1204.83 525.89h2.78v2.78h-2.78zM1204.83 537h2.78v2.78h-2.78zM1207.61 525.89h2.78v2.78h-2.78zM1207.61 537h2.78v2.78h-2.78zM1210.39 537h2.78v2.78h-2.78zM1215.94 520.34h2.78v2.78h-2.78zM1218.71 512.01h2.78v2.78h-2.78zM1221.49 498.13h2.78v2.78h-2.78zM1221.49 520.34h2.78v2.78h-2.78zM1227.04 498.13h2.78v2.78h-2.78zM1232.6 514.79h2.78v2.78h-2.78zM1235.37 503.68h2.78v2.78h-2.78zM1238.15 514.79h2.78v2.78h-2.78zM1243.7 523.12h2.78v2.78h-2.78zM1249.26 537h2.78v2.78h-2.78zM1260.36 537h2.78v2.78h-2.78zM1263.14 537h2.78v2.78h-2.78zM1288.12 534.22h2.78v2.78h-2.78zM1290.9 534.22h2.78v2.78h-2.78zM1302.01 531.44h2.78v2.78h-2.78zM1340.88 545.33h2.78v2.78h-2.78zM1346.43 545.33h2.78v2.78h-2.78zM1349.21 537h2.78v2.78h-2.78zM1351.98 545.33h2.78v2.78h-2.78zM1363.09 542.55h2.78v2.78h-2.78zM1365.86 542.55h2.78v2.78h-2.78zM1374.19 542.55h2.78v2.78h-2.78zM1385.3 542.55h2.78v2.78h-2.78zM1393.63 528.67h2.78v2.78h-2.78zM1401.96 523.12h2.78v2.78h-2.78zM1404.73 520.34h2.78v2.78h-2.78zM1404.73 531.44h2.78v2.78h-2.78zM1407.51 517.56h2.78v2.78h-2.78zM1410.29 517.56h2.78v2.78h-2.78zM1421.39 528.67h2.78v2.78h-2.78zM1435.27 528.67h2.78v2.78h-2.78zM1438.05 520.34h2.78v2.78h-2.78zM1438.05 537h2.78v2.78h-2.78zM1440.83 512.01h2.78v2.78h-2.78zM1440.83 528.67h2.78v2.78h-2.78zM1443.6 520.34h2.78v2.78h-2.78zM1449.16 534.22h2.78v2.78h-2.78zM1451.93 520.34h2.78v2.78h-2.78zM1451.93 539.77h2.78v2.78h-2.78zM1460.26 534.22h2.78v2.78h-2.78zM1482.47 534.22h2.78v2.78h-2.78zM1488.03 542.55h2.78v2.78h-2.78zM1496.35 534.22h2.78v2.78h-2.78zM1504.68 537h2.78v2.78h-2.78zM1513.01 537h2.78v2.78h-2.78zM1518.57 548.1h2.78v2.78h-2.78zM1521.34 548.1h2.78v2.78h-2.78zM1526.9 537h2.78v2.78h-2.78zM1529.67 548.1h2.78v2.78h-2.78zM1540.78 548.1h2.78v2.78h-2.78zM1562.99 545.33h2.78v2.78h-2.78zM1574.09 534.22h2.78v2.78h-2.78zM1576.87 534.22h2.78v2.78h-2.78zM1579.65 534.22h2.78v2.78h-2.78zM1607.41 539.77h2.78v2.78h-2.78zM1607.41 550.88h2.78v2.78h-2.78zM1612.96 537h2.78v2.78h-2.78zM1615.74 534.22h2.78v2.78h-2.78zM1621.29 542.55h2.78v2.78h-2.78zM1635.17 534.22h2.78v2.78h-2.78zM1635.17 545.33h2.78v2.78h-2.78zM1640.73 537h2.78v2.78h-2.78zM1643.5 548.1h2.78v2.78h-2.78zM1651.83 545.33h2.78v2.78h-2.78zM1657.39 548.1h2.78v2.78h-2.78zM1662.94 548.1h2.78v2.78h-2.78zM1668.49 537h2.78v2.78h-2.78zM1671.27 537h2.78v2.78h-2.78zM1682.37 545.33h2.78v2.78h-2.78zM1707.36 545.33h2.78v2.78h-2.78zM1712.91 534.22h2.78v2.78h-2.78zM1712.91 542.55h2.78v2.78h-2.78zM1715.69 542.55h2.78v2.78h-2.78zM1724.02 534.22h2.78v2.78h-2.78zM1726.8 542.55h2.78v2.78h-2.78zM1729.57 534.22h2.78v2.78h-2.78zM1751.78 545.33h2.78v2.78h-2.78zM1754.56 537h2.78v2.78h-2.78zM1757.34 548.1h2.78v2.78h-2.78zM1776.77 548.1h2.78v2.78h-2.78zM1785.1 537h2.78v2.78h-2.78zM1787.88 537h2.78v2.78h-2.78zM1787.88 545.33h2.78v2.78h-2.78zM1790.65 548.1h2.78v2.78h-2.78zM1793.43 534.22h2.78v2.78h-2.78zM1798.98 534.22h2.78v2.78h-2.78zM1801.76 545.33h2.78v2.78h-2.78zM1807.31 545.33h2.78v2.78h-2.78zM1810.09 545.33h2.78v2.78h-2.78zM1818.42 534.22h2.78v2.78h-2.78zM1821.19 534.22h2.78v2.78h-2.78zM1823.97 545.33h2.78v2.78h-2.78zM1826.75 534.22h2.78v2.78h-2.78zM1854.51 537h2.78v2.78h-2.78zM1857.29 537h2.78v2.78h-2.78zM1871.17 534.22h2.78v2.78h-2.78zM1876.72 548.1h2.78v2.78h-2.78zM1882.27 548.1h2.78v2.78h-2.78zM1893.38 542.55h2.78v2.78h-2.78zM1896.16 534.22h2.78v2.78h-2.78zM1901.71 534.22h2.78v2.78h-2.78zM1910.04 545.33h2.78v2.78h-2.78zM1912.81 534.22h2.78v2.78h-2.78zM1912.81 545.33h2.78v2.78h-2.78zM1918.37 537h2.78v2.78h-2.78zM1921.14 537h2.78v2.78h-2.78zM1935.03 534.22h2.78v2.78h-2.78zM1937.8 534.22h2.78v2.78h-2.78zM1937.8 545.33h2.78v2.78h-2.78zM1946.13 537h2.78v2.78h-2.78zM1951.68 545.33h2.78v2.78h-2.78zM1954.46 542.55h2.78v2.78h-2.78z"/>
<path fill="#0070E0" d="M174.79 487.02h2.78v2.78h-2.78zM177.56 484.25h2.78v11.11h-2.78zM180.34 487.02h2.78v11.11h-2.78zM183.12 484.25h2.78v11.11h-2.78zM185.89 484.25h2.78v11.11h-2.78zM188.67 487.02h2.78v8.33h-2.78zM191.45 487.02h2.78v11.11h-2.78zM194.22 489.8h2.78v11.11h-2.78zM197 492.58h2.78v11.11h-2.78zM199.78 495.35h2.78v11.11h-2.78zM202.55 498.13h2.78v8.33h-2.78zM205.33 498.13h2.78v11.11h-2.78zM208.11 498.13h2.78v11.11h-2.78zM210.88 500.9h2.78v11.11h-2.78zM213.66 503.68h2.78v8.33h-2.78zM216.43 503.68h2.78v11.11h-2.78zM219.21 503.68h2.78v11.11h-2.78zM221.99 503.68h2.78v8.33h-2.78zM224.76 500.9h2.78v11.11h-2.78zM227.54 500.9h2.78v11.11h-2.78zM230.32 503.68h2.78v8.33h-2.78zM233.09 503.68h2.78v8.33h-2.78zM235.87 506.46h2.78v5.55h-2.78zM238.65 506.46h2.78v8.33h-2.78zM241.42 506.46h2.78v11.11h-2.78zM244.2 509.23h2.78v8.33h-2.78zM246.97 509.23h2.78v11.11h-2.78zM249.75 509.23h2.78v16.66h-2.78zM252.53 514.79h2.78v11.11h-2.78zM255.3 512.01h2.78v11.11h-2.78zM258.08 512.01h2.78v11.11h-2.78zM260.86 512.01h2.78v8.33h-2.78zM263.63 512.01h2.78v8.33h-2.78zM266.41 512.01h2.78v8.33h-2.78zM269.19 512.01h2.78v8.33h-2.78zM271.96 509.23h2.78v8.33h-2.78zM274.74 509.23h2.78v8.33h-2.78zM277.52 509.23h2.78v8.33h-2.78zM280.29 512.01h2.78v8.33h-2.78zM283.07 512.01h2.78v11.11h-2.78zM285.84 514.79h2.78v11.11h-2.78zM288.62 517.56h2.78v5.55h-2.78zM291.4 517.56h2.78v8.33h-2.78zM294.17 517.56h2.78v8.33h-2.78zM296.95 517.56h2.78v8.33h-2.78zM299.73 514.79h2.78v8.33h-2.78zM302.5 514.79h2.78v8.33h-2.78zM305.28 514.79h2.78v8.33h-2.78zM308.06 514.79h2.78v8.33h-2.78zM310.83 514.79h2.78v8.33h-2.78zM313.61 512.01h2.78v11.11h-2.78zM316.38 509.23h2.78v11.11h-2.78zM319.16 506.46h2.78v11.11h-2.78zM321.94 506.46h2.78v11.11h-2.78zM324.71 509.23h2.78v8.33h-2.78zM327.49 509.23h2.78v11.11h-2.78zM330.27 512.01h2.78v8.33h-2.78zM333.04 512.01h2.78v11.11h-2.78zM335.82 514.79h2.78v8.33h-2.78zM338.6 514.79h2.78v8.33h-2.78zM341.37 512.01h2.78v11.11h-2.78zM344.15 512.01h2.78v8.33h-2.78zM346.93 509.23h2.78v11.11h-2.78zM349.7 509.23h2.78v8.33h-2.78zM352.48 506.46h2.78v11.11h-2.78zM355.25 506.46h2.78v8.33h-2.78zM358.03 503.68h2.78v8.33h-2.78zM360.81 503.68h2.78v8.33h-2.78zM363.58 503.68h2.78v8.33h-2.78zM366.36 503.68h2.78v8.33h-2.78zM369.14 506.46h2.78v8.33h-2.78zM371.91 509.23h2.78v8.33h-2.78zM374.69 509.23h2.78v8.33h-2.78zM377.47 512.01h2.78v8.33h-2.78zM380.24 514.79h2.78v11.11h-2.78zM383.02 514.79h2.78v8.33h-2.78zM385.79 514.79h2.78v8.33h-2.78zM388.57 517.56h2.78v5.55h-2.78zM391.35 517.56h2.78v8.33h-2.78zM394.12 517.56h2.78v8.33h-2.78zM396.9 517.56h2.78v5.55h-2.78zM399.68 517.56h2.78v5.55h-2.78zM402.45 514.79h2.78v8.33h-2.78zM405.23 514.79h2.78v8.33h-2.78zM408.01 514.79h2.78v8.33h-2.78zM410.78 514.79h2.78v8.33h-2.78zM413.56 517.56h2.78v5.55h-2.78zM416.34 517.56h2.78v8.33h-2.78zM419.11 517.56h2.78v8.33h-2.78zM421.89 517.56h2.78v11.11h-2.78zM424.66 517.56h2.78v11.11h-2.78zM427.44 517.56h2.78v11.11h-2.78zM430.22 520.34h2.78v8.33h-2.78zM432.99 520.34h2.78v8.33h-2.78zM435.77 517.56h2.78v11.11h-2.78zM438.55 517.56h2.78v8.33h-2.78zM441.32 520.34h2.78v8.33h-2.78zM444.1 517.56h2.78v8.33h-2.78zM446.88 514.79h2.78v11.11h-2.78zM449.65 517.56h2.78v11.11h-2.78zM452.43 517.56h2.78v11.11h-2.78zM455.2 517.56h2.78v8.33h-2.78zM457.98 517.56h2.78v11.11h-2.78zM460.76 517.56h2.78v11.11h-2.78zM463.53 517.56h2.78v11.11h-2.78zM466.31 517.56h2.78v11.11h-2.78zM469.09 520.34h2.78v11.11h-2.78zM471.86 520.34h2.78v11.11h-2.78zM474.64 523.12h2.78v11.11h-2.78zM477.42 523.12h2.78v11.11h-2.78zM480.19 523.12h2.78v8.33h-2.78zM482.97 520.34h2.78v11.11h-2.78zM485.75 523.12h2.78v8.33h-2.78zM488.52 523.12h2.78v8.33h-2.78zM491.3 520.34h2.78v11.11h-2.78zM494.07 520.34h2.78v8.33h-2.78zM496.85 520.34h2.78v11.11h-2.78zM499.63 523.12h2.78v8.33h-2.78zM502.4 517.56h2.78v11.11h-2.78zM505.18 517.56h2.78v8.33h-2.78zM507.96 517.56h2.78v11.11h-2.78zM510.73 520.34h2.78v8.33h-2.78zM513.51 517.56h2.78v8.33h-2.78zM516.29 520.34h2.78v8.33h-2.78zM519.06 520.34h2.78v8.33h-2.78zM521.84 520.34h2.78v8.33h-2.78zM524.61 520.34h2.78v8.33h-2.78zM527.39 523.12h2.78v8.33h-2.78zM530.17 523.12h2.78v8.33h-2.78zM532.94 523.12h2.78v8.33h-2.78zM535.72 523.12h2.78v8.33h-2.78zM538.5 523.12h2.78v8.33h-2.78zM541.27 523.12h2.78v8.33h-2.78zM544.05 523.12h2.78v8.33h-2.78zM546.83 523.12h2.78v8.33h-2.78zM549.6 523.12h2.78v8.33h-2.78zM552.38 523.12h2.78v8.33h-2.78zM555.16 523.12h2.78v8.33h-2.78zM557.93 523.12h2.78v8.33h-2.78zM560.71 523.12h2.78v8.33h-2.78zM563.48 520.34h2.78v11.11h-2.78zM566.26 517.56h2.78v11.11h-2.78zM569.04 514.79h2.78v13.88h-2.78zM571.81 517.56h2.78v8.33h-2.78zM574.59 517.56h2.78v8.33h-2.78zM577.37 514.79h2.78v11.11h-2.78zM580.14 506.46h2.78v16.66h-2.78zM582.92 489.8h2.78v22.21h-2.78zM585.7 481.47h2.78v16.66h-2.78zM588.47 481.47h2.78v16.66h-2.78zM591.25 489.8h2.78v22.21h-2.78zM594.02 500.9h2.78v19.43h-2.78zM596.8 514.79h2.78v11.11h-2.78zM599.58 520.34h2.78v8.33h-2.78zM602.35 520.34h2.78v11.11h-2.78zM605.13 520.34h2.78v11.11h-2.78zM607.91 520.34h2.78v11.11h-2.78zM610.68 520.34h2.78v11.11h-2.78zM613.46 520.34h2.78v11.11h-2.78zM616.24 525.89h2.78v8.33h-2.78zM619.01 525.89h2.78v8.33h-2.78zM621.79 525.89h2.78v11.11h-2.78zM624.57 523.12h2.78v8.33h-2.78zM627.34 520.34h2.78v11.11h-2.78zM630.12 520.34h2.78v8.33h-2.78zM632.89 520.34h2.78v8.33h-2.78zM635.67 517.56h2.78v11.11h-2.78zM638.45 517.56h2.78v8.33h-2.78zM641.22 517.56h2.78v11.11h-2.78zM644 517.56h2.78v8.33h-2.78zM646.78 520.34h2.78v11.11h-2.78zM649.55 520.34h2.78v11.11h-2.78zM652.33 520.34h2.78v11.11h-2.78zM655.11 520.34h2.78v8.33h-2.78zM657.88 517.56h2.78v8.33h-2.78zM660.66 517.56h2.78v8.33h-2.78zM663.43 520.34h2.78v8.33h-2.78zM666.21 520.34h2.78v8.33h-2.78zM668.99 520.34h2.78v8.33h-2.78zM671.76 517.56h2.78v11.11h-2.78zM674.54 517.56h2.78v11.11h-2.78zM677.32 520.34h2.78v11.11h-2.78zM680.09 520.34h2.78v11.11h-2.78zM682.87 523.12h2.78v8.33h-2.78zM685.65 520.34h2.78v8.33h-2.78zM688.42 520.34h2.78v8.33h-2.78zM691.2 520.34h2.78v8.33h-2.78zM693.98 517.56h2.78v11.11h-2.78zM696.75 517.56h2.78v11.11h-2.78zM699.53 520.34h2.78v8.33h-2.78zM702.3 517.56h2.78v8.33h-2.78zM705.08 517.56h2.78v8.33h-2.78zM707.86 517.56h2.78v8.33h-2.78zM710.63 514.79h2.78v11.11h-2.78zM713.41 514.79h2.78v11.11h-2.78zM716.19 517.56h2.78v8.33h-2.78zM718.96 520.34h2.78v8.33h-2.78zM721.74 520.34h2.78v8.33h-2.78zM724.52 520.34h2.78v8.33h-2.78zM727.29 520.34h2.78v8.33h-2.78zM730.07 517.56h2.78v11.11h-2.78zM732.84 517.56h2.78v8.33h-2.78zM735.62 517.56h2.78v8.33h-2.78zM738.4 520.34h2.78v8.33h-2.78zM741.17 520.34h2.78v11.11h-2.78zM743.95 523.12h2.78v8.33h-2.78zM746.73 520.34h2.78v11.11h-2.78zM749.5 520.34h2.78v8.33h-2.78zM752.28 517.56h2.78v8.33h-2.78zM755.06 517.56h2.78v8.33h-2.78zM757.83 517.56h2.78v8.33h-2.78zM760.61 514.79h2.78v11.11h-2.78zM763.39 514.79h2.78v11.11h-2.78zM766.16 514.79h2.78v8.33h-2.78zM768.94 503.68h2.78v19.43h-2.78zM771.71 492.58h2.78v22.21h-2.78zM774.49 478.69h2.78v22.21h-2.78zM777.27 467.59h2.78v22.21h-2.78zM780.04 464.81h2.78v13.88h-2.78zM782.82 470.36h2.78v19.43h-2.78zM785.6 475.92h2.78v27.76h-2.78zM788.37 492.58h2.78v22.21h-2.78zM791.15 503.68h2.78v13.88h-2.78zM793.93 509.23h2.78v11.11h-2.78zM796.7 512.01h2.78v11.11h-2.78zM799.48 514.79h2.78v11.11h-2.78zM802.25 517.56h2.78v11.11h-2.78zM805.03 520.34h2.78v8.33h-2.78zM807.81 520.34h2.78v8.33h-2.78zM810.58 520.34h2.78v11.11h-2.78zM813.36 517.56h2.78v11.11h-2.78zM816.14 517.56h2.78v11.11h-2.78zM818.91 520.34h2.78v8.33h-2.78zM821.69 517.56h2.78v8.33h-2.78zM824.47 512.01h2.78v13.88h-2.78zM827.24 498.13h2.78v22.21h-2.78zM830.02 473.14h2.78v38.87h-2.78zM832.8 462.03h2.78v30.54h-2.78zM835.57 459.26h2.78v22.21h-2.78zM838.35 464.81h2.78v38.87h-2.78zM841.12 489.8h2.78v30.54h-2.78zM843.9 509.23h2.78v16.66h-2.78zM846.68 517.56h2.78v13.88h-2.78zM849.45 520.34h2.78v8.33h-2.78zM852.23 520.34h2.78v8.33h-2.78zM855.01 520.34h2.78v8.33h-2.78zM857.78 520.34h2.78v8.33h-2.78zM860.56 520.34h2.78v8.33h-2.78zM863.34 520.34h2.78v8.33h-2.78zM866.11 520.34h2.78v11.11h-2.78zM868.89 523.12h2.78v8.33h-2.78zM871.66 520.34h2.78v11.11h-2.78zM874.44 520.34h2.78v8.33h-2.78zM877.22 523.12h2.78v8.33h-2.78zM879.99 525.89h2.78v8.33h-2.78zM882.77 525.89h2.78v11.11h-2.78zM885.55 525.89h2.78v8.33h-2.78zM888.32 525.89h2.78v8.33h-2.78zM891.1 525.89h2.78v8.33h-2.78zM893.88 525.89h2.78v8.33h-2.78zM896.65 525.89h2.78v5.55h-2.78zM899.43 523.12h2.78v8.33h-2.78zM902.21 523.12h2.78v8.33h-2.78zM904.98 523.12h2.78v8.33h-2.78zM907.76 523.12h2.78v8.33h-2.78zM910.53 523.12h2.78v8.33h-2.78zM913.31 523.12h2.78v8.33h-2.78zM916.09 523.12h2.78v8.33h-2.78zM918.86 520.34h2.78v11.11h-2.78zM921.64 520.34h2.78v11.11h-2.78zM924.42 520.34h2.78v11.11h-2.78zM927.19 520.34h2.78v11.11h-2.78zM929.97 520.34h2.78v11.11h-2.78zM932.75 520.34h2.78v11.11h-2.78zM935.52 520.34h2.78v11.11h-2.78zM938.3 514.79h2.78v13.88h-2.78zM941.07 503.68h2.78v19.43h-2.78zM943.85 498.13h2.78v16.66h-2.78zM946.63 500.9h2.78v13.88h-2.78zM949.4 506.46h2.78v16.66h-2.78zM952.18 517.56h2.78v13.88h-2.78zM954.96 523.12h2.78v11.11h-2.78zM957.73 523.12h2.78v11.11h-2.78zM960.51 525.89h2.78v8.33h-2.78zM963.29 525.89h2.78v8.33h-2.78zM966.06 525.89h2.78v8.33h-2.78zM968.84 523.12h2.78v11.11h-2.78zM971.62 523.12h2.78v8.33h-2.78zM974.39 523.12h2.78v8.33h-2.78zM977.17 523.12h2.78v8.33h-2.78zM979.94 525.89h2.78v8.33h-2.78zM982.72 525.89h2.78v11.11h-2.78zM985.5 528.67h2.78v8.33h-2.78zM988.27 528.67h2.78v8.33h-2.78zM991.05 531.44h2.78v8.33h-2.78zM993.83 528.67h2.78v13.88h-2.78zM996.6 528.67h2.78v8.33h-2.78zM999.38 528.67h2.78v8.33h-2.78zM1002.16 525.89h2.78v11.11h-2.78zM1004.93 525.89h2.78v8.33h-2.78zM1007.71 528.67h2.78v5.55h-2.78zM1010.48 525.89h2.78v11.11h-2.78zM1013.26 528.67h2.78v8.33h-2.78zM1016.04 528.67h2.78v8.33h-2.78zM1018.81 528.67h2.78v8.33h-2.78zM1021.59 528.67h2.78v11.11h-2.78zM1024.37 528.67h2.78v11.11h-2.78zM1027.14 528.67h2.78v11.11h-2.78zM1029.92 531.44h2.78v8.33h-2.78zM1032.7 528.67h2.78v11.11h-2.78zM1035.47 531.44h2.78v8.33h-2.78zM1038.25 534.22h2.78v8.33h-2.78zM1041.03 531.44h2.78v8.33h-2.78zM1043.8 531.44h2.78v8.33h-2.78zM1046.58 528.67h2.78v11.11h-2.78zM1049.35 528.67h2.78v11.11h-2.78zM1052.13 525.89h2.78v11.11h-2.78zM1054.91 528.67h2.78v8.33h-2.78zM1057.68 531.44h2.78v8.33h-2.78zM1060.46 531.44h2.78v8.33h-2.78zM1063.24 531.44h2.78v8.33h-2.78zM1066.01 531.44h2.78v11.11h-2.78zM1068.79 534.22h2.78v8.33h-2.78zM1071.57 534.22h2.78v8.33h-2.78zM1074.34 531.44h2.78v8.33h-2.78zM1077.12 531.44h2.78v8.33h-2.78zM1079.89 528.67h2.78v11.11h-2.78zM1082.67 528.67h2.78v11.11h-2.78zM1085.45 525.89h2.78v13.88h-2.78zM1088.22 528.67h2.78v11.11h-2.78zM1091 525.89h2.78v11.11h-2.78zM1093.78 525.89h2.78v13.88h-2.78zM1096.55 528.67h2.78v11.11h-2.78zM1099.33 531.44h2.78v8.33h-2.78zM1102.11 531.44h2.78v8.33h-2.78zM1104.88 531.44h2.78v11.11h-2.78zM1107.66 531.44h2.78v11.11h-2.78zM1110.44 531.44h2.78v8.33h-2.78zM1113.21 531.44h2.78v8.33h-2.78zM1115.99 528.67h2.78v11.11h-2.78zM1118.76 525.89h2.78v13.88h-2.78zM1121.54 523.12h2.78v13.88h-2.78zM1124.32 514.79h2.78v16.66h-2.78zM1127.09 512.01h2.78v13.88h-2.78zM1129.87 509.23h2.78v11.11h-2.78zM1132.65 512.01h2.78v11.11h-2.78zM1135.42 514.79h2.78v13.88h-2.78zM1138.2 520.34h2.78v11.11h-2.78zM1140.98 523.12h2.78v13.88h-2.78zM1143.75 528.67h2.78v11.11h-2.78zM1146.53 528.67h2.78v11.11h-2.78zM1149.3 525.89h2.78v11.11h-2.78zM1152.08 528.67h2.78v8.33h-2.78zM1154.86 528.67h2.78v8.33h-2.78zM1157.63 528.67h2.78v8.33h-2.78zM1160.41 531.44h2.78v8.33h-2.78zM1163.19 531.44h2.78v8.33h-2.78zM1165.96 534.22h2.78v8.33h-2.78zM1168.74 531.44h2.78v8.33h-2.78zM1171.52 531.44h2.78v8.33h-2.78zM1174.29 528.67h2.78v11.11h-2.78zM1177.07 531.44h2.78v8.33h-2.78zM1179.85 528.67h2.78v11.11h-2.78zM1182.62 531.44h2.78v11.11h-2.78zM1185.4 534.22h2.78v8.33h-2.78zM1188.17 534.22h2.78v11.11h-2.78zM1190.95 531.44h2.78v11.11h-2.78zM1193.73 531.44h2.78v8.33h-2.78zM1196.5 531.44h2.78v8.33h-2.78zM1199.28 534.22h2.78v5.55h-2.78zM1202.06 531.44h2.78v8.33h-2.78zM1204.83 528.67h2.78v8.33h-2.78zM1207.61 528.67h2.78v8.33h-2.78zM1210.39 525.89h2.78v11.11h-2.78zM1213.16 525.89h2.78v11.11h-2.78zM1215.94 523.12h2.78v11.11h-2.78zM1218.71 514.79h2.78v16.66h-2.78zM1221.49 500.9h2.78v19.43h-2.78zM1224.27 489.8h2.78v24.99h-2.78zM1227.04 484.25h2.78v13.88h-2.78zM1229.82 484.25h2.78v19.43h-2.78zM1232.6 492.58h2.78v22.21h-2.78zM1235.37 506.46h2.78v16.66h-2.78zM1238.15 517.56h2.78v11.11h-2.78zM1240.93 520.34h2.78v13.88h-2.78zM1243.7 525.89h2.78v8.33h-2.78zM1246.48 525.89h2.78v8.33h-2.78zM1249.26 525.89h2.78v11.11h-2.78zM1252.03 525.89h2.78v11.11h-2.78zM1254.81 525.89h2.78v11.11h-2.78zM1257.58 528.67h2.78v11.11h-2.78zM1260.36 528.67h2.78v8.33h-2.78zM1263.14 528.67h2.78v8.33h-2.78zM1265.91 531.44h2.78v8.33h-2.78zM1268.69 531.44h2.78v8.33h-2.78zM1271.47 528.67h2.78v11.11h-2.78zM1274.24 531.44h2.78v8.33h-2.78zM1277.02 531.44h2.78v8.33h-2.78zM1279.8 531.44h2.78v11.11h-2.78zM1282.57 534.22h2.78v11.11h-2.78zM1285.35 534.22h2.78v11.11h-2.78zM1288.12 537h2.78v8.33h-2.78zM1290.9 537h2.78v8.33h-2.78zM1293.68 534.22h2.78v8.33h-2.78zM1296.45 534.22h2.78v8.33h-2.78zM1299.23 531.44h2.78v13.88h-2.78zM1302.01 534.22h2.78v8.33h-2.78zM1304.78 534.22h2.78v8.33h-2.78zM1307.56 534.22h2.78v8.33h-2.78zM1310.34 534.22h2.78v8.33h-2.78zM1313.11 531.44h2.78v11.11h-2.78zM1315.89 531.44h2.78v11.11h-2.78zM1318.67 531.44h2.78v11.11h-2.78zM1321.44 534.22h2.78v8.33h-2.78zM1324.22 534.22h2.78v11.11h-2.78zM1326.99 537h2.78v8.33h-2.78zM1329.77 537h2.78v8.33h-2.78zM1332.55 537h2.78v11.11h-2.78zM1335.32 537h2.78v11.11h-2.78zM1338.1 537h2.78v8.33h-2.78zM1340.88 537h2.78v8.33h-2.78zM1343.65 537h2.78v11.11h-2.78zM1346.43 537h2.78v8.33h-2.78zM1349.21 539.77h2.78v5.55h-2.78zM1351.98 537h2.78v8.33h-2.78zM1354.76 537h2.78v8.33h-2.78zM1357.53 537h2.78v11.11h-2.78zM1360.31 537h2.78v8.33h-2.78zM1363.09 534.22h2.78v8.33h-2.78zM1365.86 534.22h2.78v8.33h-2.78zM1368.64 534.22h2.78v11.11h-2.78zM1371.42 534.22h2.78v11.11h-2.78zM1374.19 534.22h2.78v8.33h-2.78zM1376.97 534.22h2.78v11.11h-2.78zM1379.75 534.22h2.78v11.11h-2.78zM1382.52 534.22h2.78v11.11h-2.78zM1385.3 534.22h2.78v8.33h-2.78zM1388.08 534.22h2.78v8.33h-2.78zM1390.85 531.44h2.78v8.33h-2.78zM1393.63 531.44h2.78v8.33h-2.78zM1396.4 528.67h2.78v11.11h-2.78zM1399.18 525.89h2.78v11.11h-2.78zM1401.96 525.89h2.78v8.33h-2.78zM1404.73 523.12h2.78v8.33h-2.78zM1407.51 520.34h2.78v8.33h-2.78zM1410.29 520.34h2.78v8.33h-2.78zM1413.06 520.34h2.78v11.11h-2.78zM1415.84 523.12h2.78v11.11h-2.78zM1418.62 525.89h2.78v13.88h-2.78zM1421.39 531.44h2.78v8.33h-2.78zM1424.17 531.44h2.78v11.11h-2.78zM1426.94 531.44h2.78v11.11h-2.78zM1429.72 531.44h2.78v11.11h-2.78zM1432.5 531.44h2.78v8.33h-2.78zM1435.27 531.44h2.78v8.33h-2.78zM1438.05 523.12h2.78v13.88h-2.78zM1440.83 514.79h2.78v13.88h-2.78zM1443.6 506.46h2.78v13.88h-2.78zM1446.38 506.46h2.78v19.43h-2.78zM1449.16 514.79h2.78v19.43h-2.78zM1451.93 523.12h2.78v16.66h-2.78zM1454.71 531.44h2.78v13.88h-2.78zM1457.49 534.22h2.78v11.11h-2.78zM1460.26 537h2.78v11.11h-2.78zM1463.04 537h2.78v11.11h-2.78zM1465.81 537h2.78v11.11h-2.78zM1468.59 537h2.78v8.33h-2.78zM1471.37 534.22h2.78v11.11h-2.78zM1474.14 534.22h2.78v11.11h-2.78zM1476.92 534.22h2.78v8.33h-2.78zM1479.7 534.22h2.78v8.33h-2.78zM1482.47 537h2.78v5.55h-2.78zM1485.25 534.22h2.78v11.11h-2.78zM1488.03 534.22h2.78v8.33h-2.78zM1490.8 534.22h2.78v11.11h-2.78zM1493.58 534.22h2.78v11.11h-2.78zM1496.35 537h2.78v11.11h-2.78zM1499.13 537h2.78v8.33h-2.78zM1501.91 537h2.78v11.11h-2.78zM1504.68 539.77h2.78v8.33h-2.78zM1507.46 539.77h2.78v8.33h-2.78zM1510.24 537h2.78v11.11h-2.78zM1513.01 539.77h2.78v8.33h-2.78zM1515.79 537h2.78v11.11h-2.78zM1518.57 537h2.78v11.11h-2.78zM1521.34 537h2.78v11.11h-2.78zM1524.12 537h2.78v11.11h-2.78zM1526.9 539.77h2.78v8.33h-2.78zM1529.67 539.77h2.78v8.33h-2.78zM1532.45 539.77h2.78v8.33h-2.78zM1535.22 537h2.78v13.88h-2.78zM1538 537h2.78v13.88h-2.78zM1540.78 539.77h2.78v8.33h-2.78zM1543.55 539.77h2.78v8.33h-2.78zM1546.33 539.77h2.78v8.33h-2.78zM1549.11 539.77h2.78v8.33h-2.78zM1551.88 537h2.78v11.11h-2.78zM1554.66 537h2.78v11.11h-2.78zM1557.44 537h2.78v11.11h-2.78zM1560.21 537h2.78v11.11h-2.78zM1562.99 537h2.78v8.33h-2.78zM1565.76 537h2.78v8.33h-2.78zM1568.54 534.22h2.78v11.11h-2.78zM1571.32 537h2.78v8.33h-2.78zM1574.09 537h2.78v8.33h-2.78zM1576.87 537h2.78v8.33h-2.78zM1579.65 537h2.78v8.33h-2.78zM1582.42 537h2.78v8.33h-2.78zM1585.2 539.77h2.78v8.33h-2.78zM1587.98 539.77h2.78v8.33h-2.78zM1590.75 537h2.78v11.11h-2.78zM1593.53 537h2.78v11.11h-2.78zM1596.31 537h2.78v11.11h-2.78zM1599.08 539.77h2.78v8.33h-2.78zM1601.86 539.77h2.78v8.33h-2.78zM1604.63 539.77h2.78v13.88h-2.78zM1607.41 542.55h2.78v8.33h-2.78zM1610.19 539.77h2.78v11.11h-2.78zM1612.96 539.77h2.78v8.33h-2.78zM1615.74 537h2.78v8.33h-2.78zM1618.52 534.22h2.78v11.11h-2.78zM1621.29 534.22h2.78v8.33h-2.78zM1624.07 534.22h2.78v11.11h-2.78zM1626.85 534.22h2.78v8.33h-2.78zM1629.62 534.22h2.78v8.33h-2.78zM1632.4 534.22h2.78v8.33h-2.78zM1635.17 537h2.78v8.33h-2.78zM1637.95 537h2.78v11.11h-2.78zM1640.73 539.77h2.78v11.11h-2.78zM1643.5 537h2.78v11.11h-2.78zM1646.28 537h2.78v11.11h-2.78zM1649.06 537h2.78v8.33h-2.78zM1651.83 537h2.78v8.33h-2.78zM1654.61 537h2.78v11.11h-2.78zM1657.39 537h2.78v11.11h-2.78zM1660.16 537h2.78v11.11h-2.78zM1662.94 537h2.78v11.11h-2.78zM1665.72 537h2.78v11.11h-2.78zM1668.49 539.77h2.78v8.33h-2.78zM1671.27 539.77h2.78v8.33h-2.78zM1674.04 537h2.78v11.11h-2.78zM1676.82 539.77h2.78v8.33h-2.78zM1679.6 539.77h2.78v8.33h-2.78zM1682.37 537h2.78v8.33h-2.78zM1685.15 537h2.78v11.11h-2.78zM1687.93 537h2.78v11.11h-2.78zM1690.7 534.22h2.78v13.88h-2.78zM1693.48 537h2.78v11.11h-2.78zM1696.26 537h2.78v11.11h-2.78zM1699.03 537h2.78v11.11h-2.78zM1701.81 537h2.78v11.11h-2.78zM1704.58 537h2.78v11.11h-2.78zM1707.36 537h2.78v8.33h-2.78zM1710.14 537h2.78v8.33h-2.78zM1712.91 537h2.78v5.55h-2.78zM1715.69 534.22h2.78v8.33h-2.78zM1718.47 534.22h2.78v11.11h-2.78zM1721.24 534.22h2.78v11.11h-2.78zM1724.02 537h2.78v8.33h-2.78zM1726.8 534.22h2.78v8.33h-2.78zM1729.57 537h2.78v8.33h-2.78zM1732.35 537h2.78v8.33h-2.78zM1735.13 537h2.78v11.11h-2.78zM1737.9 537h2.78v11.11h-2.78zM1740.68 537h2.78v11.11h-2.78zM1743.45 537h2.78v11.11h-2.78zM1746.23 537h2.78v8.33h-2.78zM1749.01 537h2.78v11.11h-2.78zM1751.78 537h2.78v8.33h-2.78zM1754.56 539.77h2.78v8.33h-2.78zM1757.34 539.77h2.78v8.33h-2.78zM1760.11 539.77h2.78v8.33h-2.78zM1762.89 539.77h2.78v11.11h-2.78zM1765.67 539.77h2.78v11.11h-2.78zM1768.44 542.55h2.78v8.33h-2.78zM1771.22 542.55h2.78v8.33h-2.78zM1773.99 539.77h2.78v11.11h-2.78zM1776.77 537h2.78v11.11h-2.78zM1779.55 537h2.78v11.11h-2.78zM1782.32 537h2.78v11.11h-2.78zM1785.1 539.77h2.78v8.33h-2.78zM1787.88 539.77h2.78v5.55h-2.78zM1790.65 537h2.78v11.11h-2.78zM1793.43 537h2.78v11.11h-2.78zM1796.21 534.22h2.78v11.11h-2.78zM1798.98 537h2.78v8.33h-2.78zM1801.76 537h2.78v8.33h-2.78zM1804.54 537h2.78v8.33h-2.78zM1807.31 537h2.78v8.33h-2.78zM1810.09 537h2.78v8.33h-2.78zM1812.86 537h2.78v11.11h-2.78zM1815.64 534.22h2.78v11.11h-2.78zM1818.42 537h2.78v11.11h-2.78zM1821.19 537h2.78v11.11h-2.78zM1823.97 534.22h2.78v11.11h-2.78zM1826.75 537h2.78v11.11h-2.78zM1829.52 534.22h2.78v11.11h-2.78zM1832.3 534.22h2.78v8.33h-2.78zM1835.08 534.22h2.78v8.33h-2.78zM1837.85 534.22h2.78v8.33h-2.78zM1840.63 534.22h2.78v11.11h-2.78zM1843.4 534.22h2.78v11.11h-2.78zM1846.18 537h2.78v8.33h-2.78zM1848.96 534.22h2.78v11.11h-2.78zM1851.73 534.22h2.78v13.88h-2.78zM1854.51 539.77h2.78v8.33h-2.78zM1857.29 539.77h2.78v8.33h-2.78zM1860.06 539.77h2.78v8.33h-2.78zM1862.84 537h2.78v8.33h-2.78zM1865.62 534.22h2.78v11.11h-2.78zM1868.39 537h2.78v8.33h-2.78zM1871.17 537h2.78v8.33h-2.78zM1873.95 537h2.78v11.11h-2.78zM1876.72 539.77h2.78v8.33h-2.78zM1879.5 539.77h2.78v11.11h-2.78zM1882.27 539.77h2.78v8.33h-2.78zM1885.05 537h2.78v11.11h-2.78zM1887.83 534.22h2.78v11.11h-2.78zM1890.6 534.22h2.78v11.11h-2.78zM1893.38 534.22h2.78v8.33h-2.78zM1896.16 537h2.78v8.33h-2.78zM1898.93 537h2.78v8.33h-2.78zM1901.71 537h2.78v8.33h-2.78zM1904.49 537h2.78v8.33h-2.78zM1907.26 537h2.78v11.11h-2.78zM1910.04 537h2.78v8.33h-2.78zM1912.81 537h2.78v8.33h-2.78zM1915.59 537h2.78v11.11h-2.78zM1918.37 539.77h2.78v8.33h-2.78zM1921.14 539.77h2.78v11.11h-2.78zM1923.92 537h2.78v13.88h-2.78zM1926.7 537h2.78v11.11h-2.78zM1929.47 537h2.78v11.11h-2.78zM1932.25 537h2.78v11.11h-2.78zM1935.03 537h2.78v8.33h-2.78zM1937.8 537h2.78v8.33h-2.78zM1940.58 537h2.78v11.11h-2.78zM1943.36 537h2.78v11.11h-2.78zM1946.13 539.77h2.78v8.33h-2.78zM1948.91 537h2.78v11.11h-2.78zM1951.68 534.22h2.78v11.11h-2.78zM1954.46 534.22h2.78v8.33h-2.78zM1957.24 534.22h2.78v8.33h-2.78zM1960.01 531.44h2.78v11.11h-2.78zM1962.79 531.44h2.78v11.11h-2.78zM1965.57 534.22h2.78v8.33h-2.78zM1968.34 534.22h2.78v11.11h-2.78zM1971.12 537h2.78v8.33h-2.78z"/>
</g>
<g id="curve-d">
<path fill="#A6E3CA" d="M174.79 278.79h2.78v2.78h-2.78zM180.34 306.56h2.78v2.78h-2.78zM183.12 306.56h2.78v5.55h-2.78zM185.89 317.66h2.78v2.78h-2.78zM188.67 320.44h2.78v2.78h-2.78zM191.45 273.24h2.78v2.78h-2.78zM194.22 278.79h2.78v2.78h-2.78zM194.22 314.89h2.78v2.78h-2.78zM208.11 337.1h2.78v2.78h-2.78zM213.66 289.9h2.78v2.78h-2.78zM213.66 320.44h2.78v11.11h-2.78zM219.21 292.67h2.78v2.78h-2.78zM221.99 350.98h2.78v2.78h-2.78zM227.54 295.45h2.78v2.78h-2.78zM230.32 342.65h2.78v2.78h-2.78zM233.09 342.65h2.78v2.78h-2.78zM235.87 298.23h2.78v8.33h-2.78zM238.65 306.56h2.78v2.78h-2.78zM241.42 337.1h2.78v2.78h-2.78zM244.2 342.65h2.78v2.78h-2.78zM246.97 278.79h2.78v2.78h-2.78zM252.53 334.32h2.78v2.78h-2.78zM260.86 337.1h2.78v2.78h-2.78zM263.63 287.12h2.78v8.33h-2.78zM277.52 295.45h2.78v2.78h-2.78zM277.52 334.32h2.78v2.78h-2.78zM280.29 334.32h2.78v2.78h-2.78zM283.07 339.87h2.78v2.78h-2.78zM288.62 295.45h2.78v2.78h-2.78zM288.62 337.1h2.78v2.78h-2.78zM296.95 342.65h2.78v2.78h-2.78zM299.73 328.77h2.78v5.55h-2.78zM299.73 337.1h2.78v5.55h-2.78zM302.5 298.23h2.78v2.78h-2.78zM319.16 270.46h2.78v2.78h-2.78zM327.49 253.8h2.78v2.78h-2.78zM327.49 303.78h2.78v5.55h-2.78zM330.27 256.58h2.78v5.55h-2.78zM333.04 248.25h2.78v2.78h-2.78zM335.82 287.12h2.78v2.78h-2.78zM341.37 242.7h2.78v2.78h-2.78zM346.93 281.57h2.78v5.55h-2.78zM352.48 223.26h2.78v2.78h-2.78zM360.81 209.38h2.78v2.78h-2.78zM363.58 273.24h2.78v2.78h-2.78zM371.91 212.16h2.78v2.78h-2.78zM374.69 214.94h2.78v2.78h-2.78zM374.69 256.58h2.78v2.78h-2.78zM380.24 206.61h2.78v2.78h-2.78zM380.24 253.8h2.78v2.78h-2.78zM399.68 201.05h2.78v2.78h-2.78zM402.45 251.03h2.78v2.78h-2.78zM405.23 203.83h2.78v2.78h-2.78zM405.23 251.03h2.78v2.78h-2.78zM413.56 234.37h2.78v2.78h-2.78zM413.56 245.48h2.78v11.11h-2.78zM416.34 189.95h2.78v2.78h-2.78zM419.11 198.28h2.78v2.78h-2.78zM421.89 212.16h2.78v8.33h-2.78zM424.66 201.05h2.78v2.78h-2.78zM424.66 256.58h2.78v2.78h-2.78zM427.44 253.8h2.78v2.78h-2.78zM438.55 259.36h2.78v2.78h-2.78zM441.32 198.28h2.78v5.55h-2.78zM441.32 256.58h2.78v2.78h-2.78zM446.88 195.5h2.78v2.78h-2.78zM446.88 251.03h2.78v2.78h-2.78zM449.65 206.61h2.78v2.78h-2.78zM455.2 212.16h2.78v2.78h-2.78zM455.2 253.8h2.78v2.78h-2.78zM457.98 206.61h2.78v2.78h-2.78zM457.98 256.58h2.78v2.78h-2.78zM460.76 264.91h2.78v2.78h-2.78zM466.31 267.69h2.78v2.78h-2.78zM469.09 223.26h2.78v2.78h-2.78zM477.42 217.71h2.78v2.78h-2.78zM477.42 270.46h2.78v2.78h-2.78zM480.19 295.45h2.78v2.78h-2.78zM485.75 281.57h2.78v2.78h-2.78zM499.63 303.78h2.78v2.78h-2.78zM502.4 239.92h2.78v2.78h-2.78zM505.18 298.23h2.78v2.78h-2.78zM507.96 242.7h2.78v5.55h-2.78zM507.96 295.45h2.78v2.78h-2.78zM516.29 298.23h2.78v2.78h-2.78zM521.84 242.7h2.78v2.78h-2.78zM521.84 298.23h2.78v2.78h-2.78zM527.39 253.8h2.78v2.78h-2.78zM530.17 256.58h2.78v2.78h-2.78zM530.17 295.45h2.78v11.11h-2.78zM532.94 259.36h2.78v2.78h-2.78zM535.72 264.91h2.78v2.78h-2.78zM535.72 317.66h2.78v2.78h-2.78zM541.27 317.66h2.78v2.78h-2.78zM544.05 317.66h2.78v5.55h-2.78zM546.83 270.46h2.78v2.78h-2.78zM546.83 323.21h2.78v2.78h-2.78zM552.38 270.46h2.78v2.78h-2.78zM555.16 278.79h2.78v2.78h-2.78zM566.26 270.46h2.78v2.78h-2.78zM569.04 262.13h2.78v2.78h-2.78zM574.59 259.36h2.78v2.78h-2.78zM580.14 242.7h2.78v5.55h-2.78zM580.14 309.33h2.78v2.78h-2.78zM582.92 206.61h2.78v8.33h-2.78zM582.92 292.67h2.78v8.33h-2.78zM585.7 253.8h2.78v5.55h-2.78zM588.47 159.41h2.78v2.78h-2.78zM588.47 220.49h2.78v11.11h-2.78zM591.25 237.15h2.78v2.78h-2.78zM594.02 162.18h2.78v8.33h-2.78zM596.8 189.95h2.78v24.99h-2.78zM596.8 287.12h2.78v8.33h-2.78zM599.58 248.25h2.78v2.78h-2.78zM599.58 309.33h2.78v2.78h-2.78zM605.13 264.91h2.78v2.78h-2.78zM605.13 303.78h2.78v5.55h-2.78zM607.91 309.33h2.78v2.78h-2.78zM610.68 264.91h2.78v2.78h-2.78zM616.24 273.24h2.78v2.78h-2.78zM619.01 276.02h2.78v2.78h-2.78zM619.01 303.78h2.78v2.78h-2.78zM624.57 303.78h2.78v8.33h-2.78zM627.34 312.11h2.78v2.78h-2.78zM635.67 295.45h2.78v2.78h-2.78zM641.22 292.67h2.78v2.78h-2.78zM649.55 248.25h2.78v2.78h-2.78zM652.33 248.25h2.78v2.78h-2.78zM655.11 259.36h2.78v2.78h-2.78zM657.88 245.48h2.78v2.78h-2.78zM657.88 295.45h2.78v2.78h-2.78zM663.43 298.23h2.78v2.78h-2.78zM666.21 251.03h2.78v2.78h-2.78zM668.99 287.12h2.78v11.11h-2.78zM671.76 284.35h2.78v2.78h-2.78zM674.54 242.7h2.78v2.78h-2.78zM680.09 242.7h2.78v2.78h-2.78zM680.09 287.12h2.78v2.78h-2.78zM691.2 234.37h2.78v2.78h-2.78zM696.75 278.79h2.78v2.78h-2.78zM696.75 284.35h2.78v11.11h-2.78zM699.53 237.15h2.78v2.78h-2.78zM702.3 237.15h2.78v2.78h-2.78zM702.3 295.45h2.78v2.78h-2.78zM705.08 237.15h2.78v2.78h-2.78zM707.86 248.25h2.78v2.78h-2.78zM710.63 251.03h2.78v2.78h-2.78zM713.41 245.48h2.78v2.78h-2.78zM716.19 245.48h2.78v2.78h-2.78zM718.96 251.03h2.78v2.78h-2.78zM724.52 301h2.78v2.78h-2.78zM727.29 248.25h2.78v2.78h-2.78zM730.07 251.03h2.78v2.78h-2.78zM730.07 292.67h2.78v8.33h-2.78zM730.07 306.56h2.78v2.78h-2.78zM738.4 251.03h2.78v5.55h-2.78zM741.17 256.58h2.78v2.78h-2.78zM743.95 298.23h2.78v2.78h-2.78zM746.73 245.48h2.78v2.78h-2.78zM746.73 287.12h2.78v11.11h-2.78zM752.28 248.25h2.78v2.78h-2.78zM752.28 289.9h2.78v2.78h-2.78zM763.39 295.45h2.78v2.78h-2.78zM768.94 245.48h2.78v2.78h-2.78zM768.94 292.67h2.78v2.78h-2.78zM771.71 214.94h2.78v2.78h-2.78zM771.71 276.02h2.78v2.78h-2.78zM774.49 184.39h2.78v2.78h-2.78zM774.49 256.58h2.78v8.33h-2.78zM774.49 270.46h2.78v2.78h-2.78zM777.27 231.59h2.78v2.78h-2.78zM780.04 201.05h2.78v2.78h-2.78zM782.82 198.28h2.78v8.33h-2.78zM785.6 162.18h2.78v5.55h-2.78zM785.6 251.03h2.78v11.11h-2.78zM791.15 214.94h2.78v19.43h-2.78zM793.93 301h2.78v2.78h-2.78zM796.7 253.8h2.78v2.78h-2.78zM799.48 273.24h2.78v2.78h-2.78zM807.81 309.33h2.78v2.78h-2.78zM813.36 273.24h2.78v2.78h-2.78zM813.36 312.11h2.78v2.78h-2.78zM818.91 267.69h2.78v2.78h-2.78zM827.24 223.26h2.78v11.11h-2.78zM830.02 173.29h2.78v2.78h-2.78zM832.8 248.25h2.78v2.78h-2.78zM835.57 187.17h2.78v11.11h-2.78zM838.35 226.04h2.78v2.78h-2.78zM841.12 267.69h2.78v2.78h-2.78zM843.9 203.83h2.78v13.88h-2.78zM843.9 287.12h2.78v8.33h-2.78zM849.45 262.13h2.78v2.78h-2.78zM852.23 278.79h2.78v2.78h-2.78zM855.01 323.21h2.78v2.78h-2.78zM860.56 278.79h2.78v2.78h-2.78zM860.56 325.99h2.78v2.78h-2.78zM863.34 323.21h2.78v2.78h-2.78zM866.11 323.21h2.78v2.78h-2.78zM868.89 287.12h2.78v2.78h-2.78zM874.44 323.21h2.78v2.78h-2.78zM877.22 323.21h2.78v2.78h-2.78zM882.77 328.77h2.78v2.78h-2.78zM891.1 295.45h2.78v2.78h-2.78zM896.65 323.21h2.78v2.78h-2.78zM899.43 325.99h2.78v2.78h-2.78zM902.21 276.02h2.78v2.78h-2.78zM904.98 278.79h2.78v11.11h-2.78zM904.98 328.77h2.78v2.78h-2.78zM907.76 284.35h2.78v2.78h-2.78zM907.76 320.44h2.78v2.78h-2.78zM910.53 284.35h2.78v2.78h-2.78zM916.09 289.9h2.78v2.78h-2.78zM927.19 325.99h2.78v2.78h-2.78zM932.75 276.02h2.78v2.78h-2.78zM935.52 325.99h2.78v2.78h-2.78zM938.3 284.35h2.78v2.78h-2.78zM943.85 242.7h2.78v2.78h-2.78zM949.4 242.7h2.78v2.78h-2.78zM952.18 270.46h2.78v2.78h-2.78zM952.18 303.78h2.78v2.78h-2.78zM954.96 276.02h2.78v5.55h-2.78zM971.62 278.79h2.78v2.78h-2.78zM971.62 328.77h2.78v2.78h-2.78zM974.39 281.57h2.78v2.78h-2.78zM977.17 289.9h2.78v2.78h-2.78zM985.5 287.12h2.78v2.78h-2.78zM991.05 292.67h2.78v2.78h-2.78zM996.6 292.67h2.78v5.55h-2.78zM996.6 325.99h2.78v2.78h-2.78zM999.38 325.99h2.78v2.78h-2.78zM1004.93 292.67h2.78v5.55h-2.78zM1007.71 337.1h2.78v2.78h-2.78zM1010.48 298.23h2.78v2.78h-2.78zM1013.26 339.87h2.78v2.78h-2.78zM1021.59 342.65h2.78v2.78h-2.78zM1024.37 298.23h2.78v2.78h-2.78zM1024.37 337.1h2.78v2.78h-2.78zM1027.14 298.23h2.78v2.78h-2.78zM1029.92 301h2.78v2.78h-2.78zM1035.47 342.65h2.78v2.78h-2.78zM1041.03 345.43h2.78v2.78h-2.78zM1043.8 348.2h2.78v2.78h-2.78zM1049.35 309.33h2.78v2.78h-2.78zM1049.35 350.98h2.78v2.78h-2.78zM1052.13 345.43h2.78v5.55h-2.78zM1057.68 306.56h2.78v2.78h-2.78zM1060.46 345.43h2.78v2.78h-2.78zM1066.01 342.65h2.78v2.78h-2.78zM1068.79 312.11h2.78v2.78h-2.78zM1074.34 342.65h2.78v2.78h-2.78zM1082.67 345.43h2.78v2.78h-2.78zM1085.45 298.23h2.78v2.78h-2.78zM1088.22 298.23h2.78v2.78h-2.78zM1099.33 312.11h2.78v2.78h-2.78zM1099.33 339.87h2.78v2.78h-2.78zM1102.11 317.66h2.78v2.78h-2.78zM1104.88 345.43h2.78v2.78h-2.78zM1121.54 345.43h2.78v2.78h-2.78zM1124.32 295.45h2.78v2.78h-2.78zM1124.32 342.65h2.78v2.78h-2.78zM1127.09 270.46h2.78v2.78h-2.78zM1132.65 267.69h2.78v2.78h-2.78zM1135.42 267.69h2.78v2.78h-2.78zM1138.2 273.24h2.78v2.78h-2.78zM1138.2 328.77h2.78v2.78h-2.78zM1146.53 309.33h2.78v2.78h-2.78zM1149.3 314.89h2.78v2.78h-2.78zM1152.08 345.43h2.78v2.78h-2.78zM1154.86 314.89h2.78v2.78h-2.78zM1157.63 314.89h2.78v2.78h-2.78zM1157.63 342.65h2.78v2.78h-2.78zM1177.07 312.11h2.78v2.78h-2.78zM1182.62 345.43h2.78v2.78h-2.78zM1188.17 348.2h2.78v2.78h-2.78zM1190.95 298.23h2.78v8.33h-2.78zM1193.73 306.56h2.78v2.78h-2.78zM1202.06 306.56h2.78v2.78h-2.78zM1204.83 342.65h2.78v2.78h-2.78zM1207.61 309.33h2.78v2.78h-2.78zM1207.61 345.43h2.78v2.78h-2.78zM1210.39 295.45h2.78v2.78h-2.78zM1213.16 342.65h2.78v2.78h-2.78zM1215.94 337.1h2.78v2.78h-2.78zM1218.71 281.57h2.78v2.78h-2.78zM1221.49 325.99h2.78v2.78h-2.78zM1224.27 214.94h2.78v8.33h-2.78zM1224.27 301h2.78v5.55h-2.78zM1227.04 206.61h2.78v2.78h-2.78zM1227.04 270.46h2.78v2.78h-2.78zM1229.82 245.48h2.78v5.55h-2.78zM1229.82 253.8h2.78v2.78h-2.78zM1232.6 209.38h2.78v5.55h-2.78zM1232.6 270.46h2.78v5.55h-2.78zM1235.37 226.04h2.78v2.78h-2.78zM1235.37 312.11h2.78v2.78h-2.78zM1238.15 253.8h2.78v8.33h-2.78zM1240.93 289.9h2.78v2.78h-2.78zM1240.93 337.1h2.78v2.78h-2.78zM1243.7 309.33h2.78v2.78h-2.78zM1243.7 339.87h2.78v8.33h-2.78zM1243.7 353.76h2.78v2.78h-2.78zM1246.48 359.31h2.78v2.78h-2.78zM1249.26 362.08h2.78v2.78h-2.78zM1257.58 320.44h2.78v2.78h-2.78zM1263.14 320.44h2.78v2.78h-2.78zM1268.69 323.21h2.78v2.78h-2.78zM1274.24 356.53h2.78v2.78h-2.78zM1277.02 356.53h2.78v2.78h-2.78zM1282.57 325.99h2.78v2.78h-2.78zM1288.12 334.32h2.78v2.78h-2.78zM1290.9 328.77h2.78v5.55h-2.78zM1293.68 325.99h2.78v2.78h-2.78zM1293.68 356.53h2.78v2.78h-2.78zM1302.01 364.86h2.78v2.78h-2.78zM1304.78 367.64h2.78v2.78h-2.78zM1315.89 325.99h2.78v2.78h-2.78zM1315.89 353.76h2.78v2.78h-2.78zM1318.67 353.76h2.78v2.78h-2.78zM1321.44 325.99h2.78v2.78h-2.78zM1321.44 353.76h2.78v2.78h-2.78zM1324.22 356.53h2.78v2.78h-2.78zM1335.32 312.11h2.78v2.78h-2.78zM1340.88 317.66h2.78v2.78h-2.78zM1340.88 350.98h2.78v8.33h-2.78zM1343.65 320.44h2.78v2.78h-2.78zM1346.43 325.99h2.78v2.78h-2.78zM1354.76 314.89h2.78v2.78h-2.78zM1357.53 317.66h2.78v2.78h-2.78zM1357.53 359.31h2.78v2.78h-2.78zM1363.09 323.21h2.78v5.55h-2.78zM1363.09 356.53h2.78v2.78h-2.78zM1365.86 364.86h2.78v2.78h-2.78zM1368.64 320.44h2.78v2.78h-2.78zM1368.64 370.41h2.78v2.78h-2.78zM1371.42 373.19h2.78v2.78h-2.78zM1374.19 331.54h2.78v2.78h-2.78zM1376.97 362.08h2.78v2.78h-2.78zM1379.75 317.66h2.78v2.78h-2.78zM1382.52 317.66h2.78v2.78h-2.78zM1390.85 367.64h2.78v2.78h-2.78zM1393.63 328.77h2.78v2.78h-2.78zM1396.4 325.99h2.78v2.78h-2.78zM1399.18 320.44h2.78v2.78h-2.78zM1404.73 303.78h2.78v2.78h-2.78zM1410.29 298.23h2.78v2.78h-2.78zM1410.29 328.77h2.78v2.78h-2.78zM1410.29 334.32h2.78v2.78h-2.78zM1413.06 306.56h2.78v2.78h-2.78zM1415.84 306.56h2.78v2.78h-2.78zM1418.62 348.2h2.78v2.78h-2.78zM1424.17 312.11h2.78v2.78h-2.78zM1426.94 328.77h2.78v2.78h-2.78zM1438.05 278.79h2.78v2.78h-2.78zM1440.83 264.91h2.78v2.78h-2.78zM1443.6 303.78h2.78v2.78h-2.78zM1446.38 270.46h2.78v2.78h-2.78zM1446.38 314.89h2.78v2.78h-2.78zM1449.16 278.79h2.78v5.55h-2.78zM1454.71 323.21h2.78v2.78h-2.78zM1457.49 364.86h2.78v2.78h-2.78zM1463.04 320.44h2.78v2.78h-2.78zM1463.04 356.53h2.78v8.33h-2.78zM1465.81 334.32h2.78v2.78h-2.78zM1465.81 362.08h2.78v2.78h-2.78zM1471.37 364.86h2.78v2.78h-2.78zM1482.47 364.86h2.78v2.78h-2.78zM1485.25 331.54h2.78v2.78h-2.78zM1485.25 381.52h2.78v2.78h-2.78zM1493.58 387.07h2.78v2.78h-2.78zM1496.35 334.32h2.78v2.78h-2.78zM1501.91 331.54h2.78v2.78h-2.78zM1513.01 362.08h2.78v2.78h-2.78zM1518.57 325.99h2.78v2.78h-2.78zM1521.34 328.77h2.78v2.78h-2.78zM1529.67 325.99h2.78v2.78h-2.78zM1532.45 364.86h2.78v2.78h-2.78zM1535.22 325.99h2.78v2.78h-2.78zM1540.78 362.08h2.78v5.55h-2.78zM1543.55 367.64h2.78v2.78h-2.78zM1546.33 367.64h2.78v2.78h-2.78zM1554.66 339.87h2.78v2.78h-2.78zM1560.21 334.32h2.78v2.78h-2.78zM1562.99 334.32h2.78v2.78h-2.78zM1562.99 359.31h2.78v2.78h-2.78zM1565.76 334.32h2.78v2.78h-2.78zM1568.54 331.54h2.78v2.78h-2.78zM1574.09 364.86h2.78v2.78h-2.78zM1576.87 337.1h2.78v2.78h-2.78zM1579.65 337.1h2.78v2.78h-2.78zM1593.53 334.32h2.78v2.78h-2.78zM1593.53 359.31h2.78v2.78h-2.78zM1596.31 356.53h2.78v2.78h-2.78zM1615.74 328.77h2.78v2.78h-2.78zM1618.52 331.54h2.78v2.78h-2.78zM1626.85 334.32h2.78v2.78h-2.78zM1635.17 370.41h2.78v2.78h-2.78zM1637.95 362.08h2.78v2.78h-2.78zM1640.73 331.54h2.78v2.78h-2.78zM1640.73 362.08h2.78v2.78h-2.78zM1643.5 364.86h2.78v2.78h-2.78zM1654.61 337.1h2.78v2.78h-2.78zM1660.16 342.65h2.78v2.78h-2.78zM1660.16 375.97h2.78v16.66h-2.78zM1671.27 317.66h2.78v2.78h-2.78zM1674.04 364.86h2.78v2.78h-2.78zM1676.82 367.64h2.78v2.78h-2.78zM1679.6 337.1h2.78v2.78h-2.78zM1682.37 325.99h2.78v11.11h-2.78zM1685.15 312.11h2.78v2.78h-2.78zM1685.15 353.76h2.78v2.78h-2.78zM1690.7 317.66h2.78v2.78h-2.78zM1693.48 320.44h2.78v11.11h-2.78zM1699.03 331.54h2.78v2.78h-2.78zM1699.03 362.08h2.78v2.78h-2.78zM1701.81 362.08h2.78v2.78h-2.78zM1707.36 328.77h2.78v2.78h-2.78zM1707.36 362.08h2.78v2.78h-2.78zM1712.91 328.77h2.78v2.78h-2.78zM1715.69 364.86h2.78v2.78h-2.78zM1718.47 320.44h2.78v11.11h-2.78zM1724.02 317.66h2.78v2.78h-2.78zM1724.02 364.86h2.78v2.78h-2.78zM1726.8 367.64h2.78v2.78h-2.78zM1732.35 367.64h2.78v2.78h-2.78zM1735.13 339.87h2.78v2.78h-2.78zM1743.45 362.08h2.78v2.78h-2.78zM1749.01 342.65h2.78v2.78h-2.78zM1749.01 370.41h2.78v2.78h-2.78zM1751.78 370.41h2.78v2.78h-2.78zM1754.56 370.41h2.78v2.78h-2.78zM1757.34 367.64h2.78v2.78h-2.78zM1760.11 345.43h2.78v2.78h-2.78zM1762.89 345.43h2.78v2.78h-2.78zM1765.67 370.41h2.78v2.78h-2.78zM1768.44 370.41h2.78v2.78h-2.78zM1771.22 373.19h2.78v2.78h-2.78zM1773.99 339.87h2.78v2.78h-2.78zM1773.99 373.19h2.78v2.78h-2.78zM1782.32 339.87h2.78v2.78h-2.78zM1785.1 359.31h2.78v2.78h-2.78zM1796.21 370.41h2.78v2.78h-2.78zM1798.98 339.87h2.78v2.78h-2.78zM1798.98 367.64h2.78v2.78h-2.78zM1807.31 334.32h2.78v8.33h-2.78zM1812.86 339.87h2.78v2.78h-2.78zM1818.42 342.65h2.78v2.78h-2.78zM1818.42 367.64h2.78v2.78h-2.78zM1823.97 367.64h2.78v2.78h-2.78zM1829.52 367.64h2.78v19.43h-2.78zM1835.08 387.07h2.78v2.78h-2.78zM1843.4 331.54h2.78v11.11h-2.78zM1851.73 345.43h2.78v2.78h-2.78zM1851.73 373.19h2.78v2.78h-2.78zM1857.29 342.65h2.78v2.78h-2.78zM1862.84 323.21h2.78v2.78h-2.78zM1865.62 320.44h2.78v2.78h-2.78zM1865.62 370.41h2.78v2.78h-2.78zM1868.39 373.19h2.78v2.78h-2.78zM1871.17 375.97h2.78v2.78h-2.78zM1873.95 337.1h2.78v2.78h-2.78zM1876.72 339.87h2.78v2.78h-2.78zM1882.27 362.08h2.78v2.78h-2.78zM1885.05 370.41h2.78v2.78h-2.78zM1890.6 370.41h2.78v2.78h-2.78zM1898.93 325.99h2.78v2.78h-2.78zM1901.71 367.64h2.78v2.78h-2.78zM1910.04 367.64h2.78v11.11h-2.78zM1912.81 378.74h2.78v2.78h-2.78zM1921.14 364.86h2.78v2.78h-2.78zM1923.92 339.87h2.78v2.78h-2.78zM1923.92 364.86h2.78v2.78h-2.78zM1926.7 337.1h2.78v2.78h-2.78zM1929.47 364.86h2.78v2.78h-2.78zM1940.58 364.86h2.78v2.78h-2.78zM1943.36 342.65h2.78v5.55h-2.78zM1946.13 339.87h2.78v2.78h-2.78zM1954.46 331.54h2.78v11.11h-2.78zM1957.24 328.77h2.78v2.78h-2.78zM1957.24 375.97h2.78v2.78h-2.78zM1962.79 331.54h2.78v2.78h-2.78zM1968.34 367.64h2.78v2.78h-2.78z"/>
<path fill="#4CC895" d="M174.79 281.57h2.78v8.33h-2.78zM174.79 292.67h2.78v16.66h-2.78zM177.56 264.91h2.78v2.78h-2.78zM180.34 303.78h2.78v2.78h-2.78zM183.12 303.78h2.78v2.78h-2.78zM185.89 267.69h2.78v2.78h-2.78zM185.89 314.89h2.78v2.78h-2.78zM191.45 314.89h2.78v5.55h-2.78zM194.22 312.11h2.78v2.78h-2.78zM197 323.21h2.78v2.78h-2.78zM202.55 325.99h2.78v2.78h-2.78zM205.33 295.45h2.78v2.78h-2.78zM210.88 337.1h2.78v2.78h-2.78zM216.43 289.9h2.78v2.78h-2.78zM216.43 331.54h2.78v2.78h-2.78zM221.99 342.65h2.78v8.33h-2.78zM224.76 292.67h2.78v2.78h-2.78zM227.54 342.65h2.78v8.33h-2.78zM235.87 306.56h2.78v5.55h-2.78zM235.87 334.32h2.78v8.33h-2.78zM246.97 342.65h2.78v2.78h-2.78zM249.75 278.79h2.78v2.78h-2.78zM258.08 284.35h2.78v2.78h-2.78zM258.08 334.32h2.78v2.78h-2.78zM266.41 292.67h2.78v2.78h-2.78zM266.41 339.87h2.78v2.78h-2.78zM269.19 256.58h2.78v19.43h-2.78zM269.19 337.1h2.78v2.78h-2.78zM274.74 256.58h2.78v5.55h-2.78zM274.74 331.54h2.78v2.78h-2.78zM280.29 295.45h2.78v2.78h-2.78zM285.84 295.45h2.78v2.78h-2.78zM288.62 334.32h2.78v2.78h-2.78zM294.17 339.87h2.78v2.78h-2.78zM302.5 325.99h2.78v5.55h-2.78zM305.28 289.9h2.78v2.78h-2.78zM308.06 328.77h2.78v2.78h-2.78zM310.83 273.24h2.78v2.78h-2.78zM313.61 276.02h2.78v2.78h-2.78zM316.38 323.21h2.78v2.78h-2.78zM319.16 273.24h2.78v2.78h-2.78zM324.71 309.33h2.78v2.78h-2.78zM327.49 292.67h2.78v11.11h-2.78zM330.27 262.13h2.78v2.78h-2.78zM330.27 289.9h2.78v2.78h-2.78zM335.82 248.25h2.78v2.78h-2.78zM344.15 234.37h2.78v2.78h-2.78zM346.93 231.59h2.78v2.78h-2.78zM349.7 276.02h2.78v2.78h-2.78zM352.48 226.04h2.78v2.78h-2.78zM355.25 276.02h2.78v2.78h-2.78zM360.81 262.13h2.78v2.78h-2.78zM363.58 212.16h2.78v2.78h-2.78zM366.36 273.24h2.78v2.78h-2.78zM369.14 209.38h2.78v2.78h-2.78zM369.14 262.13h2.78v2.78h-2.78zM371.91 262.13h2.78v2.78h-2.78zM377.47 256.58h2.78v2.78h-2.78zM380.24 209.38h2.78v8.33h-2.78zM383.02 251.03h2.78v2.78h-2.78zM385.79 195.5h2.78v5.55h-2.78zM388.57 248.25h2.78v2.78h-2.78zM391.35 195.5h2.78v5.55h-2.78zM396.9 245.48h2.78v2.78h-2.78zM405.23 206.61h2.78v2.78h-2.78zM408.01 195.5h2.78v2.78h-2.78zM410.78 228.82h2.78v2.78h-2.78zM413.56 189.95h2.78v2.78h-2.78zM416.34 256.58h2.78v2.78h-2.78zM419.11 201.05h2.78v5.55h-2.78zM421.89 248.25h2.78v8.33h-2.78zM427.44 201.05h2.78v2.78h-2.78zM427.44 239.92h2.78v13.88h-2.78zM430.22 242.7h2.78v2.78h-2.78zM432.99 192.72h2.78v2.78h-2.78zM435.77 253.8h2.78v5.55h-2.78zM441.32 251.03h2.78v5.55h-2.78zM444.1 195.5h2.78v2.78h-2.78zM457.98 209.38h2.78v5.55h-2.78zM463.53 206.61h2.78v11.11h-2.78zM466.31 220.49h2.78v11.11h-2.78zM474.64 217.71h2.78v2.78h-2.78zM482.97 295.45h2.78v2.78h-2.78zM485.75 228.82h2.78v5.55h-2.78zM491.3 239.92h2.78v2.78h-2.78zM496.85 239.92h2.78v8.33h-2.78zM496.85 298.23h2.78v2.78h-2.78zM499.63 253.8h2.78v2.78h-2.78zM499.63 301h2.78v2.78h-2.78zM505.18 301h2.78v2.78h-2.78zM507.96 248.25h2.78v2.78h-2.78zM510.73 292.67h2.78v2.78h-2.78zM513.51 231.59h2.78v2.78h-2.78zM513.51 292.67h2.78v2.78h-2.78zM516.29 289.9h2.78v8.33h-2.78zM519.06 245.48h2.78v8.33h-2.78zM527.39 295.45h2.78v2.78h-2.78zM530.17 292.67h2.78v2.78h-2.78zM532.94 314.89h2.78v2.78h-2.78zM541.27 262.13h2.78v2.78h-2.78zM546.83 273.24h2.78v5.55h-2.78zM549.6 320.44h2.78v2.78h-2.78zM552.38 273.24h2.78v5.55h-2.78zM552.38 314.89h2.78v2.78h-2.78zM555.16 314.89h2.78v2.78h-2.78zM563.48 270.46h2.78v2.78h-2.78zM571.81 259.36h2.78v2.78h-2.78zM571.81 312.11h2.78v2.78h-2.78zM580.14 248.25h2.78v2.78h-2.78zM580.14 303.78h2.78v5.55h-2.78zM582.92 214.94h2.78v16.66h-2.78zM585.7 167.74h2.78v2.78h-2.78zM588.47 209.38h2.78v11.11h-2.78zM591.25 212.16h2.78v24.99h-2.78zM594.02 170.51h2.78v13.88h-2.78zM594.02 259.36h2.78v2.78h-2.78zM596.8 214.94h2.78v13.88h-2.78zM596.8 278.79h2.78v8.33h-2.78zM605.13 267.69h2.78v2.78h-2.78zM613.46 312.11h2.78v2.78h-2.78zM616.24 309.33h2.78v2.78h-2.78zM619.01 301h2.78v2.78h-2.78zM621.79 278.79h2.78v2.78h-2.78zM624.57 264.91h2.78v2.78h-2.78zM630.12 309.33h2.78v2.78h-2.78zM632.89 303.78h2.78v2.78h-2.78zM635.67 253.8h2.78v2.78h-2.78zM641.22 248.25h2.78v2.78h-2.78zM644 248.25h2.78v2.78h-2.78zM644 292.67h2.78v2.78h-2.78zM657.88 248.25h2.78v11.11h-2.78zM660.66 295.45h2.78v2.78h-2.78zM663.43 245.48h2.78v5.55h-2.78zM668.99 245.48h2.78v8.33h-2.78zM668.99 284.35h2.78v2.78h-2.78zM674.54 245.48h2.78v5.55h-2.78zM677.32 289.9h2.78v2.78h-2.78zM680.09 245.48h2.78v2.78h-2.78zM688.42 231.59h2.78v2.78h-2.78zM693.98 284.35h2.78v2.78h-2.78zM696.75 237.15h2.78v2.78h-2.78zM696.75 281.57h2.78v2.78h-2.78zM710.63 287.12h2.78v8.33h-2.78zM716.19 292.67h2.78v2.78h-2.78zM730.07 253.8h2.78v2.78h-2.78zM730.07 287.12h2.78v5.55h-2.78zM730.07 301h2.78v5.55h-2.78zM732.84 248.25h2.78v2.78h-2.78zM732.84 309.33h2.78v2.78h-2.78zM735.62 292.67h2.78v16.66h-2.78zM738.4 256.58h2.78v2.78h-2.78zM741.17 292.67h2.78v5.55h-2.78zM743.95 256.58h2.78v2.78h-2.78zM746.73 281.57h2.78v5.55h-2.78zM757.83 298.23h2.78v2.78h-2.78zM766.16 248.25h2.78v2.78h-2.78zM766.16 295.45h2.78v2.78h-2.78zM771.71 217.71h2.78v2.78h-2.78zM774.49 187.17h2.78v2.78h-2.78zM774.49 253.8h2.78v2.78h-2.78zM777.27 214.94h2.78v16.66h-2.78zM780.04 189.95h2.78v2.78h-2.78zM785.6 167.74h2.78v2.78h-2.78zM785.6 231.59h2.78v19.43h-2.78zM788.37 192.72h2.78v8.33h-2.78zM788.37 270.46h2.78v2.78h-2.78zM791.15 234.37h2.78v8.33h-2.78zM793.93 253.8h2.78v2.78h-2.78zM810.58 309.33h2.78v2.78h-2.78zM816.14 309.33h2.78v2.78h-2.78zM818.91 309.33h2.78v2.78h-2.78zM821.69 303.78h2.78v5.55h-2.78zM824.47 301h2.78v2.78h-2.78zM827.24 234.37h2.78v16.66h-2.78zM830.02 176.07h2.78v19.43h-2.78zM830.02 287.12h2.78v11.11h-2.78zM832.8 134.42h2.78v2.78h-2.78zM832.8 231.59h2.78v16.66h-2.78zM835.57 181.62h2.78v5.55h-2.78zM838.35 214.94h2.78v11.11h-2.78zM841.12 159.41h2.78v2.78h-2.78zM841.12 264.91h2.78v2.78h-2.78zM846.68 259.36h2.78v2.78h-2.78zM849.45 320.44h2.78v2.78h-2.78zM857.78 278.79h2.78v2.78h-2.78zM868.89 314.89h2.78v8.33h-2.78zM874.44 284.35h2.78v8.33h-2.78zM879.99 284.35h2.78v2.78h-2.78zM893.88 292.67h2.78v5.55h-2.78zM893.88 323.21h2.78v2.78h-2.78zM899.43 278.79h2.78v2.78h-2.78zM918.86 284.35h2.78v2.78h-2.78zM929.97 323.21h2.78v2.78h-2.78zM932.75 323.21h2.78v2.78h-2.78zM935.52 278.79h2.78v2.78h-2.78zM941.07 267.69h2.78v2.78h-2.78zM943.85 245.48h2.78v5.55h-2.78zM943.85 295.45h2.78v30.54h-2.78zM946.63 295.45h2.78v2.78h-2.78zM949.4 245.48h2.78v2.78h-2.78zM952.18 301h2.78v2.78h-2.78zM954.96 309.33h2.78v8.33h-2.78zM960.51 281.57h2.78v2.78h-2.78zM960.51 312.11h2.78v5.55h-2.78zM966.06 317.66h2.78v2.78h-2.78zM968.84 281.57h2.78v2.78h-2.78zM968.84 328.77h2.78v2.78h-2.78zM974.39 284.35h2.78v8.33h-2.78zM977.17 328.77h2.78v2.78h-2.78zM979.94 287.12h2.78v2.78h-2.78zM982.72 328.77h2.78v2.78h-2.78zM996.6 298.23h2.78v2.78h-2.78zM1002.16 323.21h2.78v11.11h-2.78zM1007.71 301h2.78v5.55h-2.78zM1007.71 334.32h2.78v2.78h-2.78zM1010.48 339.87h2.78v2.78h-2.78zM1018.81 342.65h2.78v2.78h-2.78zM1032.7 339.87h2.78v2.78h-2.78zM1035.47 301h2.78v2.78h-2.78zM1046.58 309.33h2.78v2.78h-2.78zM1057.68 348.2h2.78v2.78h-2.78zM1060.46 306.56h2.78v2.78h-2.78zM1066.01 314.89h2.78v2.78h-2.78zM1066.01 339.87h2.78v2.78h-2.78zM1074.34 337.1h2.78v5.55h-2.78zM1077.12 309.33h2.78v2.78h-2.78zM1079.89 312.11h2.78v2.78h-2.78zM1085.45 345.43h2.78v2.78h-2.78zM1091 342.65h2.78v2.78h-2.78zM1093.78 306.56h2.78v2.78h-2.78zM1093.78 339.87h2.78v2.78h-2.78zM1099.33 314.89h2.78v5.55h-2.78zM1102.11 320.44h2.78v2.78h-2.78zM1113.21 339.87h2.78v5.55h-2.78zM1115.99 312.11h2.78v2.78h-2.78zM1124.32 298.23h2.78v5.55h-2.78zM1124.32 339.87h2.78v2.78h-2.78zM1127.09 273.24h2.78v11.11h-2.78zM1127.09 337.1h2.78v2.78h-2.78zM1129.87 314.89h2.78v2.78h-2.78zM1135.42 306.56h2.78v16.66h-2.78zM1138.2 276.02h2.78v2.78h-2.78zM1138.2 325.99h2.78v2.78h-2.78zM1143.75 278.79h2.78v30.54h-2.78zM1160.41 345.43h2.78v2.78h-2.78zM1168.74 353.76h2.78v2.78h-2.78zM1171.52 314.89h2.78v8.33h-2.78zM1171.52 348.2h2.78v2.78h-2.78zM1177.07 314.89h2.78v2.78h-2.78zM1185.4 295.45h2.78v2.78h-2.78zM1193.73 342.65h2.78v2.78h-2.78zM1196.5 312.11h2.78v2.78h-2.78zM1196.5 345.43h2.78v2.78h-2.78zM1199.28 314.89h2.78v2.78h-2.78zM1199.28 342.65h2.78v2.78h-2.78zM1202.06 342.65h2.78v2.78h-2.78zM1215.94 292.67h2.78v2.78h-2.78zM1218.71 284.35h2.78v5.55h-2.78zM1221.49 259.36h2.78v2.78h-2.78zM1221.49 309.33h2.78v5.55h-2.78zM1224.27 223.26h2.78v19.43h-2.78zM1224.27 295.45h2.78v2.78h-2.78zM1227.04 264.91h2.78v5.55h-2.78zM1229.82 239.92h2.78v5.55h-2.78zM1229.82 251.03h2.78v2.78h-2.78zM1232.6 214.94h2.78v2.78h-2.78zM1232.6 256.58h2.78v13.88h-2.78zM1235.37 228.82h2.78v8.33h-2.78zM1238.15 262.13h2.78v11.11h-2.78zM1238.15 320.44h2.78v5.55h-2.78zM1240.93 292.67h2.78v11.11h-2.78zM1243.7 348.2h2.78v5.55h-2.78zM1246.48 356.53h2.78v2.78h-2.78zM1252.03 323.21h2.78v2.78h-2.78zM1257.58 323.21h2.78v5.55h-2.78zM1263.14 323.21h2.78v2.78h-2.78zM1265.91 328.77h2.78v2.78h-2.78zM1271.47 356.53h2.78v2.78h-2.78zM1279.8 359.31h2.78v2.78h-2.78zM1282.57 328.77h2.78v2.78h-2.78zM1299.23 337.1h2.78v2.78h-2.78zM1302.01 328.77h2.78v2.78h-2.78zM1302.01 362.08h2.78v2.78h-2.78zM1307.56 325.99h2.78v2.78h-2.78zM1307.56 364.86h2.78v2.78h-2.78zM1329.77 359.31h2.78v2.78h-2.78zM1332.55 323.21h2.78v2.78h-2.78zM1343.65 323.21h2.78v2.78h-2.78zM1346.43 359.31h2.78v2.78h-2.78zM1357.53 320.44h2.78v2.78h-2.78zM1360.31 323.21h2.78v2.78h-2.78zM1363.09 328.77h2.78v2.78h-2.78zM1368.64 367.64h2.78v2.78h-2.78zM1374.19 370.41h2.78v2.78h-2.78zM1376.97 331.54h2.78v2.78h-2.78zM1379.75 362.08h2.78v2.78h-2.78zM1385.3 331.54h2.78v2.78h-2.78zM1385.3 370.41h2.78v2.78h-2.78zM1393.63 364.86h2.78v2.78h-2.78zM1396.4 356.53h2.78v2.78h-2.78zM1399.18 353.76h2.78v2.78h-2.78zM1404.73 306.56h2.78v2.78h-2.78zM1407.51 325.99h2.78v2.78h-2.78zM1418.62 317.66h2.78v2.78h-2.78zM1421.39 312.11h2.78v2.78h-2.78zM1421.39 359.31h2.78v2.78h-2.78zM1426.94 362.08h2.78v2.78h-2.78zM1432.5 345.43h2.78v2.78h-2.78zM1435.27 298.23h2.78v8.33h-2.78zM1438.05 281.57h2.78v2.78h-2.78zM1438.05 325.99h2.78v2.78h-2.78zM1438.05 331.54h2.78v2.78h-2.78zM1440.83 314.89h2.78v2.78h-2.78zM1443.6 264.91h2.78v2.78h-2.78zM1446.38 273.24h2.78v2.78h-2.78zM1449.16 284.35h2.78v2.78h-2.78zM1449.16 334.32h2.78v11.11h-2.78zM1451.93 301h2.78v8.33h-2.78zM1457.49 328.77h2.78v2.78h-2.78zM1476.92 337.1h2.78v2.78h-2.78zM1490.8 331.54h2.78v2.78h-2.78zM1490.8 375.97h2.78v2.78h-2.78zM1493.58 378.74h2.78v8.33h-2.78zM1499.13 367.64h2.78v22.21h-2.78zM1501.91 334.32h2.78v2.78h-2.78zM1504.68 328.77h2.78v2.78h-2.78zM1510.24 331.54h2.78v5.55h-2.78zM1515.79 328.77h2.78v5.55h-2.78zM1515.79 362.08h2.78v2.78h-2.78zM1521.34 331.54h2.78v2.78h-2.78zM1521.34 362.08h2.78v2.78h-2.78zM1532.45 362.08h2.78v2.78h-2.78zM1538 328.77h2.78v11.11h-2.78zM1551.88 364.86h2.78v2.78h-2.78zM1557.44 337.1h2.78v5.55h-2.78zM1565.76 337.1h2.78v2.78h-2.78zM1571.32 334.32h2.78v2.78h-2.78zM1601.86 364.86h2.78v2.78h-2.78zM1604.63 317.66h2.78v13.88h-2.78zM1607.41 356.53h2.78v2.78h-2.78zM1610.19 317.66h2.78v2.78h-2.78zM1612.96 323.21h2.78v5.55h-2.78zM1618.52 334.32h2.78v5.55h-2.78zM1626.85 364.86h2.78v2.78h-2.78zM1629.62 337.1h2.78v2.78h-2.78zM1629.62 364.86h2.78v2.78h-2.78zM1632.4 337.1h2.78v2.78h-2.78zM1632.4 370.41h2.78v2.78h-2.78zM1635.17 331.54h2.78v2.78h-2.78zM1640.73 334.32h2.78v2.78h-2.78zM1643.5 337.1h2.78v2.78h-2.78zM1646.28 339.87h2.78v2.78h-2.78zM1646.28 362.08h2.78v2.78h-2.78zM1649.06 359.31h2.78v2.78h-2.78zM1651.83 337.1h2.78v2.78h-2.78zM1657.39 392.62h2.78v2.78h-2.78zM1662.94 375.97h2.78v2.78h-2.78zM1665.72 339.87h2.78v2.78h-2.78zM1665.72 373.19h2.78v2.78h-2.78zM1671.27 320.44h2.78v22.21h-2.78zM1671.27 370.41h2.78v2.78h-2.78zM1676.82 317.66h2.78v16.66h-2.78zM1685.15 356.53h2.78v5.55h-2.78zM1696.26 331.54h2.78v2.78h-2.78zM1701.81 334.32h2.78v2.78h-2.78zM1704.58 339.87h2.78v2.78h-2.78zM1707.36 331.54h2.78v8.33h-2.78zM1718.47 331.54h2.78v2.78h-2.78zM1732.35 364.86h2.78v2.78h-2.78zM1737.9 337.1h2.78v2.78h-2.78zM1737.9 362.08h2.78v2.78h-2.78zM1746.23 370.41h2.78v2.78h-2.78zM1754.56 342.65h2.78v2.78h-2.78zM1757.34 364.86h2.78v2.78h-2.78zM1787.88 359.31h2.78v8.33h-2.78zM1793.43 367.64h2.78v2.78h-2.78zM1796.21 339.87h2.78v5.55h-2.78zM1798.98 342.65h2.78v2.78h-2.78zM1801.76 331.54h2.78v2.78h-2.78zM1804.54 364.86h2.78v2.78h-2.78zM1812.86 364.86h2.78v2.78h-2.78zM1821.19 345.43h2.78v2.78h-2.78zM1829.52 364.86h2.78v2.78h-2.78zM1835.08 337.1h2.78v2.78h-2.78zM1837.85 328.77h2.78v2.78h-2.78zM1837.85 375.97h2.78v5.55h-2.78zM1843.4 342.65h2.78v5.55h-2.78zM1843.4 370.41h2.78v11.11h-2.78zM1848.96 339.87h2.78v2.78h-2.78zM1854.51 373.19h2.78v2.78h-2.78zM1862.84 325.99h2.78v16.66h-2.78zM1862.84 370.41h2.78v2.78h-2.78zM1868.39 323.21h2.78v16.66h-2.78zM1868.39 367.64h2.78v5.55h-2.78zM1873.95 370.41h2.78v5.55h-2.78zM1885.05 337.1h2.78v2.78h-2.78zM1885.05 367.64h2.78v2.78h-2.78zM1890.6 325.99h2.78v8.33h-2.78zM1890.6 364.86h2.78v5.55h-2.78zM1896.16 325.99h2.78v8.33h-2.78zM1896.16 375.97h2.78v2.78h-2.78zM1898.93 328.77h2.78v5.55h-2.78zM1912.81 337.1h2.78v2.78h-2.78zM1915.59 339.87h2.78v2.78h-2.78zM1915.59 375.97h2.78v2.78h-2.78zM1929.47 337.1h2.78v2.78h-2.78zM1932.25 334.32h2.78v2.78h-2.78zM1932.25 367.64h2.78v2.78h-2.78zM1943.36 348.2h2.78v2.78h-2.78zM1951.68 348.2h2.78v2.78h-2.78zM1954.46 373.19h2.78v2.78h-2.78zM1962.79 367.64h2.78v8.33h-2.78zM1971.12 348.2h2.78v16.66h-2.78z"/>
<path fill="#00B068" d="M174.79 289.9h2.78v2.78h-2.78zM177.56 267.69h2.78v41.65h-2.78zM180.34 264.91h2.78v38.87h-2.78zM183.12 267.69h2.78v36.09h-2.78zM185.89 270.46h2.78v44.42h-2.78zM188.67 273.24h2.78v47.2h-2.78zM191.45 276.02h2.78v38.87h-2.78zM194.22 281.57h2.78v30.54h-2.78zM197 278.79h2.78v44.42h-2.78zM199.78 281.57h2.78v44.42h-2.78zM202.55 281.57h2.78v44.42h-2.78zM205.33 298.23h2.78v30.54h-2.78zM208.11 284.35h2.78v52.75h-2.78zM210.88 284.35h2.78v52.75h-2.78zM213.66 292.67h2.78v27.76h-2.78zM216.43 292.67h2.78v38.87h-2.78zM219.21 295.45h2.78v44.42h-2.78zM221.99 292.67h2.78v49.98h-2.78zM224.76 295.45h2.78v58.3h-2.78zM227.54 298.23h2.78v44.42h-2.78zM230.32 295.45h2.78v47.2h-2.78zM233.09 295.45h2.78v47.2h-2.78zM235.87 312.11h2.78v22.21h-2.78zM238.65 309.33h2.78v22.21h-2.78zM241.42 306.56h2.78v30.54h-2.78zM244.2 309.33h2.78v33.32h-2.78zM246.97 281.57h2.78v61.08h-2.78zM249.75 281.57h2.78v52.75h-2.78zM252.53 295.45h2.78v38.87h-2.78zM255.3 289.9h2.78v47.2h-2.78zM258.08 287.12h2.78v47.2h-2.78zM260.86 284.35h2.78v52.75h-2.78zM263.63 295.45h2.78v44.42h-2.78zM266.41 295.45h2.78v44.42h-2.78zM269.19 276.02h2.78v61.08h-2.78zM271.96 253.8h2.78v63.86h-2.78zM274.74 262.13h2.78v69.41h-2.78zM277.52 298.23h2.78v36.09h-2.78zM280.29 298.23h2.78v36.09h-2.78zM283.07 295.45h2.78v44.42h-2.78zM285.84 298.23h2.78v44.42h-2.78zM288.62 298.23h2.78v36.09h-2.78zM291.4 281.57h2.78v55.53h-2.78zM294.17 281.57h2.78v58.3h-2.78zM296.95 303.78h2.78v38.87h-2.78zM299.73 303.78h2.78v24.99h-2.78zM302.5 301h2.78v24.99h-2.78zM305.28 292.67h2.78v41.65h-2.78zM308.06 276.02h2.78v52.75h-2.78zM310.83 276.02h2.78v38.87h-2.78zM313.61 278.79h2.78v33.32h-2.78zM316.38 276.02h2.78v47.2h-2.78zM319.16 276.02h2.78v49.98h-2.78zM321.94 267.69h2.78v44.42h-2.78zM324.71 256.58h2.78v52.75h-2.78zM327.49 256.58h2.78v36.09h-2.78zM330.27 264.91h2.78v24.99h-2.78zM333.04 251.03h2.78v41.65h-2.78zM335.82 251.03h2.78v30.54h-2.78zM338.6 251.03h2.78v38.87h-2.78zM341.37 245.48h2.78v44.42h-2.78zM344.15 237.15h2.78v52.75h-2.78zM346.93 234.37h2.78v47.2h-2.78zM349.7 228.82h2.78v47.2h-2.78zM352.48 228.82h2.78v47.2h-2.78zM355.25 214.94h2.78v61.08h-2.78zM358.03 212.16h2.78v66.63h-2.78zM360.81 212.16h2.78v49.98h-2.78zM363.58 214.94h2.78v58.3h-2.78zM366.36 212.16h2.78v61.08h-2.78zM369.14 212.16h2.78v49.98h-2.78zM371.91 214.94h2.78v47.2h-2.78zM374.69 217.71h2.78v38.87h-2.78zM377.47 217.71h2.78v38.87h-2.78zM380.24 217.71h2.78v36.09h-2.78zM383.02 206.61h2.78v44.42h-2.78zM385.79 201.05h2.78v49.98h-2.78zM388.57 192.72h2.78v55.53h-2.78zM391.35 201.05h2.78v47.2h-2.78zM394.12 212.16h2.78v36.09h-2.78zM396.9 212.16h2.78v33.32h-2.78zM399.68 203.83h2.78v44.42h-2.78zM402.45 201.05h2.78v49.98h-2.78zM405.23 209.38h2.78v41.65h-2.78zM408.01 198.28h2.78v49.98h-2.78zM410.78 195.5h2.78v33.32h-2.78zM413.56 192.72h2.78v41.65h-2.78zM416.34 192.72h2.78v63.86h-2.78zM419.11 206.61h2.78v49.98h-2.78zM421.89 220.49h2.78v27.76h-2.78zM424.66 203.83h2.78v52.75h-2.78zM427.44 203.83h2.78v36.09h-2.78zM430.22 203.83h2.78v38.87h-2.78zM432.99 195.5h2.78v49.98h-2.78zM435.77 189.95h2.78v63.86h-2.78zM438.55 189.95h2.78v69.41h-2.78zM441.32 203.83h2.78v47.2h-2.78zM444.1 198.28h2.78v52.75h-2.78zM446.88 198.28h2.78v52.75h-2.78zM449.65 209.38h2.78v38.87h-2.78zM452.43 209.38h2.78v44.42h-2.78zM455.2 214.94h2.78v38.87h-2.78zM457.98 214.94h2.78v41.65h-2.78zM460.76 206.61h2.78v58.3h-2.78zM463.53 217.71h2.78v49.98h-2.78zM466.31 231.59h2.78v36.09h-2.78zM469.09 226.04h2.78v58.3h-2.78zM471.86 223.26h2.78v61.08h-2.78zM474.64 220.49h2.78v52.75h-2.78zM477.42 220.49h2.78v49.98h-2.78zM480.19 228.82h2.78v66.63h-2.78zM482.97 226.04h2.78v69.41h-2.78zM485.75 234.37h2.78v47.2h-2.78zM488.52 237.15h2.78v44.42h-2.78zM491.3 242.7h2.78v47.2h-2.78zM494.07 237.15h2.78v52.75h-2.78zM496.85 248.25h2.78v49.98h-2.78zM499.63 256.58h2.78v44.42h-2.78zM502.4 242.7h2.78v63.86h-2.78zM505.18 239.92h2.78v58.3h-2.78zM507.96 251.03h2.78v44.42h-2.78zM510.73 251.03h2.78v41.65h-2.78zM513.51 234.37h2.78v58.3h-2.78zM516.29 231.59h2.78v58.3h-2.78zM519.06 253.8h2.78v47.2h-2.78zM521.84 245.48h2.78v52.75h-2.78zM524.61 245.48h2.78v52.75h-2.78zM527.39 256.58h2.78v38.87h-2.78zM530.17 259.36h2.78v33.32h-2.78zM532.94 262.13h2.78v52.75h-2.78zM535.72 267.69h2.78v49.98h-2.78zM538.5 262.13h2.78v55.53h-2.78zM541.27 264.91h2.78v52.75h-2.78zM544.05 276.02h2.78v41.65h-2.78zM546.83 278.79h2.78v44.42h-2.78zM549.6 270.46h2.78v49.98h-2.78zM552.38 278.79h2.78v36.09h-2.78zM555.16 281.57h2.78v33.32h-2.78zM557.93 273.24h2.78v44.42h-2.78zM560.71 273.24h2.78v44.42h-2.78zM563.48 273.24h2.78v44.42h-2.78zM566.26 273.24h2.78v38.87h-2.78zM569.04 264.91h2.78v47.2h-2.78zM571.81 262.13h2.78v49.98h-2.78zM574.59 262.13h2.78v49.98h-2.78zM577.37 264.91h2.78v47.2h-2.78zM580.14 251.03h2.78v52.75h-2.78zM582.92 231.59h2.78v61.08h-2.78zM585.7 170.51h2.78v83.29h-2.78zM588.47 162.18h2.78v47.2h-2.78zM591.25 159.41h2.78v52.75h-2.78zM594.02 184.39h2.78v74.96h-2.78zM596.8 228.82h2.78v49.98h-2.78zM599.58 251.03h2.78v58.3h-2.78zM602.35 270.46h2.78v41.65h-2.78zM605.13 270.46h2.78v33.32h-2.78zM607.91 264.91h2.78v44.42h-2.78zM610.68 267.69h2.78v47.2h-2.78zM613.46 270.46h2.78v41.65h-2.78zM616.24 276.02h2.78v33.32h-2.78zM619.01 278.79h2.78v22.21h-2.78zM621.79 281.57h2.78v22.21h-2.78zM624.57 267.69h2.78v36.09h-2.78zM627.34 264.91h2.78v47.2h-2.78zM630.12 264.91h2.78v44.42h-2.78zM632.89 256.58h2.78v47.2h-2.78zM635.67 256.58h2.78v38.87h-2.78zM638.45 253.8h2.78v41.65h-2.78zM641.22 251.03h2.78v41.65h-2.78zM644 251.03h2.78v41.65h-2.78zM646.78 251.03h2.78v47.2h-2.78zM649.55 251.03h2.78v47.2h-2.78zM652.33 251.03h2.78v49.98h-2.78zM655.11 262.13h2.78v38.87h-2.78zM657.88 259.36h2.78v36.09h-2.78zM660.66 245.48h2.78v49.98h-2.78zM663.43 251.03h2.78v47.2h-2.78zM666.21 253.8h2.78v47.2h-2.78zM668.99 253.8h2.78v30.54h-2.78zM671.76 242.7h2.78v41.65h-2.78zM674.54 251.03h2.78v38.87h-2.78zM677.32 251.03h2.78v38.87h-2.78zM680.09 248.25h2.78v38.87h-2.78zM682.87 242.7h2.78v44.42h-2.78zM685.65 234.37h2.78v55.53h-2.78zM688.42 234.37h2.78v55.53h-2.78zM691.2 237.15h2.78v49.98h-2.78zM693.98 248.25h2.78v36.09h-2.78zM696.75 239.92h2.78v38.87h-2.78zM699.53 239.92h2.78v58.3h-2.78zM702.3 239.92h2.78v55.53h-2.78zM705.08 239.92h2.78v47.2h-2.78zM707.86 251.03h2.78v36.09h-2.78zM710.63 253.8h2.78v33.32h-2.78zM713.41 248.25h2.78v49.98h-2.78zM716.19 248.25h2.78v44.42h-2.78zM718.96 253.8h2.78v38.87h-2.78zM721.74 256.58h2.78v44.42h-2.78zM724.52 251.03h2.78v49.98h-2.78zM727.29 251.03h2.78v49.98h-2.78zM730.07 256.58h2.78v30.54h-2.78zM732.84 251.03h2.78v58.3h-2.78zM735.62 248.25h2.78v44.42h-2.78zM738.4 259.36h2.78v33.32h-2.78zM741.17 259.36h2.78v33.32h-2.78zM743.95 259.36h2.78v38.87h-2.78zM746.73 248.25h2.78v33.32h-2.78zM749.5 245.48h2.78v36.09h-2.78zM752.28 251.03h2.78v38.87h-2.78zM755.06 251.03h2.78v49.98h-2.78zM757.83 262.13h2.78v36.09h-2.78zM760.61 262.13h2.78v33.32h-2.78zM763.39 259.36h2.78v36.09h-2.78zM766.16 251.03h2.78v44.42h-2.78zM768.94 248.25h2.78v44.42h-2.78zM771.71 220.49h2.78v55.53h-2.78zM774.49 189.95h2.78v63.86h-2.78zM777.27 159.41h2.78v55.53h-2.78zM780.04 151.08h2.78v38.87h-2.78zM780.04 192.72h2.78v8.33h-2.78zM782.82 151.08h2.78v47.2h-2.78zM785.6 170.51h2.78v61.08h-2.78zM788.37 201.05h2.78v69.41h-2.78zM791.15 242.7h2.78v49.98h-2.78zM793.93 256.58h2.78v44.42h-2.78zM796.7 256.58h2.78v47.2h-2.78zM799.48 276.02h2.78v33.32h-2.78zM802.25 276.02h2.78v33.32h-2.78zM805.03 276.02h2.78v33.32h-2.78zM807.81 270.46h2.78v38.87h-2.78zM810.58 270.46h2.78v38.87h-2.78zM813.36 276.02h2.78v36.09h-2.78zM816.14 273.24h2.78v36.09h-2.78zM818.91 270.46h2.78v38.87h-2.78zM821.69 259.36h2.78v44.42h-2.78zM824.47 259.36h2.78v41.65h-2.78zM827.24 251.03h2.78v49.98h-2.78zM830.02 195.5h2.78v91.62h-2.78zM832.8 137.2h2.78v94.4h-2.78zM835.57 128.87h2.78v52.75h-2.78zM838.35 128.87h2.78v86.07h-2.78zM841.12 162.18h2.78v102.73h-2.78zM843.9 217.71h2.78v69.41h-2.78zM846.68 262.13h2.78v47.2h-2.78zM849.45 264.91h2.78v55.53h-2.78zM852.23 281.57h2.78v41.65h-2.78zM855.01 278.79h2.78v44.42h-2.78zM857.78 281.57h2.78v44.42h-2.78zM860.56 281.57h2.78v44.42h-2.78zM863.34 281.57h2.78v41.65h-2.78zM866.11 287.12h2.78v36.09h-2.78zM868.89 289.9h2.78v24.99h-2.78zM871.66 292.67h2.78v30.54h-2.78zM874.44 292.67h2.78v30.54h-2.78zM877.22 281.57h2.78v41.65h-2.78zM879.99 287.12h2.78v41.65h-2.78zM882.77 287.12h2.78v41.65h-2.78zM885.55 292.67h2.78v38.87h-2.78zM888.32 292.67h2.78v44.42h-2.78zM891.1 298.23h2.78v38.87h-2.78zM893.88 298.23h2.78v24.99h-2.78zM896.65 289.9h2.78v33.32h-2.78zM899.43 281.57h2.78v44.42h-2.78zM902.21 278.79h2.78v52.75h-2.78zM904.98 289.9h2.78v38.87h-2.78zM907.76 287.12h2.78v33.32h-2.78zM910.53 287.12h2.78v52.75h-2.78zM913.31 289.9h2.78v49.98h-2.78zM916.09 292.67h2.78v27.76h-2.78zM918.86 287.12h2.78v33.32h-2.78zM921.64 281.57h2.78v52.75h-2.78zM924.42 281.57h2.78v52.75h-2.78zM927.19 284.35h2.78v41.65h-2.78zM929.97 278.79h2.78v44.42h-2.78zM932.75 278.79h2.78v44.42h-2.78zM935.52 281.57h2.78v44.42h-2.78zM938.3 287.12h2.78v41.65h-2.78zM941.07 270.46h2.78v58.3h-2.78zM943.85 251.03h2.78v44.42h-2.78zM946.63 242.7h2.78v52.75h-2.78zM949.4 248.25h2.78v52.75h-2.78zM952.18 273.24h2.78v27.76h-2.78zM954.96 281.57h2.78v27.76h-2.78zM957.73 281.57h2.78v38.87h-2.78zM960.51 284.35h2.78v27.76h-2.78zM963.29 284.35h2.78v27.76h-2.78zM966.06 284.35h2.78v33.32h-2.78zM968.84 284.35h2.78v44.42h-2.78zM971.62 281.57h2.78v47.2h-2.78zM974.39 292.67h2.78v38.87h-2.78zM977.17 292.67h2.78v36.09h-2.78zM979.94 289.9h2.78v41.65h-2.78zM982.72 287.12h2.78v41.65h-2.78zM985.5 289.9h2.78v33.32h-2.78zM988.27 292.67h2.78v33.32h-2.78zM991.05 295.45h2.78v30.54h-2.78zM993.83 298.23h2.78v27.76h-2.78zM996.6 301h2.78v24.99h-2.78zM999.38 284.35h2.78v41.65h-2.78zM1002.16 284.35h2.78v38.87h-2.78zM1004.93 298.23h2.78v38.87h-2.78zM1007.71 306.56h2.78v27.76h-2.78zM1010.48 301h2.78v38.87h-2.78zM1013.26 301h2.78v38.87h-2.78zM1016.04 303.78h2.78v38.87h-2.78zM1018.81 303.78h2.78v38.87h-2.78zM1021.59 303.78h2.78v38.87h-2.78zM1024.37 301h2.78v36.09h-2.78zM1027.14 301h2.78v38.87h-2.78zM1029.92 303.78h2.78v36.09h-2.78zM1032.7 301h2.78v38.87h-2.78zM1035.47 303.78h2.78v38.87h-2.78zM1038.25 303.78h2.78v44.42h-2.78zM1041.03 309.33h2.78v36.09h-2.78zM1043.8 309.33h2.78v38.87h-2.78zM1046.58 312.11h2.78v38.87h-2.78zM1049.35 312.11h2.78v38.87h-2.78zM1052.13 309.33h2.78v36.09h-2.78zM1054.91 309.33h2.78v38.87h-2.78zM1057.68 309.33h2.78v38.87h-2.78zM1060.46 309.33h2.78v36.09h-2.78zM1063.24 306.56h2.78v38.87h-2.78zM1066.01 317.66h2.78v22.21h-2.78zM1068.79 314.89h2.78v24.99h-2.78zM1071.57 303.78h2.78v36.09h-2.78zM1074.34 303.78h2.78v33.32h-2.78zM1077.12 312.11h2.78v38.87h-2.78zM1079.89 314.89h2.78v36.09h-2.78zM1082.67 312.11h2.78v33.32h-2.78zM1085.45 301h2.78v44.42h-2.78zM1088.22 301h2.78v44.42h-2.78zM1091 306.56h2.78v36.09h-2.78zM1093.78 309.33h2.78v30.54h-2.78zM1096.55 309.33h2.78v33.32h-2.78zM1099.33 320.44h2.78v19.43h-2.78zM1102.11 323.21h2.78v22.21h-2.78zM1104.88 301h2.78v44.42h-2.78zM1107.66 301h2.78v41.65h-2.78zM1110.44 314.89h2.78v27.76h-2.78zM1113.21 314.89h2.78v24.99h-2.78zM1115.99 314.89h2.78v33.32h-2.78zM1118.76 312.11h2.78v33.32h-2.78zM1121.54 309.33h2.78v36.09h-2.78zM1124.32 303.78h2.78v36.09h-2.78zM1127.09 284.35h2.78v52.75h-2.78zM1129.87 270.46h2.78v44.42h-2.78zM1132.65 270.46h2.78v22.21h-2.78zM1135.42 270.46h2.78v36.09h-2.78zM1138.2 278.79h2.78v47.2h-2.78zM1140.98 276.02h2.78v61.08h-2.78zM1143.75 309.33h2.78v38.87h-2.78zM1146.53 312.11h2.78v36.09h-2.78zM1149.3 317.66h2.78v24.99h-2.78zM1152.08 320.44h2.78v24.99h-2.78zM1154.86 317.66h2.78v27.76h-2.78zM1157.63 317.66h2.78v24.99h-2.78zM1160.41 309.33h2.78v36.09h-2.78zM1163.19 309.33h2.78v38.87h-2.78zM1165.96 320.44h2.78v36.09h-2.78zM1168.74 323.21h2.78v30.54h-2.78zM1171.52 323.21h2.78v24.99h-2.78zM1174.29 312.11h2.78v33.32h-2.78zM1177.07 317.66h2.78v27.76h-2.78zM1179.85 317.66h2.78v27.76h-2.78zM1182.62 317.66h2.78v27.76h-2.78zM1185.4 298.23h2.78v52.75h-2.78zM1188.17 295.45h2.78v52.75h-2.78zM1190.95 306.56h2.78v36.09h-2.78zM1193.73 309.33h2.78v33.32h-2.78zM1196.5 314.89h2.78v30.54h-2.78zM1199.28 317.66h2.78v24.99h-2.78zM1202.06 309.33h2.78v33.32h-2.78zM1204.83 306.56h2.78v36.09h-2.78zM1207.61 312.11h2.78v33.32h-2.78zM1210.39 298.23h2.78v49.98h-2.78zM1213.16 295.45h2.78v47.2h-2.78zM1215.94 295.45h2.78v41.65h-2.78zM1218.71 289.9h2.78v38.87h-2.78zM1221.49 262.13h2.78v47.2h-2.78zM1221.49 314.89h2.78v11.11h-2.78zM1224.27 242.7h2.78v52.75h-2.78zM1227.04 209.38h2.78v55.53h-2.78zM1229.82 206.61h2.78v33.32h-2.78zM1232.6 217.71h2.78v38.87h-2.78zM1235.37 237.15h2.78v74.96h-2.78zM1238.15 273.24h2.78v47.2h-2.78zM1240.93 303.78h2.78v33.32h-2.78zM1243.7 312.11h2.78v27.76h-2.78zM1246.48 320.44h2.78v36.09h-2.78zM1249.26 320.44h2.78v41.65h-2.78zM1252.03 325.99h2.78v36.09h-2.78zM1254.81 328.77h2.78v30.54h-2.78zM1257.58 328.77h2.78v24.99h-2.78zM1260.36 320.44h2.78v47.2h-2.78zM1263.14 325.99h2.78v41.65h-2.78zM1265.91 331.54h2.78v30.54h-2.78zM1268.69 325.99h2.78v33.32h-2.78zM1271.47 323.21h2.78v33.32h-2.78zM1274.24 323.21h2.78v33.32h-2.78zM1277.02 323.21h2.78v33.32h-2.78zM1279.8 323.21h2.78v36.09h-2.78zM1282.57 331.54h2.78v30.54h-2.78zM1285.35 331.54h2.78v27.76h-2.78zM1288.12 337.1h2.78v22.21h-2.78zM1290.9 334.32h2.78v24.99h-2.78zM1293.68 328.77h2.78v27.76h-2.78zM1296.45 328.77h2.78v38.87h-2.78zM1299.23 339.87h2.78v27.76h-2.78zM1302.01 331.54h2.78v30.54h-2.78zM1304.78 325.99h2.78v41.65h-2.78zM1307.56 328.77h2.78v36.09h-2.78zM1310.34 325.99h2.78v30.54h-2.78zM1313.11 325.99h2.78v30.54h-2.78zM1315.89 328.77h2.78v24.99h-2.78zM1318.67 328.77h2.78v24.99h-2.78zM1321.44 328.77h2.78v24.99h-2.78zM1324.22 328.77h2.78v27.76h-2.78zM1326.99 325.99h2.78v36.09h-2.78zM1329.77 325.99h2.78v33.32h-2.78zM1332.55 325.99h2.78v27.76h-2.78zM1335.32 314.89h2.78v49.98h-2.78zM1338.1 312.11h2.78v52.75h-2.78zM1340.88 320.44h2.78v30.54h-2.78zM1343.65 325.99h2.78v36.09h-2.78zM1346.43 328.77h2.78v30.54h-2.78zM1349.21 314.89h2.78v36.09h-2.78zM1351.98 314.89h2.78v36.09h-2.78zM1354.76 317.66h2.78v33.32h-2.78zM1357.53 323.21h2.78v36.09h-2.78zM1360.31 325.99h2.78v36.09h-2.78zM1363.09 331.54h2.78v24.99h-2.78zM1365.86 320.44h2.78v44.42h-2.78zM1368.64 323.21h2.78v44.42h-2.78zM1371.42 339.87h2.78v33.32h-2.78zM1374.19 334.32h2.78v36.09h-2.78zM1376.97 334.32h2.78v27.76h-2.78zM1379.75 320.44h2.78v41.65h-2.78zM1382.52 320.44h2.78v44.42h-2.78zM1385.3 334.32h2.78v36.09h-2.78zM1388.08 331.54h2.78v41.65h-2.78zM1390.85 331.54h2.78v36.09h-2.78zM1393.63 331.54h2.78v33.32h-2.78zM1396.4 328.77h2.78v27.76h-2.78zM1399.18 323.21h2.78v30.54h-2.78zM1401.96 309.33h2.78v30.54h-2.78zM1404.73 309.33h2.78v27.76h-2.78zM1407.51 298.23h2.78v27.76h-2.78zM1410.29 301h2.78v27.76h-2.78zM1413.06 309.33h2.78v30.54h-2.78zM1415.84 309.33h2.78v30.54h-2.78zM1418.62 320.44h2.78v27.76h-2.78zM1421.39 314.89h2.78v44.42h-2.78zM1424.17 314.89h2.78v49.98h-2.78zM1426.94 331.54h2.78v30.54h-2.78zM1429.72 323.21h2.78v33.32h-2.78zM1432.5 320.44h2.78v24.99h-2.78zM1435.27 306.56h2.78v33.32h-2.78zM1438.05 284.35h2.78v41.65h-2.78zM1438.05 328.77h2.78v2.78h-2.78zM1440.83 267.69h2.78v47.2h-2.78zM1443.6 267.69h2.78v36.09h-2.78zM1446.38 276.02h2.78v38.87h-2.78zM1449.16 287.12h2.78v47.2h-2.78zM1451.93 309.33h2.78v52.75h-2.78zM1454.71 325.99h2.78v36.09h-2.78zM1457.49 331.54h2.78v33.32h-2.78zM1460.26 320.44h2.78v47.2h-2.78zM1463.04 323.21h2.78v33.32h-2.78zM1465.81 337.1h2.78v24.99h-2.78zM1468.59 328.77h2.78v36.09h-2.78zM1471.37 328.77h2.78v36.09h-2.78zM1474.14 339.87h2.78v27.76h-2.78zM1476.92 339.87h2.78v30.54h-2.78zM1479.7 331.54h2.78v38.87h-2.78zM1482.47 331.54h2.78v33.32h-2.78zM1485.25 334.32h2.78v47.2h-2.78zM1488.03 331.54h2.78v49.98h-2.78zM1490.8 334.32h2.78v41.65h-2.78zM1493.58 337.1h2.78v41.65h-2.78zM1496.35 337.1h2.78v52.75h-2.78zM1499.13 334.32h2.78v33.32h-2.78zM1501.91 337.1h2.78v27.76h-2.78zM1504.68 331.54h2.78v33.32h-2.78zM1507.46 328.77h2.78v41.65h-2.78zM1510.24 337.1h2.78v33.32h-2.78zM1513.01 337.1h2.78v24.99h-2.78zM1515.79 334.32h2.78v27.76h-2.78zM1518.57 328.77h2.78v36.09h-2.78zM1521.34 334.32h2.78v27.76h-2.78zM1524.12 334.32h2.78v33.32h-2.78zM1526.9 334.32h2.78v33.32h-2.78zM1529.67 328.77h2.78v38.87h-2.78zM1532.45 325.99h2.78v36.09h-2.78zM1535.22 328.77h2.78v33.32h-2.78zM1538 339.87h2.78v22.21h-2.78zM1540.78 339.87h2.78v22.21h-2.78zM1543.55 339.87h2.78v27.76h-2.78zM1546.33 334.32h2.78v33.32h-2.78zM1549.11 331.54h2.78v38.87h-2.78zM1551.88 331.54h2.78v33.32h-2.78zM1554.66 342.65h2.78v19.43h-2.78zM1557.44 342.65h2.78v19.43h-2.78zM1560.21 337.1h2.78v22.21h-2.78zM1562.99 337.1h2.78v22.21h-2.78zM1565.76 339.87h2.78v19.43h-2.78zM1568.54 334.32h2.78v27.76h-2.78zM1571.32 337.1h2.78v27.76h-2.78zM1574.09 337.1h2.78v27.76h-2.78zM1576.87 339.87h2.78v19.43h-2.78zM1579.65 339.87h2.78v24.99h-2.78zM1582.42 339.87h2.78v24.99h-2.78zM1585.2 334.32h2.78v27.76h-2.78zM1587.98 334.32h2.78v27.76h-2.78zM1590.75 339.87h2.78v22.21h-2.78zM1593.53 337.1h2.78v22.21h-2.78zM1596.31 337.1h2.78v19.43h-2.78zM1599.08 337.1h2.78v30.54h-2.78zM1601.86 334.32h2.78v30.54h-2.78zM1604.63 331.54h2.78v24.99h-2.78zM1607.41 314.89h2.78v41.65h-2.78zM1610.19 320.44h2.78v38.87h-2.78zM1612.96 328.77h2.78v27.76h-2.78zM1615.74 331.54h2.78v24.99h-2.78zM1618.52 339.87h2.78v24.99h-2.78zM1621.29 337.1h2.78v30.54h-2.78zM1624.07 337.1h2.78v27.76h-2.78zM1626.85 337.1h2.78v27.76h-2.78zM1629.62 339.87h2.78v24.99h-2.78zM1632.4 339.87h2.78v30.54h-2.78zM1635.17 334.32h2.78v36.09h-2.78zM1637.95 331.54h2.78v30.54h-2.78zM1640.73 337.1h2.78v24.99h-2.78zM1643.5 339.87h2.78v24.99h-2.78zM1646.28 342.65h2.78v19.43h-2.78zM1649.06 339.87h2.78v19.43h-2.78zM1651.83 339.87h2.78v24.99h-2.78zM1654.61 339.87h2.78v52.75h-2.78zM1657.39 345.43h2.78v47.2h-2.78zM1660.16 345.43h2.78v30.54h-2.78zM1662.94 339.87h2.78v36.09h-2.78zM1665.72 342.65h2.78v30.54h-2.78zM1668.49 345.43h2.78v27.76h-2.78zM1671.27 342.65h2.78v27.76h-2.78zM1674.04 317.66h2.78v47.2h-2.78zM1676.82 334.32h2.78v33.32h-2.78zM1679.6 339.87h2.78v27.76h-2.78zM1682.37 337.1h2.78v27.76h-2.78zM1685.15 314.89h2.78v38.87h-2.78zM1687.93 314.89h2.78v38.87h-2.78zM1690.7 320.44h2.78v41.65h-2.78zM1693.48 331.54h2.78v30.54h-2.78zM1696.26 334.32h2.78v27.76h-2.78zM1699.03 334.32h2.78v27.76h-2.78zM1701.81 337.1h2.78v24.99h-2.78zM1704.58 342.65h2.78v19.43h-2.78zM1707.36 339.87h2.78v22.21h-2.78zM1710.14 328.77h2.78v36.09h-2.78zM1712.91 331.54h2.78v33.32h-2.78zM1715.69 334.32h2.78v30.54h-2.78zM1718.47 334.32h2.78v30.54h-2.78zM1721.24 317.66h2.78v47.2h-2.78zM1724.02 320.44h2.78v44.42h-2.78zM1726.8 337.1h2.78v30.54h-2.78zM1729.57 337.1h2.78v33.32h-2.78zM1732.35 337.1h2.78v27.76h-2.78zM1735.13 342.65h2.78v22.21h-2.78zM1737.9 339.87h2.78v22.21h-2.78zM1740.68 337.1h2.78v24.99h-2.78zM1743.45 337.1h2.78v24.99h-2.78zM1746.23 337.1h2.78v33.32h-2.78zM1749.01 345.43h2.78v24.99h-2.78zM1751.78 342.65h2.78v27.76h-2.78zM1754.56 345.43h2.78v24.99h-2.78zM1757.34 342.65h2.78v22.21h-2.78zM1760.11 348.2h2.78v22.21h-2.78zM1762.89 348.2h2.78v19.43h-2.78zM1765.67 342.65h2.78v27.76h-2.78zM1768.44 328.77h2.78v41.65h-2.78zM1771.22 328.77h2.78v44.42h-2.78zM1773.99 342.65h2.78v30.54h-2.78zM1776.77 334.32h2.78v30.54h-2.78zM1779.55 334.32h2.78v27.76h-2.78zM1782.32 342.65h2.78v19.43h-2.78zM1785.1 339.87h2.78v19.43h-2.78zM1787.88 328.77h2.78v30.54h-2.78zM1790.65 328.77h2.78v38.87h-2.78zM1793.43 337.1h2.78v30.54h-2.78zM1796.21 345.43h2.78v24.99h-2.78zM1798.98 345.43h2.78v22.21h-2.78zM1801.76 334.32h2.78v33.32h-2.78zM1804.54 331.54h2.78v33.32h-2.78zM1807.31 342.65h2.78v27.76h-2.78zM1810.09 342.65h2.78v27.76h-2.78zM1812.86 342.65h2.78v22.21h-2.78zM1815.64 339.87h2.78v27.76h-2.78zM1818.42 345.43h2.78v22.21h-2.78zM1821.19 348.2h2.78v19.43h-2.78zM1823.97 342.65h2.78v24.99h-2.78zM1826.75 339.87h2.78v27.76h-2.78zM1829.52 337.1h2.78v27.76h-2.78zM1832.3 339.87h2.78v49.98h-2.78zM1835.08 339.87h2.78v47.2h-2.78zM1837.85 331.54h2.78v44.42h-2.78zM1840.63 328.77h2.78v55.53h-2.78zM1843.4 348.2h2.78v22.21h-2.78zM1846.18 339.87h2.78v30.54h-2.78zM1848.96 342.65h2.78v27.76h-2.78zM1851.73 348.2h2.78v24.99h-2.78zM1854.51 350.98h2.78v22.21h-2.78zM1857.29 345.43h2.78v19.43h-2.78zM1860.06 342.65h2.78v22.21h-2.78zM1862.84 342.65h2.78v27.76h-2.78zM1865.62 323.21h2.78v47.2h-2.78zM1868.39 339.87h2.78v27.76h-2.78zM1871.17 339.87h2.78v36.09h-2.78zM1873.95 339.87h2.78v30.54h-2.78zM1876.72 342.65h2.78v27.76h-2.78zM1879.5 337.1h2.78v30.54h-2.78zM1882.27 337.1h2.78v24.99h-2.78zM1885.05 339.87h2.78v27.76h-2.78zM1887.83 334.32h2.78v38.87h-2.78zM1890.6 334.32h2.78v30.54h-2.78zM1893.38 323.21h2.78v49.98h-2.78zM1896.16 334.32h2.78v41.65h-2.78zM1898.93 334.32h2.78v44.42h-2.78zM1901.71 323.21h2.78v44.42h-2.78zM1904.49 323.21h2.78v44.42h-2.78zM1907.26 345.43h2.78v22.21h-2.78zM1910.04 339.87h2.78v27.76h-2.78zM1912.81 339.87h2.78v38.87h-2.78zM1915.59 342.65h2.78v33.32h-2.78zM1918.37 345.43h2.78v19.43h-2.78zM1921.14 348.2h2.78v16.66h-2.78zM1923.92 342.65h2.78v22.21h-2.78zM1926.7 339.87h2.78v27.76h-2.78zM1929.47 339.87h2.78v24.99h-2.78zM1932.25 337.1h2.78v30.54h-2.78zM1935.03 337.1h2.78v33.32h-2.78zM1937.8 345.43h2.78v19.43h-2.78zM1940.58 348.2h2.78v16.66h-2.78zM1943.36 350.98h2.78v19.43h-2.78zM1946.13 342.65h2.78v27.76h-2.78zM1948.91 342.65h2.78v27.76h-2.78zM1951.68 350.98h2.78v22.21h-2.78zM1954.46 342.65h2.78v30.54h-2.78zM1957.24 331.54h2.78v44.42h-2.78zM1960.01 331.54h2.78v47.2h-2.78zM1962.79 334.32h2.78v33.32h-2.78zM1965.57 331.54h2.78v38.87h-2.78zM1968.34 334.32h2.78v33.32h-2.78zM1971.12 334.32h2.78v13.88h-2.78z"/>
</g>
</g>
<g id="frame" fill="#000" shape-rendering="crispEdges">
<rect x="163.69" y="26.14" width="1822.7" height="2.78" fill="#C4C4C4"/>
<rect x="158.13" y="28.92" width="1833.82" height="4.96"/>
<rect x="158.13" y="1373.93" width="1833.82" height="4.97"/>
<rect x="158.13" y="26.14" width="5.56" height="1352.76"/>
<rect x="1986.39" y="26.14" width="5.56" height="1352.76"/>
</g>
<g id="ticks" fill="#000" shape-rendering="crispEdges">
<rect x="174.79" y="1378.9" width="5.55" height="10.6"/>
<rect x="280.29" y="1378.9" width="5.55" height="24.6"/>
<rect x="385.79" y="1378.9" width="5.55" height="10.6"/>
<rect x="491.30" y="1378.9" width="5.55" height="24.6"/>
<rect x="596.80" y="1378.9" width="5.55" height="10.6"/>
<rect x="702.30" y="1378.9" width="5.55" height="24.6"/>
<rect x="807.81" y="1378.9" width="5.55" height="10.6"/>
<rect x="913.31" y="1378.9" width="5.55" height="24.6"/>
<rect x="1018.81" y="1378.9" width="5.55" height="10.6"/>
<rect x="1124.32" y="1378.9" width="5.55" height="24.6"/>
<rect x="1229.82" y="1378.9" width="5.55" height="10.6"/>
<rect x="1335.32" y="1378.9" width="5.55" height="24.6"/>
<rect x="1440.83" y="1378.9" width="5.55" height="10.6"/>
<rect x="1546.33" y="1378.9" width="5.55" height="24.6"/>
<rect x="1651.83" y="1378.9" width="5.55" height="10.6"/>
<rect x="1757.34" y="1378.9" width="5.55" height="24.6"/>
<rect x="1862.84" y="1378.9" width="5.55" height="10.6"/>
<rect x="1968.34" y="1378.9" width="5.55" height="24.6"/>
</g>
<g id="ticklabels">
<text x="283.75" y="1464.8" text-anchor="middle" class="tl">10</text>
<text x="494.75" y="1464.8" text-anchor="middle" class="tl">20</text>
<text x="705.75" y="1464.8" text-anchor="middle" class="tl">30</text>
<text x="916.75" y="1464.8" text-anchor="middle" class="tl">40</text>
<text x="1127.75" y="1464.8" text-anchor="middle" class="tl">50</text>
<text x="1338.75" y="1464.8" text-anchor="middle" class="tl">60</text>
<text x="1549.75" y="1464.8" text-anchor="middle" class="tl">70</text>
<text x="1760.75" y="1464.8" text-anchor="middle" class="tl">80</text>
<text x="1971.75" y="1464.8" text-anchor="middle" class="tl">90</text>
</g>
<text class="lab" x="1784.5" y="276" text-anchor="middle">(d)</text>
<text class="lab" x="1782" y="491.5" text-anchor="middle">(c)</text>
<text class="lab" x="1784.5" y="867.5" text-anchor="middle">(b)</text>
<text class="lab" x="1782" y="1210.5" text-anchor="middle">(a)</text>
<text class="yl" transform="translate(74.2,917.8) rotate(-90) scale(0.956,1)">Intensity (a.u.)</text>
<text class="xl" y="1575"><tspan x="976.5" font-style="italic" textLength="31" lengthAdjust="spacingAndGlyphs">2</tspan><tspan x="1010.5" font-style="italic">θ</tspan><tspan> </tspan><tspan x="1063" font-weight="normal">/</tspan><tspan> </tspan><tspan x="1098">(°)</tspan></text>
</svg>
</body>
</html>
